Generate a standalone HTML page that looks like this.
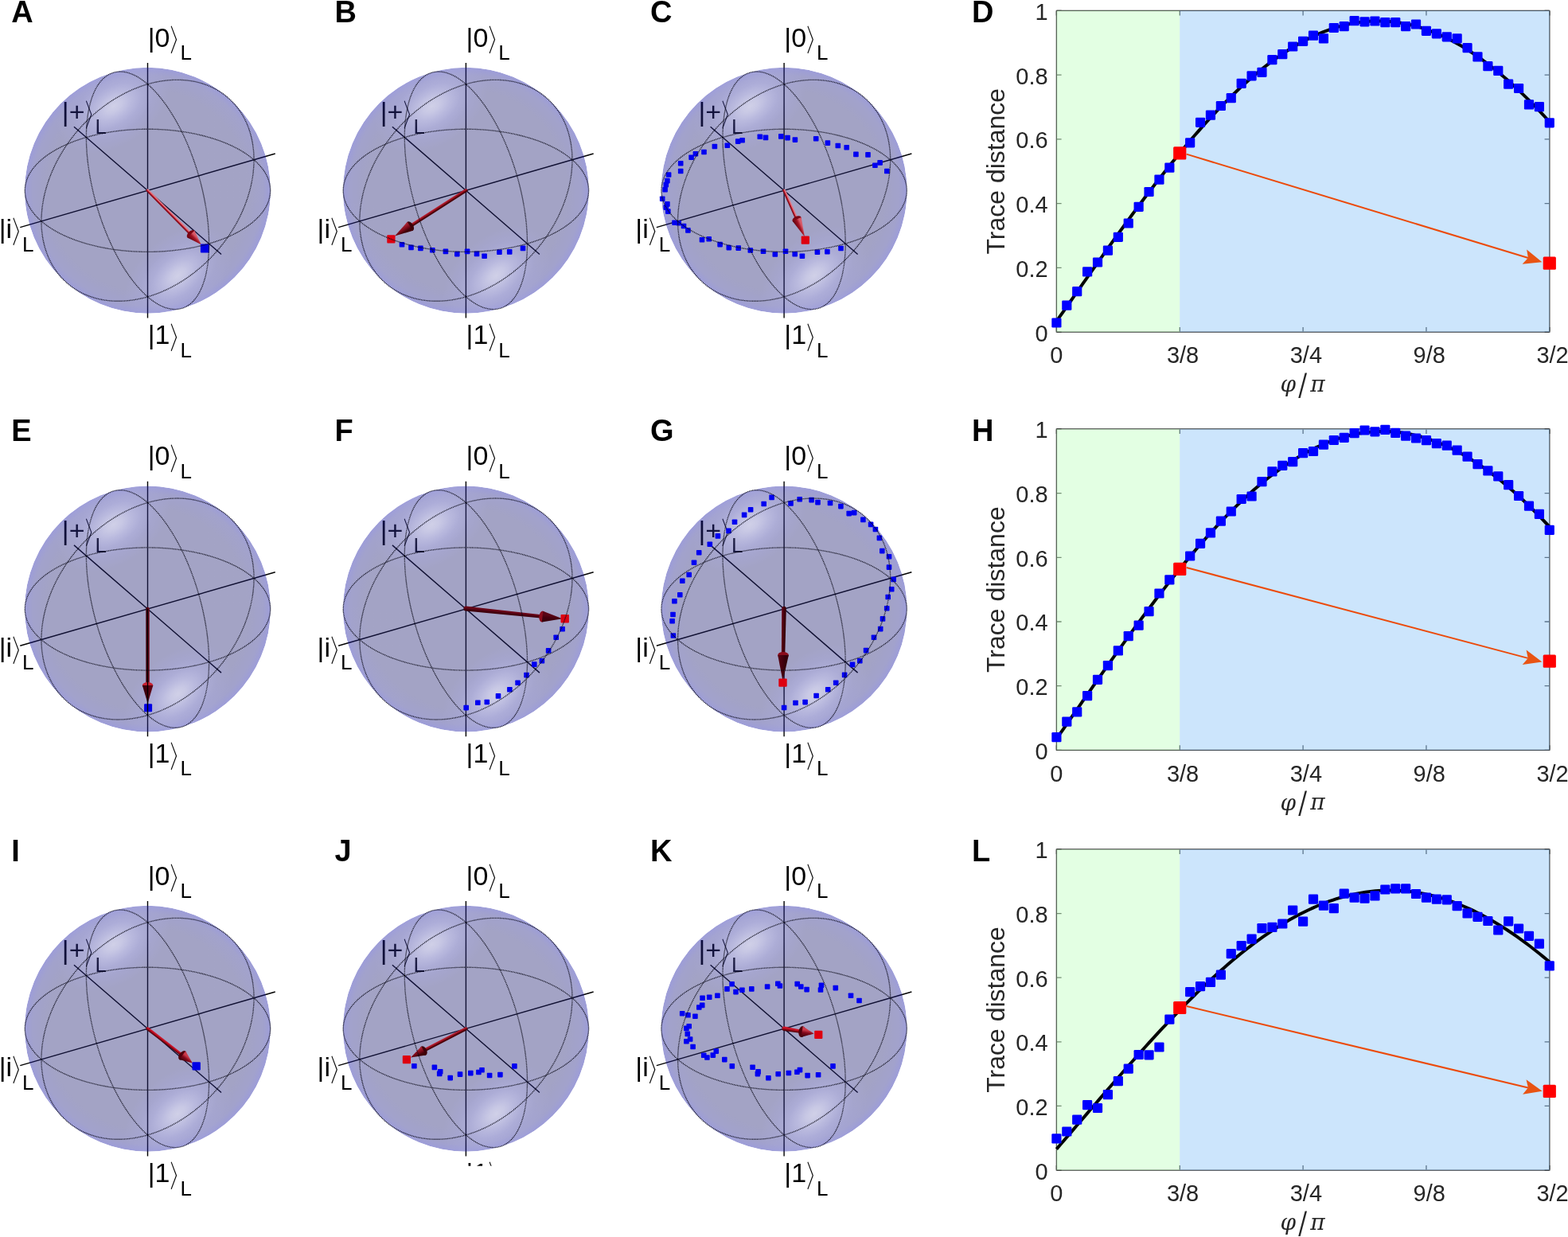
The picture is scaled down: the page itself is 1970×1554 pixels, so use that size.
<!DOCTYPE html>
<html><head><meta charset="utf-8"><title>Bloch sphere figure</title><style>html,body{margin:0;padding:0;background:#fff;}svg{display:block;}</style></head><body>
<svg xmlns="http://www.w3.org/2000/svg" width="1970" height="1554" viewBox="0 0 1970 1554">

<defs>
<radialGradient id="sph" cx="0.5" cy="0.5" r="0.5">
 <stop offset="0" stop-color="#242475"/>
 <stop offset="0.82" stop-color="#242475"/>
 <stop offset="0.94" stop-color="#222286"/>
 <stop offset="1" stop-color="#1616a5"/>
</radialGradient>
<radialGradient id="hl" cx="0.5" cy="0.5" r="0.5">
 <stop offset="0" stop-color="#9999c8" stop-opacity="0.9"/>
 <stop offset="0.2" stop-color="#9999c8" stop-opacity="0.72"/>
 <stop offset="0.45" stop-color="#9999c8" stop-opacity="0.38"/>
 <stop offset="0.7" stop-color="#9999c8" stop-opacity="0.12"/>
 <stop offset="1" stop-color="#9999c8" stop-opacity="0"/>
</radialGradient>
<radialGradient id="halo" cx="0.5" cy="0.5" r="0.5">
 <stop offset="0" stop-color="#3939ba" stop-opacity="0.9"/>
 <stop offset="0.5" stop-color="#3939ba" stop-opacity="0.5"/>
 <stop offset="1" stop-color="#3939ba" stop-opacity="0"/>
</radialGradient>
<linearGradient id="shaftLit" x1="0" y1="0" x2="0" y2="1">
 <stop offset="0" stop-color="#7a0010"/>
 <stop offset="0.35" stop-color="#c8283a"/>
 <stop offset="0.55" stop-color="#b01020"/>
 <stop offset="1" stop-color="#5a0008"/>
</linearGradient>
<linearGradient id="shaftMid" x1="0" y1="0" x2="0" y2="1">
 <stop offset="0" stop-color="#a01020"/>
 <stop offset="0.4" stop-color="#8a0a18"/>
 <stop offset="1" stop-color="#40000a"/>
</linearGradient>
<linearGradient id="shaftDark" x1="0" y1="0" x2="0" y2="1">
 <stop offset="0" stop-color="#5a0012"/>
 <stop offset="0.5" stop-color="#40000c"/>
 <stop offset="1" stop-color="#300008"/>
</linearGradient>
<clipPath id="clipJ"><rect x="440" y="1380" width="300" height="84.7"/></clipPath>
</defs>

<rect width="1970" height="1554" fill="#ffffff"/>
<text x="14.3" y="28.1" font-family="Liberation Sans, sans-serif" font-weight="700" font-size="38">A</text>
<text x="420.6" y="28.1" font-family="Liberation Sans, sans-serif" font-weight="700" font-size="38">B</text>
<text x="817" y="28.1" font-family="Liberation Sans, sans-serif" font-weight="700" font-size="38">C</text>
<text x="1220.9" y="28.1" font-family="Liberation Sans, sans-serif" font-weight="700" font-size="38">D</text>
<text x="14.3" y="553.7" font-family="Liberation Sans, sans-serif" font-weight="700" font-size="38">E</text>
<text x="420.6" y="553.7" font-family="Liberation Sans, sans-serif" font-weight="700" font-size="38">F</text>
<text x="817" y="553.7" font-family="Liberation Sans, sans-serif" font-weight="700" font-size="38">G</text>
<text x="1220.9" y="553.7" font-family="Liberation Sans, sans-serif" font-weight="700" font-size="38">H</text>
<text x="14.3" y="1081.5" font-family="Liberation Sans, sans-serif" font-weight="700" font-size="38">I</text>
<text x="420.6" y="1081.5" font-family="Liberation Sans, sans-serif" font-weight="700" font-size="38">J</text>
<text x="817" y="1081.5" font-family="Liberation Sans, sans-serif" font-weight="700" font-size="38">K</text>
<text x="1220.9" y="1081.5" font-family="Liberation Sans, sans-serif" font-weight="700" font-size="38">L</text>
<text x="185.7" y="58.5" font-family="Liberation Sans, sans-serif" font-size="34">|0</text>
<text transform="translate(215.24 64.3) scale(0.8 1)" x="-5.8" y="0" font-family="Liberation Sans, WenQuanYi Zen Hei, sans-serif" font-size="39.5">〉</text>
<text x="226.44" y="74.9" font-family="Liberation Sans, sans-serif" font-size="26">L</text>
<text x="185.7" y="432.2" font-family="Liberation Sans, sans-serif" font-size="34">|1</text>
<text transform="translate(215.24 438) scale(0.8 1)" x="-5.8" y="0" font-family="Liberation Sans, WenQuanYi Zen Hei, sans-serif" font-size="39.5">〉</text>
<text x="226.44" y="448.6" font-family="Liberation Sans, sans-serif" font-size="26">L</text>
<text x="-1.3" y="299.2" font-family="Liberation Sans, sans-serif" font-size="34">|i</text>
<text transform="translate(16.89 305) scale(0.8 1)" x="-5.8" y="0" font-family="Liberation Sans, WenQuanYi Zen Hei, sans-serif" font-size="39.5">〉</text>
<text x="28.09" y="315.6" font-family="Liberation Sans, sans-serif" font-size="26">L</text>
<text x="77.8" y="151.8" font-family="Liberation Sans, sans-serif" font-size="34">|+</text>
<text transform="translate(108.3 157.6) scale(0.8 1)" x="-5.8" y="0" font-family="Liberation Sans, WenQuanYi Zen Hei, sans-serif" font-size="39.5">〉</text>
<text x="119.5" y="168.2" font-family="Liberation Sans, sans-serif" font-size="26">L</text>
<line x1="92.98" y1="159.18" x2="278.02" y2="319.42" stroke="#000" stroke-width="1.4"/>
<line x1="25.25" y1="285.56" x2="345.75" y2="193.04" stroke="#000" stroke-width="1.4"/>
<line x1="185.5" y1="79.05" x2="185.5" y2="399.55" stroke="#000" stroke-width="1.4"/>
<clipPath id="sc00"><circle cx="185.5" cy="239.3" r="154.5"/></clipPath>
<g opacity="0.42" clip-path="url(#sc00)">
<circle cx="185.5" cy="239.3" r="154.5" fill="url(#sph)"/>
<ellipse cx="142.5" cy="133.3" rx="78" ry="50" transform="rotate(-33 142.5 133.3)" fill="url(#halo)"/>
<ellipse cx="142.5" cy="133.3" rx="56" ry="34" transform="rotate(-33 142.5 133.3)" fill="url(#hl)"/>
<ellipse cx="223.5" cy="346.3" rx="78" ry="50" transform="rotate(-40 223.5 346.3)" fill="url(#halo)"/>
<ellipse cx="223.5" cy="346.3" rx="56" ry="34" transform="rotate(-40 223.5 346.3)" fill="url(#hl)"/>
</g>
<defs><linearGradient id="ash0" x1="0" y1="0" x2="0" y2="1"><stop offset="0" stop-color="#e27884"/><stop offset="0.3" stop-color="#e27884"/><stop offset="0.55" stop-color="#b81a2a"/><stop offset="1" stop-color="#6a0010"/></linearGradient><linearGradient id="ahd0" x1="0" y1="0" x2="0" y2="1"><stop offset="0" stop-color="#d85a68"/><stop offset="0.3" stop-color="#d85a68"/><stop offset="0.55" stop-color="#a01222"/><stop offset="1" stop-color="#5a000c"/></linearGradient></defs>
<g transform="translate(185.5 239.3) rotate(45.25)">
<path d="M0 -1.85 L78.25 -1.85 L78.25 1.85 L0 1.85 A1.85 1.85 0 0 1 0 -1.85 Z" fill="url(#ash0)"/>
<ellipse cx="77.25" cy="0" rx="3.75" ry="6.25" fill="#7a0614"/>
<path d="M77.25 -6.25 L95.6 0 L77.25 6.25 Z" fill="url(#ahd0)"/>
</g>
<rect x="251.9" y="306.6" width="11" height="11" rx="1" fill="#0000e6"/>
<path d="M108.4 172.53 L103.79 173.92 L99.27 175.38 L94.86 176.92 L90.57 178.54 L86.38 180.24 L82.32 182 L78.38 183.84 L74.58 185.74 L70.91 187.71 L67.38 189.74 L63.99 191.83 L60.75 193.98 L57.66 196.19 L54.73 198.44 L51.96 200.75 L49.35 203.1 L46.91 205.5 L44.63 207.94 L42.53 210.42 L40.6 212.93 L38.85 215.47 L37.27 218.05 L35.88 220.65 L34.67 223.27 L33.64 225.91 L32.8 228.57 L32.14 231.24 L31.68 233.92 L31.39 236.61 L31.3 239.3 L31.39 241.99 L31.68 244.68 L32.14 247.36 L32.8 250.03 L33.64 252.69 L34.67 255.33 L35.88 257.95 L37.27 260.55 L38.85 263.13 L40.6 265.67 L42.53 268.18 L44.63 270.66 L46.91 273.1 L49.35 275.5 L51.96 277.85 L54.73 280.16 L57.66 282.41 L60.75 284.62 L63.99 286.77 L67.38 288.86 L70.91 290.89 L74.58 292.86 L78.38 294.76 L82.32 296.6 L86.38 298.36 L90.57 300.06 L94.86 301.68 L99.27 303.22 L103.79 304.68 L108.4 306.07 L113.11 307.38 L117.9 308.6 L122.78 309.73 L127.74 310.79 L132.76 311.75 L137.85 312.63 L143 313.41 L148.2 314.11 L153.44 314.72 L158.72 315.23 L164.04 315.65 L169.38 315.98 L174.74 316.21 L180.12 316.35 L185.5 316.4 L190.88 316.35 L196.26 316.21 L201.62 315.98 L206.96 315.65 L212.28 315.23 L217.56 314.72 L222.8 314.11 L228 313.41 L233.15 312.63 L238.24 311.75 L243.26 310.79 L248.22 309.73 L253.1 308.6 L257.89 307.38 L262.6 306.07 L267.21 304.68 L271.73 303.22 L276.14 301.68 L280.43 300.06 L284.62 298.36 L288.68 296.6 L292.62 294.76 L296.42 292.86 L300.09 290.89 L303.62 288.86 L307.01 286.77 L310.25 284.62 L313.34 282.41 L316.27 280.16 L319.04 277.85 L321.65 275.5 L324.09 273.1 L326.37 270.66 L328.47 268.18 L330.4 265.67 L332.15 263.13 L333.73 260.55 L335.12 257.95 L336.33 255.33 L337.36 252.69 L338.2 250.03 L338.86 247.36 L339.32 244.68 L339.61 241.99 L339.7 239.3 L339.61 236.61 L339.32 233.92 L338.86 231.24 L338.2 228.57 L337.36 225.91 L336.33 223.27 L335.12 220.65 L333.73 218.05 L332.15 215.47 L330.4 212.93 L328.47 210.42 L326.37 207.94 L324.09 205.5 L321.65 203.1 L319.04 200.75 L316.27 198.44 L313.34 196.19 L310.25 193.98 L307.01 191.83 L303.62 189.74 L300.09 187.71 L296.42 185.74 L292.62 183.84 L288.68 182 L284.62 180.24 L280.43 178.54 L276.14 176.92 L271.73 175.38 L267.21 173.92 L262.6 172.53 L257.89 171.22 L253.1 170 L248.22 168.87 L243.26 167.81 L238.24 166.85 L233.15 165.97 L228 165.19 L222.8 164.49 L217.56 163.88 L212.28 163.37 L206.96 162.95 L201.62 162.62 L196.26 162.39 L190.88 162.25 L185.5 162.2 L180.12 162.25 L174.74 162.39 L169.38 162.62 L164.04 162.95 L158.72 163.37 L153.44 163.88 L148.2 164.49 L143 165.19 L137.85 165.97 L132.76 166.85 L127.74 167.81 L122.78 168.87 L117.9 170 L113.11 171.22 L108.4 172.53Z" fill="none" stroke="#0a0a18" stroke-width="1.35" stroke-dasharray="1.2 0.85" opacity="0.88"/>
<path d="M185.5 105.76 L182.81 103.51 L180.12 101.43 L177.44 99.51 L174.77 97.77 L172.11 96.19 L169.47 94.79 L166.85 93.57 L164.25 92.53 L161.67 91.66 L159.13 90.98 L156.62 90.47 L154.14 90.15 L151.7 90 L149.3 90.04 L146.95 90.26 L144.64 90.67 L142.39 91.25 L140.18 92.02 L138.03 92.96 L135.94 94.08 L133.91 95.38 L131.94 96.86 L130.04 98.5 L128.2 100.32 L126.44 102.31 L124.74 104.47 L123.12 106.79 L121.58 109.27 L120.12 111.91 L118.73 114.7 L117.42 117.65 L116.2 120.75 L115.07 123.99 L114.01 127.37 L113.05 130.88 L112.17 134.53 L111.39 138.31 L110.69 142.21 L110.08 146.22 L109.57 150.35 L109.15 154.59 L108.82 158.94 L108.59 163.38 L108.45 167.91 L108.4 172.53 L108.45 177.23 L108.59 182.01 L108.82 186.85 L109.15 191.76 L109.57 196.73 L110.08 201.75 L110.69 206.82 L111.39 211.92 L112.17 217.06 L113.05 222.23 L114.01 227.42 L115.07 232.62 L116.2 237.83 L117.42 243.04 L118.73 248.25 L120.12 253.44 L121.58 258.62 L123.12 263.77 L124.74 268.9 L126.44 273.99 L128.2 279.04 L130.04 284.03 L131.94 288.98 L133.91 293.86 L135.94 298.68 L138.03 303.42 L140.18 308.09 L142.39 312.67 L144.64 317.17 L146.95 321.56 L149.3 325.86 L151.7 330.06 L154.14 334.14 L156.62 338.1 L159.13 341.95 L161.67 345.67 L164.25 349.26 L166.85 352.72 L169.47 356.04 L172.11 359.22 L174.77 362.25 L177.44 365.13 L180.12 367.86 L182.81 370.43 L185.5 372.84 L188.19 375.09 L190.88 377.17 L193.56 379.09 L196.23 380.83 L198.89 382.41 L201.53 383.81 L204.15 385.03 L206.75 386.07 L209.33 386.94 L211.87 387.62 L214.38 388.13 L216.86 388.45 L219.3 388.6 L221.7 388.56 L224.05 388.34 L226.36 387.93 L228.61 387.35 L230.82 386.58 L232.97 385.64 L235.06 384.52 L237.09 383.22 L239.06 381.74 L240.96 380.1 L242.8 378.28 L244.56 376.29 L246.26 374.13 L247.88 371.81 L249.42 369.33 L250.88 366.69 L252.27 363.9 L253.58 360.95 L254.8 357.85 L255.93 354.61 L256.99 351.23 L257.95 347.72 L258.83 344.07 L259.61 340.29 L260.31 336.39 L260.92 332.38 L261.43 328.25 L261.85 324.01 L262.18 319.66 L262.41 315.22 L262.55 310.69 L262.6 306.07 L262.55 301.37 L262.41 296.59 L262.18 291.75 L261.85 286.84 L261.43 281.87 L260.92 276.85 L260.31 271.78 L259.61 266.68 L258.83 261.54 L257.95 256.37 L256.99 251.18 L255.93 245.98 L254.8 240.77 L253.58 235.56 L252.27 230.35 L250.88 225.16 L249.42 219.98 L247.88 214.83 L246.26 209.7 L244.56 204.61 L242.8 199.56 L240.96 194.57 L239.06 189.62 L237.09 184.74 L235.06 179.92 L232.97 175.18 L230.82 170.51 L228.61 165.93 L226.36 161.43 L224.05 157.04 L221.7 152.74 L219.3 148.54 L216.86 144.46 L214.38 140.5 L211.87 136.65 L209.33 132.93 L206.75 129.34 L204.15 125.88 L201.53 122.56 L198.89 119.38 L196.23 116.35 L193.56 113.47 L190.88 110.74 L188.19 108.17 L185.5 105.76Z" fill="none" stroke="#0a0a18" stroke-width="1.35" stroke-dasharray="1.2 0.85" opacity="0.88"/>
<path d="M185.5 105.76 L180.84 107.19 L176.18 108.77 L171.54 110.52 L166.91 112.42 L162.31 114.48 L157.74 116.69 L153.19 119.05 L148.69 121.56 L144.23 124.21 L139.83 127 L135.47 129.92 L131.18 132.98 L126.96 136.17 L122.81 139.49 L118.73 142.93 L114.73 146.48 L110.82 150.15 L107.01 153.92 L103.28 157.8 L99.66 161.78 L96.14 165.85 L92.73 170.02 L89.44 174.27 L86.26 178.59 L83.2 182.99 L80.27 187.46 L77.46 191.99 L74.79 196.58 L72.25 201.23 L69.85 205.91 L67.59 210.64 L65.47 215.41 L63.5 220.2 L61.68 225.02 L60.01 229.85 L58.49 234.7 L57.13 239.55 L55.93 244.4 L54.88 249.24 L53.99 254.08 L53.26 258.89 L52.69 263.68 L52.28 268.44 L52.04 273.17 L51.96 277.85 L52.04 282.49 L52.28 287.07 L52.69 291.6 L53.26 296.06 L53.99 300.45 L54.88 304.77 L55.93 309.01 L57.13 313.17 L58.49 317.23 L60.01 321.2 L61.68 325.07 L63.5 328.83 L65.47 332.49 L67.59 336.03 L69.85 339.46 L72.25 342.76 L74.79 345.93 L77.46 348.98 L80.27 351.89 L83.2 354.67 L86.26 357.3 L89.44 359.8 L92.73 362.14 L96.14 364.34 L99.66 366.38 L103.28 368.27 L107.01 370 L110.82 371.57 L114.73 372.98 L118.73 374.22 L122.81 375.31 L126.96 376.23 L131.18 376.98 L135.47 377.56 L139.83 377.97 L144.23 378.22 L148.69 378.29 L153.19 378.2 L157.74 377.94 L162.31 377.51 L166.91 376.91 L171.54 376.14 L176.18 375.2 L180.84 374.11 L185.5 372.84 L190.16 371.41 L194.82 369.83 L199.46 368.08 L204.09 366.18 L208.69 364.12 L213.26 361.91 L217.81 359.55 L222.31 357.04 L226.77 354.39 L231.17 351.6 L235.53 348.68 L239.82 345.62 L244.04 342.43 L248.19 339.11 L252.27 335.67 L256.27 332.12 L260.18 328.45 L263.99 324.68 L267.72 320.8 L271.34 316.82 L274.86 312.75 L278.27 308.58 L281.56 304.33 L284.74 300.01 L287.8 295.61 L290.73 291.14 L293.54 286.61 L296.21 282.02 L298.75 277.37 L301.15 272.69 L303.41 267.96 L305.53 263.19 L307.5 258.4 L309.32 253.58 L310.99 248.75 L312.51 243.9 L313.87 239.05 L315.07 234.2 L316.12 229.36 L317.01 224.52 L317.74 219.71 L318.31 214.92 L318.72 210.16 L318.96 205.43 L319.04 200.75 L318.96 196.11 L318.72 191.53 L318.31 187 L317.74 182.54 L317.01 178.15 L316.12 173.83 L315.07 169.59 L313.87 165.43 L312.51 161.37 L310.99 157.4 L309.32 153.53 L307.5 149.77 L305.53 146.11 L303.41 142.57 L301.15 139.14 L298.75 135.84 L296.21 132.67 L293.54 129.62 L290.73 126.71 L287.8 123.93 L284.74 121.3 L281.56 118.8 L278.27 116.46 L274.86 114.26 L271.34 112.22 L267.72 110.33 L263.99 108.6 L260.18 107.03 L256.27 105.62 L252.27 104.38 L248.19 103.29 L244.04 102.37 L239.82 101.62 L235.53 101.04 L231.17 100.63 L226.77 100.38 L222.31 100.31 L217.81 100.4 L213.26 100.66 L208.69 101.09 L204.09 101.69 L199.46 102.46 L194.82 103.4 L190.16 104.49 L185.5 105.76Z" fill="none" stroke="#0a0a18" stroke-width="1.35" stroke-dasharray="1.2 0.85" opacity="0.88"/>
<text x="585.6" y="58.5" font-family="Liberation Sans, sans-serif" font-size="34">|0</text>
<text transform="translate(615.14 64.3) scale(0.8 1)" x="-5.8" y="0" font-family="Liberation Sans, WenQuanYi Zen Hei, sans-serif" font-size="39.5">〉</text>
<text x="626.34" y="74.9" font-family="Liberation Sans, sans-serif" font-size="26">L</text>
<text x="585.6" y="432.2" font-family="Liberation Sans, sans-serif" font-size="34">|1</text>
<text transform="translate(615.14 438) scale(0.8 1)" x="-5.8" y="0" font-family="Liberation Sans, WenQuanYi Zen Hei, sans-serif" font-size="39.5">〉</text>
<text x="626.34" y="448.6" font-family="Liberation Sans, sans-serif" font-size="26">L</text>
<text x="398.6" y="299.2" font-family="Liberation Sans, sans-serif" font-size="34">|i</text>
<text transform="translate(416.79 305) scale(0.8 1)" x="-5.8" y="0" font-family="Liberation Sans, WenQuanYi Zen Hei, sans-serif" font-size="39.5">〉</text>
<text x="427.99" y="315.6" font-family="Liberation Sans, sans-serif" font-size="26">L</text>
<text x="477.7" y="151.8" font-family="Liberation Sans, sans-serif" font-size="34">|+</text>
<text transform="translate(508.2 157.6) scale(0.8 1)" x="-5.8" y="0" font-family="Liberation Sans, WenQuanYi Zen Hei, sans-serif" font-size="39.5">〉</text>
<text x="519.4" y="168.2" font-family="Liberation Sans, sans-serif" font-size="26">L</text>
<line x1="492.88" y1="159.18" x2="677.92" y2="319.42" stroke="#000" stroke-width="1.4"/>
<line x1="425.15" y1="285.56" x2="745.65" y2="193.04" stroke="#000" stroke-width="1.4"/>
<line x1="585.4" y1="79.05" x2="585.4" y2="399.55" stroke="#000" stroke-width="1.4"/>
<clipPath id="sc10"><circle cx="585.4" cy="239.3" r="154.5"/></clipPath>
<g opacity="0.42" clip-path="url(#sc10)">
<circle cx="585.4" cy="239.3" r="154.5" fill="url(#sph)"/>
<ellipse cx="542.4" cy="133.3" rx="78" ry="50" transform="rotate(-33 542.4 133.3)" fill="url(#halo)"/>
<ellipse cx="542.4" cy="133.3" rx="56" ry="34" transform="rotate(-33 542.4 133.3)" fill="url(#hl)"/>
<ellipse cx="623.4" cy="346.3" rx="78" ry="50" transform="rotate(-40 623.4 346.3)" fill="url(#halo)"/>
<ellipse cx="623.4" cy="346.3" rx="56" ry="34" transform="rotate(-40 623.4 346.3)" fill="url(#hl)"/>
</g>
<rect x="501.7" y="303.9" width="6.6" height="6.6" rx="0.8" fill="#0000f0"/>
<rect x="513.2" y="307.6" width="6.6" height="6.6" rx="0.8" fill="#0000f0"/>
<rect x="525.1" y="308.6" width="6.6" height="6.6" rx="0.8" fill="#0000f0"/>
<rect x="540" y="310.9" width="6.6" height="6.6" rx="0.8" fill="#0000f0"/>
<rect x="556.6" y="312.6" width="6.6" height="6.6" rx="0.8" fill="#0000f0"/>
<rect x="571" y="315.8" width="6.6" height="6.6" rx="0.8" fill="#0000f0"/>
<rect x="583.8" y="312.6" width="6.6" height="6.6" rx="0.8" fill="#0000f0"/>
<rect x="595.7" y="315.6" width="6.6" height="6.6" rx="0.8" fill="#0000f0"/>
<rect x="605.3" y="318.5" width="6.6" height="6.6" rx="0.8" fill="#0000f0"/>
<rect x="624.1" y="313.5" width="6.6" height="6.6" rx="0.8" fill="#0000f0"/>
<rect x="636.9" y="313.1" width="6.6" height="6.6" rx="0.8" fill="#0000f0"/>
<rect x="653.7" y="308.6" width="6.6" height="6.6" rx="0.8" fill="#0000f0"/>
<defs><linearGradient id="ash1" x1="0" y1="0" x2="0" y2="1"><stop offset="0" stop-color="#4a0008"/><stop offset="0.3" stop-color="#4a0008"/><stop offset="0.55" stop-color="#900c1c"/><stop offset="1" stop-color="#c02434"/></linearGradient><linearGradient id="ahd1" x1="0" y1="0" x2="0" y2="1"><stop offset="0" stop-color="#400008"/><stop offset="0.3" stop-color="#400008"/><stop offset="0.55" stop-color="#7a0818"/><stop offset="1" stop-color="#b82838"/></linearGradient></defs>
<g transform="translate(585.4 239.3) rotate(147.39)">
<path d="M0 -2.1 L84.24 -2.1 L84.24 2.1 L0 2.1 A2.1 2.1 0 0 1 0 -2.1 Z" fill="url(#ash1)"/>
<ellipse cx="83.24" cy="0" rx="3.9" ry="6.5" fill="#3c0008"/>
<path d="M83.24 -6.5 L106.13 0 L83.24 6.5 Z" fill="url(#ahd1)"/>
</g>
<rect x="486.25" y="295.25" width="10.3" height="10.3" rx="1" fill="#dd0010"/>
<path d="M508.3 172.53 L503.69 173.92 L499.17 175.38 L494.76 176.92 L490.47 178.54 L486.28 180.24 L482.22 182 L478.28 183.84 L474.48 185.74 L470.81 187.71 L467.28 189.74 L463.89 191.83 L460.65 193.98 L457.56 196.19 L454.63 198.44 L451.86 200.75 L449.25 203.1 L446.81 205.5 L444.53 207.94 L442.43 210.42 L440.5 212.93 L438.75 215.47 L437.17 218.05 L435.78 220.65 L434.57 223.27 L433.54 225.91 L432.7 228.57 L432.04 231.24 L431.58 233.92 L431.29 236.61 L431.2 239.3 L431.29 241.99 L431.58 244.68 L432.04 247.36 L432.7 250.03 L433.54 252.69 L434.57 255.33 L435.78 257.95 L437.17 260.55 L438.75 263.13 L440.5 265.67 L442.43 268.18 L444.53 270.66 L446.81 273.1 L449.25 275.5 L451.86 277.85 L454.63 280.16 L457.56 282.41 L460.65 284.62 L463.89 286.77 L467.28 288.86 L470.81 290.89 L474.48 292.86 L478.28 294.76 L482.22 296.6 L486.28 298.36 L490.47 300.06 L494.76 301.68 L499.17 303.22 L503.69 304.68 L508.3 306.07 L513.01 307.38 L517.8 308.6 L522.68 309.73 L527.64 310.79 L532.66 311.75 L537.75 312.63 L542.9 313.41 L548.1 314.11 L553.34 314.72 L558.62 315.23 L563.94 315.65 L569.28 315.98 L574.64 316.21 L580.02 316.35 L585.4 316.4 L590.78 316.35 L596.16 316.21 L601.52 315.98 L606.86 315.65 L612.18 315.23 L617.46 314.72 L622.7 314.11 L627.9 313.41 L633.05 312.63 L638.14 311.75 L643.16 310.79 L648.12 309.73 L653 308.6 L657.79 307.38 L662.5 306.07 L667.11 304.68 L671.63 303.22 L676.04 301.68 L680.33 300.06 L684.52 298.36 L688.58 296.6 L692.52 294.76 L696.32 292.86 L699.99 290.89 L703.52 288.86 L706.91 286.77 L710.15 284.62 L713.24 282.41 L716.17 280.16 L718.94 277.85 L721.55 275.5 L723.99 273.1 L726.27 270.66 L728.37 268.18 L730.3 265.67 L732.05 263.13 L733.63 260.55 L735.02 257.95 L736.23 255.33 L737.26 252.69 L738.1 250.03 L738.76 247.36 L739.22 244.68 L739.51 241.99 L739.6 239.3 L739.51 236.61 L739.22 233.92 L738.76 231.24 L738.1 228.57 L737.26 225.91 L736.23 223.27 L735.02 220.65 L733.63 218.05 L732.05 215.47 L730.3 212.93 L728.37 210.42 L726.27 207.94 L723.99 205.5 L721.55 203.1 L718.94 200.75 L716.17 198.44 L713.24 196.19 L710.15 193.98 L706.91 191.83 L703.52 189.74 L699.99 187.71 L696.32 185.74 L692.52 183.84 L688.58 182 L684.52 180.24 L680.33 178.54 L676.04 176.92 L671.63 175.38 L667.11 173.92 L662.5 172.53 L657.79 171.22 L653 170 L648.12 168.87 L643.16 167.81 L638.14 166.85 L633.05 165.97 L627.9 165.19 L622.7 164.49 L617.46 163.88 L612.18 163.37 L606.86 162.95 L601.52 162.62 L596.16 162.39 L590.78 162.25 L585.4 162.2 L580.02 162.25 L574.64 162.39 L569.28 162.62 L563.94 162.95 L558.62 163.37 L553.34 163.88 L548.1 164.49 L542.9 165.19 L537.75 165.97 L532.66 166.85 L527.64 167.81 L522.68 168.87 L517.8 170 L513.01 171.22 L508.3 172.53Z" fill="none" stroke="#0a0a18" stroke-width="1.35" stroke-dasharray="1.2 0.85" opacity="0.88"/>
<path d="M585.4 105.76 L582.71 103.51 L580.02 101.43 L577.34 99.51 L574.67 97.77 L572.01 96.19 L569.37 94.79 L566.75 93.57 L564.15 92.53 L561.57 91.66 L559.03 90.98 L556.52 90.47 L554.04 90.15 L551.6 90 L549.2 90.04 L546.85 90.26 L544.54 90.67 L542.29 91.25 L540.08 92.02 L537.93 92.96 L535.84 94.08 L533.81 95.38 L531.84 96.86 L529.94 98.5 L528.1 100.32 L526.34 102.31 L524.64 104.47 L523.02 106.79 L521.48 109.27 L520.02 111.91 L518.63 114.7 L517.32 117.65 L516.1 120.75 L514.97 123.99 L513.91 127.37 L512.95 130.88 L512.07 134.53 L511.29 138.31 L510.59 142.21 L509.98 146.22 L509.47 150.35 L509.05 154.59 L508.72 158.94 L508.49 163.38 L508.35 167.91 L508.3 172.53 L508.35 177.23 L508.49 182.01 L508.72 186.85 L509.05 191.76 L509.47 196.73 L509.98 201.75 L510.59 206.82 L511.29 211.92 L512.07 217.06 L512.95 222.23 L513.91 227.42 L514.97 232.62 L516.1 237.83 L517.32 243.04 L518.63 248.25 L520.02 253.44 L521.48 258.62 L523.02 263.77 L524.64 268.9 L526.34 273.99 L528.1 279.04 L529.94 284.03 L531.84 288.98 L533.81 293.86 L535.84 298.68 L537.93 303.42 L540.08 308.09 L542.29 312.67 L544.54 317.17 L546.85 321.56 L549.2 325.86 L551.6 330.06 L554.04 334.14 L556.52 338.1 L559.03 341.95 L561.57 345.67 L564.15 349.26 L566.75 352.72 L569.37 356.04 L572.01 359.22 L574.67 362.25 L577.34 365.13 L580.02 367.86 L582.71 370.43 L585.4 372.84 L588.09 375.09 L590.78 377.17 L593.46 379.09 L596.13 380.83 L598.79 382.41 L601.43 383.81 L604.05 385.03 L606.65 386.07 L609.23 386.94 L611.77 387.62 L614.28 388.13 L616.76 388.45 L619.2 388.6 L621.6 388.56 L623.95 388.34 L626.26 387.93 L628.51 387.35 L630.72 386.58 L632.87 385.64 L634.96 384.52 L636.99 383.22 L638.96 381.74 L640.86 380.1 L642.7 378.28 L644.46 376.29 L646.16 374.13 L647.78 371.81 L649.32 369.33 L650.78 366.69 L652.17 363.9 L653.48 360.95 L654.7 357.85 L655.83 354.61 L656.89 351.23 L657.85 347.72 L658.73 344.07 L659.51 340.29 L660.21 336.39 L660.82 332.38 L661.33 328.25 L661.75 324.01 L662.08 319.66 L662.31 315.22 L662.45 310.69 L662.5 306.07 L662.45 301.37 L662.31 296.59 L662.08 291.75 L661.75 286.84 L661.33 281.87 L660.82 276.85 L660.21 271.78 L659.51 266.68 L658.73 261.54 L657.85 256.37 L656.89 251.18 L655.83 245.98 L654.7 240.77 L653.48 235.56 L652.17 230.35 L650.78 225.16 L649.32 219.98 L647.78 214.83 L646.16 209.7 L644.46 204.61 L642.7 199.56 L640.86 194.57 L638.96 189.62 L636.99 184.74 L634.96 179.92 L632.87 175.18 L630.72 170.51 L628.51 165.93 L626.26 161.43 L623.95 157.04 L621.6 152.74 L619.2 148.54 L616.76 144.46 L614.28 140.5 L611.77 136.65 L609.23 132.93 L606.65 129.34 L604.05 125.88 L601.43 122.56 L598.79 119.38 L596.13 116.35 L593.46 113.47 L590.78 110.74 L588.09 108.17 L585.4 105.76Z" fill="none" stroke="#0a0a18" stroke-width="1.35" stroke-dasharray="1.2 0.85" opacity="0.88"/>
<path d="M585.4 105.76 L580.74 107.19 L576.08 108.77 L571.44 110.52 L566.81 112.42 L562.21 114.48 L557.64 116.69 L553.09 119.05 L548.59 121.56 L544.13 124.21 L539.73 127 L535.37 129.92 L531.08 132.98 L526.86 136.17 L522.71 139.49 L518.63 142.93 L514.63 146.48 L510.72 150.15 L506.91 153.92 L503.18 157.8 L499.56 161.78 L496.04 165.85 L492.63 170.02 L489.34 174.27 L486.16 178.59 L483.1 182.99 L480.17 187.46 L477.36 191.99 L474.69 196.58 L472.15 201.23 L469.75 205.91 L467.49 210.64 L465.37 215.41 L463.4 220.2 L461.58 225.02 L459.91 229.85 L458.39 234.7 L457.03 239.55 L455.83 244.4 L454.78 249.24 L453.89 254.08 L453.16 258.89 L452.59 263.68 L452.18 268.44 L451.94 273.17 L451.86 277.85 L451.94 282.49 L452.18 287.07 L452.59 291.6 L453.16 296.06 L453.89 300.45 L454.78 304.77 L455.83 309.01 L457.03 313.17 L458.39 317.23 L459.91 321.2 L461.58 325.07 L463.4 328.83 L465.37 332.49 L467.49 336.03 L469.75 339.46 L472.15 342.76 L474.69 345.93 L477.36 348.98 L480.17 351.89 L483.1 354.67 L486.16 357.3 L489.34 359.8 L492.63 362.14 L496.04 364.34 L499.56 366.38 L503.18 368.27 L506.91 370 L510.72 371.57 L514.63 372.98 L518.63 374.22 L522.71 375.31 L526.86 376.23 L531.08 376.98 L535.37 377.56 L539.73 377.97 L544.13 378.22 L548.59 378.29 L553.09 378.2 L557.64 377.94 L562.21 377.51 L566.81 376.91 L571.44 376.14 L576.08 375.2 L580.74 374.11 L585.4 372.84 L590.06 371.41 L594.72 369.83 L599.36 368.08 L603.99 366.18 L608.59 364.12 L613.16 361.91 L617.71 359.55 L622.21 357.04 L626.67 354.39 L631.07 351.6 L635.43 348.68 L639.72 345.62 L643.94 342.43 L648.09 339.11 L652.17 335.67 L656.17 332.12 L660.08 328.45 L663.89 324.68 L667.62 320.8 L671.24 316.82 L674.76 312.75 L678.17 308.58 L681.46 304.33 L684.64 300.01 L687.7 295.61 L690.63 291.14 L693.44 286.61 L696.11 282.02 L698.65 277.37 L701.05 272.69 L703.31 267.96 L705.43 263.19 L707.4 258.4 L709.22 253.58 L710.89 248.75 L712.41 243.9 L713.77 239.05 L714.97 234.2 L716.02 229.36 L716.91 224.52 L717.64 219.71 L718.21 214.92 L718.62 210.16 L718.86 205.43 L718.94 200.75 L718.86 196.11 L718.62 191.53 L718.21 187 L717.64 182.54 L716.91 178.15 L716.02 173.83 L714.97 169.59 L713.77 165.43 L712.41 161.37 L710.89 157.4 L709.22 153.53 L707.4 149.77 L705.43 146.11 L703.31 142.57 L701.05 139.14 L698.65 135.84 L696.11 132.67 L693.44 129.62 L690.63 126.71 L687.7 123.93 L684.64 121.3 L681.46 118.8 L678.17 116.46 L674.76 114.26 L671.24 112.22 L667.62 110.33 L663.89 108.6 L660.08 107.03 L656.17 105.62 L652.17 104.38 L648.09 103.29 L643.94 102.37 L639.72 101.62 L635.43 101.04 L631.07 100.63 L626.67 100.38 L622.21 100.31 L617.71 100.4 L613.16 100.66 L608.59 101.09 L603.99 101.69 L599.36 102.46 L594.72 103.4 L590.06 104.49 L585.4 105.76Z" fill="none" stroke="#0a0a18" stroke-width="1.35" stroke-dasharray="1.2 0.85" opacity="0.88"/>
<text x="985.3" y="58.5" font-family="Liberation Sans, sans-serif" font-size="34">|0</text>
<text transform="translate(1014.84 64.3) scale(0.8 1)" x="-5.8" y="0" font-family="Liberation Sans, WenQuanYi Zen Hei, sans-serif" font-size="39.5">〉</text>
<text x="1026.04" y="74.9" font-family="Liberation Sans, sans-serif" font-size="26">L</text>
<text x="985.3" y="432.2" font-family="Liberation Sans, sans-serif" font-size="34">|1</text>
<text transform="translate(1014.84 438) scale(0.8 1)" x="-5.8" y="0" font-family="Liberation Sans, WenQuanYi Zen Hei, sans-serif" font-size="39.5">〉</text>
<text x="1026.04" y="448.6" font-family="Liberation Sans, sans-serif" font-size="26">L</text>
<text x="798.3" y="299.2" font-family="Liberation Sans, sans-serif" font-size="34">|i</text>
<text transform="translate(816.49 305) scale(0.8 1)" x="-5.8" y="0" font-family="Liberation Sans, WenQuanYi Zen Hei, sans-serif" font-size="39.5">〉</text>
<text x="827.69" y="315.6" font-family="Liberation Sans, sans-serif" font-size="26">L</text>
<text x="877.4" y="151.8" font-family="Liberation Sans, sans-serif" font-size="34">|+</text>
<text transform="translate(907.9 157.6) scale(0.8 1)" x="-5.8" y="0" font-family="Liberation Sans, WenQuanYi Zen Hei, sans-serif" font-size="39.5">〉</text>
<text x="919.1" y="168.2" font-family="Liberation Sans, sans-serif" font-size="26">L</text>
<line x1="892.58" y1="159.18" x2="1077.62" y2="319.42" stroke="#000" stroke-width="1.4"/>
<line x1="824.85" y1="285.56" x2="1145.35" y2="193.04" stroke="#000" stroke-width="1.4"/>
<line x1="985.1" y1="79.05" x2="985.1" y2="399.55" stroke="#000" stroke-width="1.4"/>
<clipPath id="sc20"><circle cx="985.1" cy="239.3" r="154.5"/></clipPath>
<g opacity="0.42" clip-path="url(#sc20)">
<circle cx="985.1" cy="239.3" r="154.5" fill="url(#sph)"/>
<ellipse cx="942.1" cy="133.3" rx="78" ry="50" transform="rotate(-33 942.1 133.3)" fill="url(#halo)"/>
<ellipse cx="942.1" cy="133.3" rx="56" ry="34" transform="rotate(-33 942.1 133.3)" fill="url(#hl)"/>
<ellipse cx="1023.1" cy="346.3" rx="78" ry="50" transform="rotate(-40 1023.1 346.3)" fill="url(#halo)"/>
<ellipse cx="1023.1" cy="346.3" rx="56" ry="34" transform="rotate(-40 1023.1 346.3)" fill="url(#hl)"/>
</g>
<rect x="851.9" y="202" width="6.6" height="6.6" rx="0.8" fill="#0000f0"/>
<rect x="851.9" y="211.7" width="6.6" height="6.6" rx="0.8" fill="#0000f0"/>
<rect x="865.3" y="194.4" width="6.6" height="6.6" rx="0.8" fill="#0000f0"/>
<rect x="870.6" y="189.9" width="6.6" height="6.6" rx="0.8" fill="#0000f0"/>
<rect x="881.2" y="187.7" width="6.6" height="6.6" rx="0.8" fill="#0000f0"/>
<rect x="894.6" y="180.7" width="6.6" height="6.6" rx="0.8" fill="#0000f0"/>
<rect x="910.5" y="179.4" width="6.6" height="6.6" rx="0.8" fill="#0000f0"/>
<rect x="923.9" y="174.3" width="6.6" height="6.6" rx="0.8" fill="#0000f0"/>
<rect x="929.3" y="173" width="6.6" height="6.6" rx="0.8" fill="#0000f0"/>
<rect x="951.5" y="168.5" width="6.6" height="6.6" rx="0.8" fill="#0000f0"/>
<rect x="958.7" y="169.6" width="6.6" height="6.6" rx="0.8" fill="#0000f0"/>
<rect x="978" y="168.1" width="6.6" height="6.6" rx="0.8" fill="#0000f0"/>
<rect x="986.2" y="169.8" width="6.6" height="6.6" rx="0.8" fill="#0000f0"/>
<rect x="995.6" y="172.3" width="6.6" height="6.6" rx="0.8" fill="#0000f0"/>
<rect x="1021.9" y="171" width="6.6" height="6.6" rx="0.8" fill="#0000f0"/>
<rect x="1036.6" y="176.3" width="6.6" height="6.6" rx="0.8" fill="#0000f0"/>
<rect x="1049.5" y="179.7" width="6.6" height="6.6" rx="0.8" fill="#0000f0"/>
<rect x="1060.4" y="181.9" width="6.6" height="6.6" rx="0.8" fill="#0000f0"/>
<rect x="1072.1" y="190.6" width="6.6" height="6.6" rx="0.8" fill="#0000f0"/>
<rect x="1087.2" y="191.1" width="6.6" height="6.6" rx="0.8" fill="#0000f0"/>
<rect x="1096.1" y="204.5" width="6.6" height="6.6" rx="0.8" fill="#0000f0"/>
<rect x="1102.3" y="201.1" width="6.6" height="6.6" rx="0.8" fill="#0000f0"/>
<rect x="1111" y="211.7" width="6.6" height="6.6" rx="0.8" fill="#0000f0"/>
<rect x="836.8" y="216.2" width="6.6" height="6.6" rx="0.8" fill="#0000f0"/>
<rect x="835.1" y="223.8" width="6.6" height="6.6" rx="0.8" fill="#0000f0"/>
<rect x="833.5" y="228.8" width="6.6" height="6.6" rx="0.8" fill="#0000f0"/>
<rect x="832.3" y="235" width="6.6" height="6.6" rx="0.8" fill="#0000f0"/>
<rect x="828.9" y="246.4" width="6.6" height="6.6" rx="0.8" fill="#0000f0"/>
<rect x="835.1" y="253.1" width="6.6" height="6.6" rx="0.8" fill="#0000f0"/>
<rect x="833.5" y="257.3" width="6.6" height="6.6" rx="0.8" fill="#0000f0"/>
<rect x="836" y="262.3" width="6.6" height="6.6" rx="0.8" fill="#0000f0"/>
<rect x="844.3" y="276.5" width="6.6" height="6.6" rx="0.8" fill="#0000f0"/>
<rect x="849.4" y="277" width="6.6" height="6.6" rx="0.8" fill="#0000f0"/>
<rect x="855.7" y="280.7" width="6.6" height="6.6" rx="0.8" fill="#0000f0"/>
<rect x="861.1" y="286.1" width="6.6" height="6.6" rx="0.8" fill="#0000f0"/>
<rect x="878.7" y="298" width="6.6" height="6.6" rx="0.8" fill="#0000f0"/>
<rect x="887.4" y="297" width="6.6" height="6.6" rx="0.8" fill="#0000f0"/>
<rect x="901.3" y="303.8" width="6.6" height="6.6" rx="0.8" fill="#0000f0"/>
<rect x="912.5" y="307.8" width="6.6" height="6.6" rx="0.8" fill="#0000f0"/>
<rect x="924.4" y="308.3" width="6.6" height="6.6" rx="0.8" fill="#0000f0"/>
<rect x="939.5" y="311.2" width="6.6" height="6.6" rx="0.8" fill="#0000f0"/>
<rect x="955.7" y="312.5" width="6.6" height="6.6" rx="0.8" fill="#0000f0"/>
<rect x="970.5" y="316.2" width="6.6" height="6.6" rx="0.8" fill="#0000f0"/>
<rect x="983.7" y="312.5" width="6.6" height="6.6" rx="0.8" fill="#0000f0"/>
<rect x="995.4" y="315.9" width="6.6" height="6.6" rx="0.8" fill="#0000f0"/>
<rect x="1004.6" y="318.4" width="6.6" height="6.6" rx="0.8" fill="#0000f0"/>
<rect x="1023.6" y="313.4" width="6.6" height="6.6" rx="0.8" fill="#0000f0"/>
<rect x="1036.1" y="313" width="6.6" height="6.6" rx="0.8" fill="#0000f0"/>
<rect x="1053.2" y="308.7" width="6.6" height="6.6" rx="0.8" fill="#0000f0"/>
<defs><linearGradient id="ash2" x1="0" y1="0" x2="0" y2="1"><stop offset="0" stop-color="#e27884"/><stop offset="0.3" stop-color="#e27884"/><stop offset="0.55" stop-color="#b81a2a"/><stop offset="1" stop-color="#6a0010"/></linearGradient><linearGradient id="ahd2" x1="0" y1="0" x2="0" y2="1"><stop offset="0" stop-color="#d85a68"/><stop offset="0.3" stop-color="#d85a68"/><stop offset="0.55" stop-color="#a01222"/><stop offset="1" stop-color="#5a000c"/></linearGradient></defs>
<g transform="translate(985.1 239.3) rotate(66.01)">
<path d="M0 -1.8 L40.46 -1.8 L40.46 1.8 L0 1.8 A1.8 1.8 0 0 1 0 -1.8 Z" fill="url(#ash2)"/>
<ellipse cx="39.46" cy="0" rx="3.6" ry="6" fill="#7a0614"/>
<path d="M39.46 -6 L63.7 0 L39.46 6 Z" fill="url(#ahd2)"/>
</g>
<rect x="1006.65" y="296.45" width="10.3" height="10.3" rx="1" fill="#dd0010"/>
<path d="M908 172.53 L903.39 173.92 L898.87 175.38 L894.46 176.92 L890.17 178.54 L885.98 180.24 L881.92 182 L877.98 183.84 L874.18 185.74 L870.51 187.71 L866.98 189.74 L863.59 191.83 L860.35 193.98 L857.26 196.19 L854.33 198.44 L851.56 200.75 L848.95 203.1 L846.51 205.5 L844.23 207.94 L842.13 210.42 L840.2 212.93 L838.45 215.47 L836.87 218.05 L835.48 220.65 L834.27 223.27 L833.24 225.91 L832.4 228.57 L831.74 231.24 L831.28 233.92 L830.99 236.61 L830.9 239.3 L830.99 241.99 L831.28 244.68 L831.74 247.36 L832.4 250.03 L833.24 252.69 L834.27 255.33 L835.48 257.95 L836.87 260.55 L838.45 263.13 L840.2 265.67 L842.13 268.18 L844.23 270.66 L846.51 273.1 L848.95 275.5 L851.56 277.85 L854.33 280.16 L857.26 282.41 L860.35 284.62 L863.59 286.77 L866.98 288.86 L870.51 290.89 L874.18 292.86 L877.98 294.76 L881.92 296.6 L885.98 298.36 L890.17 300.06 L894.46 301.68 L898.87 303.22 L903.39 304.68 L908 306.07 L912.71 307.38 L917.5 308.6 L922.38 309.73 L927.34 310.79 L932.36 311.75 L937.45 312.63 L942.6 313.41 L947.8 314.11 L953.04 314.72 L958.32 315.23 L963.64 315.65 L968.98 315.98 L974.34 316.21 L979.72 316.35 L985.1 316.4 L990.48 316.35 L995.86 316.21 L1001.22 315.98 L1006.56 315.65 L1011.88 315.23 L1017.16 314.72 L1022.4 314.11 L1027.6 313.41 L1032.75 312.63 L1037.84 311.75 L1042.86 310.79 L1047.82 309.73 L1052.7 308.6 L1057.49 307.38 L1062.2 306.07 L1066.81 304.68 L1071.33 303.22 L1075.74 301.68 L1080.03 300.06 L1084.22 298.36 L1088.28 296.6 L1092.22 294.76 L1096.02 292.86 L1099.69 290.89 L1103.22 288.86 L1106.61 286.77 L1109.85 284.62 L1112.94 282.41 L1115.87 280.16 L1118.64 277.85 L1121.25 275.5 L1123.69 273.1 L1125.97 270.66 L1128.07 268.18 L1130 265.67 L1131.75 263.13 L1133.33 260.55 L1134.72 257.95 L1135.93 255.33 L1136.96 252.69 L1137.8 250.03 L1138.46 247.36 L1138.92 244.68 L1139.21 241.99 L1139.3 239.3 L1139.21 236.61 L1138.92 233.92 L1138.46 231.24 L1137.8 228.57 L1136.96 225.91 L1135.93 223.27 L1134.72 220.65 L1133.33 218.05 L1131.75 215.47 L1130 212.93 L1128.07 210.42 L1125.97 207.94 L1123.69 205.5 L1121.25 203.1 L1118.64 200.75 L1115.87 198.44 L1112.94 196.19 L1109.85 193.98 L1106.61 191.83 L1103.22 189.74 L1099.69 187.71 L1096.02 185.74 L1092.22 183.84 L1088.28 182 L1084.22 180.24 L1080.03 178.54 L1075.74 176.92 L1071.33 175.38 L1066.81 173.92 L1062.2 172.53 L1057.49 171.22 L1052.7 170 L1047.82 168.87 L1042.86 167.81 L1037.84 166.85 L1032.75 165.97 L1027.6 165.19 L1022.4 164.49 L1017.16 163.88 L1011.88 163.37 L1006.56 162.95 L1001.22 162.62 L995.86 162.39 L990.48 162.25 L985.1 162.2 L979.72 162.25 L974.34 162.39 L968.98 162.62 L963.64 162.95 L958.32 163.37 L953.04 163.88 L947.8 164.49 L942.6 165.19 L937.45 165.97 L932.36 166.85 L927.34 167.81 L922.38 168.87 L917.5 170 L912.71 171.22 L908 172.53Z" fill="none" stroke="#0a0a18" stroke-width="1.35" stroke-dasharray="1.2 0.85" opacity="0.88"/>
<path d="M985.1 105.76 L982.41 103.51 L979.72 101.43 L977.04 99.51 L974.37 97.77 L971.71 96.19 L969.07 94.79 L966.45 93.57 L963.85 92.53 L961.27 91.66 L958.73 90.98 L956.22 90.47 L953.74 90.15 L951.3 90 L948.9 90.04 L946.55 90.26 L944.24 90.67 L941.99 91.25 L939.78 92.02 L937.63 92.96 L935.54 94.08 L933.51 95.38 L931.54 96.86 L929.64 98.5 L927.8 100.32 L926.04 102.31 L924.34 104.47 L922.72 106.79 L921.18 109.27 L919.72 111.91 L918.33 114.7 L917.02 117.65 L915.8 120.75 L914.67 123.99 L913.61 127.37 L912.65 130.88 L911.77 134.53 L910.99 138.31 L910.29 142.21 L909.68 146.22 L909.17 150.35 L908.75 154.59 L908.42 158.94 L908.19 163.38 L908.05 167.91 L908 172.53 L908.05 177.23 L908.19 182.01 L908.42 186.85 L908.75 191.76 L909.17 196.73 L909.68 201.75 L910.29 206.82 L910.99 211.92 L911.77 217.06 L912.65 222.23 L913.61 227.42 L914.67 232.62 L915.8 237.83 L917.02 243.04 L918.33 248.25 L919.72 253.44 L921.18 258.62 L922.72 263.77 L924.34 268.9 L926.04 273.99 L927.8 279.04 L929.64 284.03 L931.54 288.98 L933.51 293.86 L935.54 298.68 L937.63 303.42 L939.78 308.09 L941.99 312.67 L944.24 317.17 L946.55 321.56 L948.9 325.86 L951.3 330.06 L953.74 334.14 L956.22 338.1 L958.73 341.95 L961.27 345.67 L963.85 349.26 L966.45 352.72 L969.07 356.04 L971.71 359.22 L974.37 362.25 L977.04 365.13 L979.72 367.86 L982.41 370.43 L985.1 372.84 L987.79 375.09 L990.48 377.17 L993.16 379.09 L995.83 380.83 L998.49 382.41 L1001.13 383.81 L1003.75 385.03 L1006.35 386.07 L1008.93 386.94 L1011.47 387.62 L1013.98 388.13 L1016.46 388.45 L1018.9 388.6 L1021.3 388.56 L1023.65 388.34 L1025.96 387.93 L1028.21 387.35 L1030.42 386.58 L1032.57 385.64 L1034.66 384.52 L1036.69 383.22 L1038.66 381.74 L1040.56 380.1 L1042.4 378.28 L1044.16 376.29 L1045.86 374.13 L1047.48 371.81 L1049.02 369.33 L1050.48 366.69 L1051.87 363.9 L1053.18 360.95 L1054.4 357.85 L1055.53 354.61 L1056.59 351.23 L1057.55 347.72 L1058.43 344.07 L1059.21 340.29 L1059.91 336.39 L1060.52 332.38 L1061.03 328.25 L1061.45 324.01 L1061.78 319.66 L1062.01 315.22 L1062.15 310.69 L1062.2 306.07 L1062.15 301.37 L1062.01 296.59 L1061.78 291.75 L1061.45 286.84 L1061.03 281.87 L1060.52 276.85 L1059.91 271.78 L1059.21 266.68 L1058.43 261.54 L1057.55 256.37 L1056.59 251.18 L1055.53 245.98 L1054.4 240.77 L1053.18 235.56 L1051.87 230.35 L1050.48 225.16 L1049.02 219.98 L1047.48 214.83 L1045.86 209.7 L1044.16 204.61 L1042.4 199.56 L1040.56 194.57 L1038.66 189.62 L1036.69 184.74 L1034.66 179.92 L1032.57 175.18 L1030.42 170.51 L1028.21 165.93 L1025.96 161.43 L1023.65 157.04 L1021.3 152.74 L1018.9 148.54 L1016.46 144.46 L1013.98 140.5 L1011.47 136.65 L1008.93 132.93 L1006.35 129.34 L1003.75 125.88 L1001.13 122.56 L998.49 119.38 L995.83 116.35 L993.16 113.47 L990.48 110.74 L987.79 108.17 L985.1 105.76Z" fill="none" stroke="#0a0a18" stroke-width="1.35" stroke-dasharray="1.2 0.85" opacity="0.88"/>
<path d="M985.1 105.76 L980.44 107.19 L975.78 108.77 L971.14 110.52 L966.51 112.42 L961.91 114.48 L957.34 116.69 L952.79 119.05 L948.29 121.56 L943.83 124.21 L939.43 127 L935.07 129.92 L930.78 132.98 L926.56 136.17 L922.41 139.49 L918.33 142.93 L914.33 146.48 L910.42 150.15 L906.61 153.92 L902.88 157.8 L899.26 161.78 L895.74 165.85 L892.33 170.02 L889.04 174.27 L885.86 178.59 L882.8 182.99 L879.87 187.46 L877.06 191.99 L874.39 196.58 L871.85 201.23 L869.45 205.91 L867.19 210.64 L865.07 215.41 L863.1 220.2 L861.28 225.02 L859.61 229.85 L858.09 234.7 L856.73 239.55 L855.53 244.4 L854.48 249.24 L853.59 254.08 L852.86 258.89 L852.29 263.68 L851.88 268.44 L851.64 273.17 L851.56 277.85 L851.64 282.49 L851.88 287.07 L852.29 291.6 L852.86 296.06 L853.59 300.45 L854.48 304.77 L855.53 309.01 L856.73 313.17 L858.09 317.23 L859.61 321.2 L861.28 325.07 L863.1 328.83 L865.07 332.49 L867.19 336.03 L869.45 339.46 L871.85 342.76 L874.39 345.93 L877.06 348.98 L879.87 351.89 L882.8 354.67 L885.86 357.3 L889.04 359.8 L892.33 362.14 L895.74 364.34 L899.26 366.38 L902.88 368.27 L906.61 370 L910.42 371.57 L914.33 372.98 L918.33 374.22 L922.41 375.31 L926.56 376.23 L930.78 376.98 L935.07 377.56 L939.43 377.97 L943.83 378.22 L948.29 378.29 L952.79 378.2 L957.34 377.94 L961.91 377.51 L966.51 376.91 L971.14 376.14 L975.78 375.2 L980.44 374.11 L985.1 372.84 L989.76 371.41 L994.42 369.83 L999.06 368.08 L1003.69 366.18 L1008.29 364.12 L1012.86 361.91 L1017.41 359.55 L1021.91 357.04 L1026.37 354.39 L1030.77 351.6 L1035.13 348.68 L1039.42 345.62 L1043.64 342.43 L1047.79 339.11 L1051.87 335.67 L1055.87 332.12 L1059.78 328.45 L1063.59 324.68 L1067.32 320.8 L1070.94 316.82 L1074.46 312.75 L1077.87 308.58 L1081.16 304.33 L1084.34 300.01 L1087.4 295.61 L1090.33 291.14 L1093.14 286.61 L1095.81 282.02 L1098.35 277.37 L1100.75 272.69 L1103.01 267.96 L1105.13 263.19 L1107.1 258.4 L1108.92 253.58 L1110.59 248.75 L1112.11 243.9 L1113.47 239.05 L1114.67 234.2 L1115.72 229.36 L1116.61 224.52 L1117.34 219.71 L1117.91 214.92 L1118.32 210.16 L1118.56 205.43 L1118.64 200.75 L1118.56 196.11 L1118.32 191.53 L1117.91 187 L1117.34 182.54 L1116.61 178.15 L1115.72 173.83 L1114.67 169.59 L1113.47 165.43 L1112.11 161.37 L1110.59 157.4 L1108.92 153.53 L1107.1 149.77 L1105.13 146.11 L1103.01 142.57 L1100.75 139.14 L1098.35 135.84 L1095.81 132.67 L1093.14 129.62 L1090.33 126.71 L1087.4 123.93 L1084.34 121.3 L1081.16 118.8 L1077.87 116.46 L1074.46 114.26 L1070.94 112.22 L1067.32 110.33 L1063.59 108.6 L1059.78 107.03 L1055.87 105.62 L1051.87 104.38 L1047.79 103.29 L1043.64 102.37 L1039.42 101.62 L1035.13 101.04 L1030.77 100.63 L1026.37 100.38 L1021.91 100.31 L1017.41 100.4 L1012.86 100.66 L1008.29 101.09 L1003.69 101.69 L999.06 102.46 L994.42 103.4 L989.76 104.49 L985.1 105.76Z" fill="none" stroke="#0a0a18" stroke-width="1.35" stroke-dasharray="1.2 0.85" opacity="0.88"/>
<text x="185.7" y="584.2" font-family="Liberation Sans, sans-serif" font-size="34">|0</text>
<text transform="translate(215.24 590) scale(0.8 1)" x="-5.8" y="0" font-family="Liberation Sans, WenQuanYi Zen Hei, sans-serif" font-size="39.5">〉</text>
<text x="226.44" y="600.6" font-family="Liberation Sans, sans-serif" font-size="26">L</text>
<text x="185.7" y="957.9" font-family="Liberation Sans, sans-serif" font-size="34">|1</text>
<text transform="translate(215.24 963.7) scale(0.8 1)" x="-5.8" y="0" font-family="Liberation Sans, WenQuanYi Zen Hei, sans-serif" font-size="39.5">〉</text>
<text x="226.44" y="974.3" font-family="Liberation Sans, sans-serif" font-size="26">L</text>
<text x="-1.3" y="824.9" font-family="Liberation Sans, sans-serif" font-size="34">|i</text>
<text transform="translate(16.89 830.7) scale(0.8 1)" x="-5.8" y="0" font-family="Liberation Sans, WenQuanYi Zen Hei, sans-serif" font-size="39.5">〉</text>
<text x="28.09" y="841.3" font-family="Liberation Sans, sans-serif" font-size="26">L</text>
<text x="77.8" y="677.5" font-family="Liberation Sans, sans-serif" font-size="34">|+</text>
<text transform="translate(108.3 683.3) scale(0.8 1)" x="-5.8" y="0" font-family="Liberation Sans, WenQuanYi Zen Hei, sans-serif" font-size="39.5">〉</text>
<text x="119.5" y="693.9" font-family="Liberation Sans, sans-serif" font-size="26">L</text>
<line x1="92.98" y1="684.88" x2="278.02" y2="845.12" stroke="#000" stroke-width="1.4"/>
<line x1="25.25" y1="811.26" x2="345.75" y2="718.74" stroke="#000" stroke-width="1.4"/>
<line x1="185.5" y1="604.75" x2="185.5" y2="925.25" stroke="#000" stroke-width="1.4"/>
<clipPath id="sc01"><circle cx="185.5" cy="765" r="154.5"/></clipPath>
<g opacity="0.42" clip-path="url(#sc01)">
<circle cx="185.5" cy="765" r="154.5" fill="url(#sph)"/>
<ellipse cx="142.5" cy="659" rx="78" ry="50" transform="rotate(-33 142.5 659)" fill="url(#halo)"/>
<ellipse cx="142.5" cy="659" rx="56" ry="34" transform="rotate(-33 142.5 659)" fill="url(#hl)"/>
<ellipse cx="223.5" cy="872" rx="78" ry="50" transform="rotate(-40 223.5 872)" fill="url(#halo)"/>
<ellipse cx="223.5" cy="872" rx="56" ry="34" transform="rotate(-40 223.5 872)" fill="url(#hl)"/>
</g>
<defs><linearGradient id="ash3" x1="0" y1="0" x2="0" y2="1"><stop offset="0" stop-color="#6a0618"/><stop offset="0.3" stop-color="#6a0618"/><stop offset="0.55" stop-color="#4a0010"/><stop offset="1" stop-color="#38000a"/></linearGradient><linearGradient id="ahd3" x1="0" y1="0" x2="0" y2="1"><stop offset="0" stop-color="#5a0414"/><stop offset="0.3" stop-color="#5a0414"/><stop offset="0.55" stop-color="#44000e"/><stop offset="1" stop-color="#34000a"/></linearGradient></defs>
<g transform="translate(185.5 765) rotate(89.95)">
<path d="M0 -2.2 L97 -2.2 L97 2.2 L0 2.2 A2.2 2.2 0 0 1 0 -2.2 Z" fill="url(#ash3)"/>
<ellipse cx="96" cy="0" rx="4.05" ry="6.75" fill="#c82232"/>
<path d="M96 -6.75 L118.5 0 L96 6.75 Z" fill="url(#ahd3)"/>
</g>
<rect x="181.1" y="884.2" width="10" height="10" rx="1" fill="#0000e6"/>
<path d="M108.4 698.23 L103.79 699.62 L99.27 701.08 L94.86 702.62 L90.57 704.24 L86.38 705.94 L82.32 707.7 L78.38 709.54 L74.58 711.44 L70.91 713.41 L67.38 715.44 L63.99 717.53 L60.75 719.68 L57.66 721.89 L54.73 724.14 L51.96 726.45 L49.35 728.8 L46.91 731.2 L44.63 733.64 L42.53 736.12 L40.6 738.63 L38.85 741.17 L37.27 743.75 L35.88 746.35 L34.67 748.97 L33.64 751.61 L32.8 754.27 L32.14 756.94 L31.68 759.62 L31.39 762.31 L31.3 765 L31.39 767.69 L31.68 770.38 L32.14 773.06 L32.8 775.73 L33.64 778.39 L34.67 781.03 L35.88 783.65 L37.27 786.25 L38.85 788.83 L40.6 791.37 L42.53 793.88 L44.63 796.36 L46.91 798.8 L49.35 801.2 L51.96 803.55 L54.73 805.86 L57.66 808.11 L60.75 810.32 L63.99 812.47 L67.38 814.56 L70.91 816.59 L74.58 818.56 L78.38 820.46 L82.32 822.3 L86.38 824.06 L90.57 825.76 L94.86 827.38 L99.27 828.92 L103.79 830.38 L108.4 831.77 L113.11 833.08 L117.9 834.3 L122.78 835.43 L127.74 836.49 L132.76 837.45 L137.85 838.33 L143 839.11 L148.2 839.81 L153.44 840.42 L158.72 840.93 L164.04 841.35 L169.38 841.68 L174.74 841.91 L180.12 842.05 L185.5 842.1 L190.88 842.05 L196.26 841.91 L201.62 841.68 L206.96 841.35 L212.28 840.93 L217.56 840.42 L222.8 839.81 L228 839.11 L233.15 838.33 L238.24 837.45 L243.26 836.49 L248.22 835.43 L253.1 834.3 L257.89 833.08 L262.6 831.77 L267.21 830.38 L271.73 828.92 L276.14 827.38 L280.43 825.76 L284.62 824.06 L288.68 822.3 L292.62 820.46 L296.42 818.56 L300.09 816.59 L303.62 814.56 L307.01 812.47 L310.25 810.32 L313.34 808.11 L316.27 805.86 L319.04 803.55 L321.65 801.2 L324.09 798.8 L326.37 796.36 L328.47 793.88 L330.4 791.37 L332.15 788.83 L333.73 786.25 L335.12 783.65 L336.33 781.03 L337.36 778.39 L338.2 775.73 L338.86 773.06 L339.32 770.38 L339.61 767.69 L339.7 765 L339.61 762.31 L339.32 759.62 L338.86 756.94 L338.2 754.27 L337.36 751.61 L336.33 748.97 L335.12 746.35 L333.73 743.75 L332.15 741.17 L330.4 738.63 L328.47 736.12 L326.37 733.64 L324.09 731.2 L321.65 728.8 L319.04 726.45 L316.27 724.14 L313.34 721.89 L310.25 719.68 L307.01 717.53 L303.62 715.44 L300.09 713.41 L296.42 711.44 L292.62 709.54 L288.68 707.7 L284.62 705.94 L280.43 704.24 L276.14 702.62 L271.73 701.08 L267.21 699.62 L262.6 698.23 L257.89 696.92 L253.1 695.7 L248.22 694.57 L243.26 693.51 L238.24 692.55 L233.15 691.67 L228 690.89 L222.8 690.19 L217.56 689.58 L212.28 689.07 L206.96 688.65 L201.62 688.32 L196.26 688.09 L190.88 687.95 L185.5 687.9 L180.12 687.95 L174.74 688.09 L169.38 688.32 L164.04 688.65 L158.72 689.07 L153.44 689.58 L148.2 690.19 L143 690.89 L137.85 691.67 L132.76 692.55 L127.74 693.51 L122.78 694.57 L117.9 695.7 L113.11 696.92 L108.4 698.23Z" fill="none" stroke="#0a0a18" stroke-width="1.35" stroke-dasharray="1.2 0.85" opacity="0.88"/>
<path d="M185.5 631.46 L182.81 629.21 L180.12 627.13 L177.44 625.21 L174.77 623.47 L172.11 621.89 L169.47 620.49 L166.85 619.27 L164.25 618.23 L161.67 617.36 L159.13 616.68 L156.62 616.17 L154.14 615.85 L151.7 615.7 L149.3 615.74 L146.95 615.96 L144.64 616.37 L142.39 616.95 L140.18 617.72 L138.03 618.66 L135.94 619.78 L133.91 621.08 L131.94 622.56 L130.04 624.2 L128.2 626.02 L126.44 628.01 L124.74 630.17 L123.12 632.49 L121.58 634.97 L120.12 637.61 L118.73 640.4 L117.42 643.35 L116.2 646.45 L115.07 649.69 L114.01 653.07 L113.05 656.58 L112.17 660.23 L111.39 664.01 L110.69 667.91 L110.08 671.92 L109.57 676.05 L109.15 680.29 L108.82 684.64 L108.59 689.08 L108.45 693.61 L108.4 698.23 L108.45 702.93 L108.59 707.71 L108.82 712.55 L109.15 717.46 L109.57 722.43 L110.08 727.45 L110.69 732.52 L111.39 737.62 L112.17 742.76 L113.05 747.93 L114.01 753.12 L115.07 758.32 L116.2 763.53 L117.42 768.74 L118.73 773.95 L120.12 779.14 L121.58 784.32 L123.12 789.47 L124.74 794.6 L126.44 799.69 L128.2 804.74 L130.04 809.73 L131.94 814.68 L133.91 819.56 L135.94 824.38 L138.03 829.12 L140.18 833.79 L142.39 838.37 L144.64 842.87 L146.95 847.26 L149.3 851.56 L151.7 855.76 L154.14 859.84 L156.62 863.8 L159.13 867.65 L161.67 871.37 L164.25 874.96 L166.85 878.42 L169.47 881.74 L172.11 884.92 L174.77 887.95 L177.44 890.83 L180.12 893.56 L182.81 896.13 L185.5 898.54 L188.19 900.79 L190.88 902.87 L193.56 904.79 L196.23 906.53 L198.89 908.11 L201.53 909.51 L204.15 910.73 L206.75 911.77 L209.33 912.64 L211.87 913.32 L214.38 913.83 L216.86 914.15 L219.3 914.3 L221.7 914.26 L224.05 914.04 L226.36 913.63 L228.61 913.05 L230.82 912.28 L232.97 911.34 L235.06 910.22 L237.09 908.92 L239.06 907.44 L240.96 905.8 L242.8 903.98 L244.56 901.99 L246.26 899.83 L247.88 897.51 L249.42 895.03 L250.88 892.39 L252.27 889.6 L253.58 886.65 L254.8 883.55 L255.93 880.31 L256.99 876.93 L257.95 873.42 L258.83 869.77 L259.61 865.99 L260.31 862.09 L260.92 858.08 L261.43 853.95 L261.85 849.71 L262.18 845.36 L262.41 840.92 L262.55 836.39 L262.6 831.77 L262.55 827.07 L262.41 822.29 L262.18 817.45 L261.85 812.54 L261.43 807.57 L260.92 802.55 L260.31 797.48 L259.61 792.38 L258.83 787.24 L257.95 782.07 L256.99 776.88 L255.93 771.68 L254.8 766.47 L253.58 761.26 L252.27 756.05 L250.88 750.86 L249.42 745.68 L247.88 740.53 L246.26 735.4 L244.56 730.31 L242.8 725.26 L240.96 720.27 L239.06 715.32 L237.09 710.44 L235.06 705.62 L232.97 700.88 L230.82 696.21 L228.61 691.63 L226.36 687.13 L224.05 682.74 L221.7 678.44 L219.3 674.24 L216.86 670.16 L214.38 666.2 L211.87 662.35 L209.33 658.63 L206.75 655.04 L204.15 651.58 L201.53 648.26 L198.89 645.08 L196.23 642.05 L193.56 639.17 L190.88 636.44 L188.19 633.87 L185.5 631.46Z" fill="none" stroke="#0a0a18" stroke-width="1.35" stroke-dasharray="1.2 0.85" opacity="0.88"/>
<path d="M185.5 631.46 L180.84 632.89 L176.18 634.47 L171.54 636.22 L166.91 638.12 L162.31 640.18 L157.74 642.39 L153.19 644.75 L148.69 647.26 L144.23 649.91 L139.83 652.7 L135.47 655.62 L131.18 658.68 L126.96 661.87 L122.81 665.19 L118.73 668.63 L114.73 672.18 L110.82 675.85 L107.01 679.62 L103.28 683.5 L99.66 687.48 L96.14 691.55 L92.73 695.72 L89.44 699.97 L86.26 704.29 L83.2 708.69 L80.27 713.16 L77.46 717.69 L74.79 722.28 L72.25 726.93 L69.85 731.61 L67.59 736.34 L65.47 741.11 L63.5 745.9 L61.68 750.72 L60.01 755.55 L58.49 760.4 L57.13 765.25 L55.93 770.1 L54.88 774.94 L53.99 779.78 L53.26 784.59 L52.69 789.38 L52.28 794.14 L52.04 798.87 L51.96 803.55 L52.04 808.19 L52.28 812.77 L52.69 817.3 L53.26 821.76 L53.99 826.15 L54.88 830.47 L55.93 834.71 L57.13 838.87 L58.49 842.93 L60.01 846.9 L61.68 850.77 L63.5 854.53 L65.47 858.19 L67.59 861.73 L69.85 865.16 L72.25 868.46 L74.79 871.63 L77.46 874.68 L80.27 877.59 L83.2 880.37 L86.26 883 L89.44 885.5 L92.73 887.84 L96.14 890.04 L99.66 892.08 L103.28 893.97 L107.01 895.7 L110.82 897.27 L114.73 898.68 L118.73 899.92 L122.81 901.01 L126.96 901.93 L131.18 902.68 L135.47 903.26 L139.83 903.67 L144.23 903.92 L148.69 903.99 L153.19 903.9 L157.74 903.64 L162.31 903.21 L166.91 902.61 L171.54 901.84 L176.18 900.9 L180.84 899.81 L185.5 898.54 L190.16 897.11 L194.82 895.53 L199.46 893.78 L204.09 891.88 L208.69 889.82 L213.26 887.61 L217.81 885.25 L222.31 882.74 L226.77 880.09 L231.17 877.3 L235.53 874.38 L239.82 871.32 L244.04 868.13 L248.19 864.81 L252.27 861.37 L256.27 857.82 L260.18 854.15 L263.99 850.38 L267.72 846.5 L271.34 842.52 L274.86 838.45 L278.27 834.28 L281.56 830.03 L284.74 825.71 L287.8 821.31 L290.73 816.84 L293.54 812.31 L296.21 807.72 L298.75 803.07 L301.15 798.39 L303.41 793.66 L305.53 788.89 L307.5 784.1 L309.32 779.28 L310.99 774.45 L312.51 769.6 L313.87 764.75 L315.07 759.9 L316.12 755.06 L317.01 750.22 L317.74 745.41 L318.31 740.62 L318.72 735.86 L318.96 731.13 L319.04 726.45 L318.96 721.81 L318.72 717.23 L318.31 712.7 L317.74 708.24 L317.01 703.85 L316.12 699.53 L315.07 695.29 L313.87 691.13 L312.51 687.07 L310.99 683.1 L309.32 679.23 L307.5 675.47 L305.53 671.81 L303.41 668.27 L301.15 664.84 L298.75 661.54 L296.21 658.37 L293.54 655.32 L290.73 652.41 L287.8 649.63 L284.74 647 L281.56 644.5 L278.27 642.16 L274.86 639.96 L271.34 637.92 L267.72 636.03 L263.99 634.3 L260.18 632.73 L256.27 631.32 L252.27 630.08 L248.19 628.99 L244.04 628.07 L239.82 627.32 L235.53 626.74 L231.17 626.33 L226.77 626.08 L222.31 626.01 L217.81 626.1 L213.26 626.36 L208.69 626.79 L204.09 627.39 L199.46 628.16 L194.82 629.1 L190.16 630.19 L185.5 631.46Z" fill="none" stroke="#0a0a18" stroke-width="1.35" stroke-dasharray="1.2 0.85" opacity="0.88"/>
<line x1="185.5" y1="765" x2="185.5" y2="898" stroke="#000" stroke-width="1.3"/>
<text x="585.6" y="584.2" font-family="Liberation Sans, sans-serif" font-size="34">|0</text>
<text transform="translate(615.14 590) scale(0.8 1)" x="-5.8" y="0" font-family="Liberation Sans, WenQuanYi Zen Hei, sans-serif" font-size="39.5">〉</text>
<text x="626.34" y="600.6" font-family="Liberation Sans, sans-serif" font-size="26">L</text>
<text x="585.6" y="957.9" font-family="Liberation Sans, sans-serif" font-size="34">|1</text>
<text transform="translate(615.14 963.7) scale(0.8 1)" x="-5.8" y="0" font-family="Liberation Sans, WenQuanYi Zen Hei, sans-serif" font-size="39.5">〉</text>
<text x="626.34" y="974.3" font-family="Liberation Sans, sans-serif" font-size="26">L</text>
<text x="398.6" y="824.9" font-family="Liberation Sans, sans-serif" font-size="34">|i</text>
<text transform="translate(416.79 830.7) scale(0.8 1)" x="-5.8" y="0" font-family="Liberation Sans, WenQuanYi Zen Hei, sans-serif" font-size="39.5">〉</text>
<text x="427.99" y="841.3" font-family="Liberation Sans, sans-serif" font-size="26">L</text>
<text x="477.7" y="677.5" font-family="Liberation Sans, sans-serif" font-size="34">|+</text>
<text transform="translate(508.2 683.3) scale(0.8 1)" x="-5.8" y="0" font-family="Liberation Sans, WenQuanYi Zen Hei, sans-serif" font-size="39.5">〉</text>
<text x="519.4" y="693.9" font-family="Liberation Sans, sans-serif" font-size="26">L</text>
<line x1="492.88" y1="684.88" x2="677.92" y2="845.12" stroke="#000" stroke-width="1.4"/>
<line x1="425.15" y1="811.26" x2="745.65" y2="718.74" stroke="#000" stroke-width="1.4"/>
<line x1="585.4" y1="604.75" x2="585.4" y2="925.25" stroke="#000" stroke-width="1.4"/>
<clipPath id="sc11"><circle cx="585.4" cy="765" r="154.5"/></clipPath>
<g opacity="0.42" clip-path="url(#sc11)">
<circle cx="585.4" cy="765" r="154.5" fill="url(#sph)"/>
<ellipse cx="542.4" cy="659" rx="78" ry="50" transform="rotate(-33 542.4 659)" fill="url(#halo)"/>
<ellipse cx="542.4" cy="659" rx="56" ry="34" transform="rotate(-33 542.4 659)" fill="url(#hl)"/>
<ellipse cx="623.4" cy="872" rx="78" ry="50" transform="rotate(-40 623.4 872)" fill="url(#halo)"/>
<ellipse cx="623.4" cy="872" rx="56" ry="34" transform="rotate(-40 623.4 872)" fill="url(#hl)"/>
</g>
<rect x="703.3" y="787" width="6.6" height="6.6" rx="0.8" fill="#0000f0"/>
<rect x="695.4" y="797.4" width="6.6" height="6.6" rx="0.8" fill="#0000f0"/>
<rect x="685.8" y="814.1" width="6.6" height="6.6" rx="0.8" fill="#0000f0"/>
<rect x="677.6" y="827" width="6.6" height="6.6" rx="0.8" fill="#0000f0"/>
<rect x="668" y="831.3" width="6.6" height="6.6" rx="0.8" fill="#0000f0"/>
<rect x="658.2" y="844.8" width="6.6" height="6.6" rx="0.8" fill="#0000f0"/>
<rect x="647.3" y="854.5" width="6.6" height="6.6" rx="0.8" fill="#0000f0"/>
<rect x="637.1" y="862.9" width="6.6" height="6.6" rx="0.8" fill="#0000f0"/>
<rect x="622.7" y="871.1" width="6.6" height="6.6" rx="0.8" fill="#0000f0"/>
<rect x="608.5" y="878.7" width="6.6" height="6.6" rx="0.8" fill="#0000f0"/>
<rect x="597" y="879.5" width="6.6" height="6.6" rx="0.8" fill="#0000f0"/>
<rect x="582.4" y="885.8" width="6.6" height="6.6" rx="0.8" fill="#0000f0"/>
<defs><linearGradient id="ash4" x1="0" y1="0" x2="0" y2="1"><stop offset="0" stop-color="#6a0618"/><stop offset="0.3" stop-color="#6a0618"/><stop offset="0.55" stop-color="#4a0010"/><stop offset="1" stop-color="#38000a"/></linearGradient><linearGradient id="ahd4" x1="0" y1="0" x2="0" y2="1"><stop offset="0" stop-color="#5a0414"/><stop offset="0.3" stop-color="#5a0414"/><stop offset="0.55" stop-color="#44000e"/><stop offset="1" stop-color="#34000a"/></linearGradient></defs>
<g transform="translate(585.4 764.6) rotate(5.94)">
<path d="M0 -3 L97.64 -2.1 L97.64 2.1 L0 3 A3 3 0 0 1 0 -3 Z" fill="url(#ash4)"/>
<ellipse cx="96.64" cy="0" rx="4.2" ry="7" fill="#8a0c1c"/>
<path d="M96.64 -7 L121.85 0 L96.64 7 Z" fill="url(#ahd4)"/>
</g>
<rect x="704.5" y="772" width="10.4" height="10.4" rx="1" fill="#dd0010"/>
<path d="M508.3 698.23 L503.69 699.62 L499.17 701.08 L494.76 702.62 L490.47 704.24 L486.28 705.94 L482.22 707.7 L478.28 709.54 L474.48 711.44 L470.81 713.41 L467.28 715.44 L463.89 717.53 L460.65 719.68 L457.56 721.89 L454.63 724.14 L451.86 726.45 L449.25 728.8 L446.81 731.2 L444.53 733.64 L442.43 736.12 L440.5 738.63 L438.75 741.17 L437.17 743.75 L435.78 746.35 L434.57 748.97 L433.54 751.61 L432.7 754.27 L432.04 756.94 L431.58 759.62 L431.29 762.31 L431.2 765 L431.29 767.69 L431.58 770.38 L432.04 773.06 L432.7 775.73 L433.54 778.39 L434.57 781.03 L435.78 783.65 L437.17 786.25 L438.75 788.83 L440.5 791.37 L442.43 793.88 L444.53 796.36 L446.81 798.8 L449.25 801.2 L451.86 803.55 L454.63 805.86 L457.56 808.11 L460.65 810.32 L463.89 812.47 L467.28 814.56 L470.81 816.59 L474.48 818.56 L478.28 820.46 L482.22 822.3 L486.28 824.06 L490.47 825.76 L494.76 827.38 L499.17 828.92 L503.69 830.38 L508.3 831.77 L513.01 833.08 L517.8 834.3 L522.68 835.43 L527.64 836.49 L532.66 837.45 L537.75 838.33 L542.9 839.11 L548.1 839.81 L553.34 840.42 L558.62 840.93 L563.94 841.35 L569.28 841.68 L574.64 841.91 L580.02 842.05 L585.4 842.1 L590.78 842.05 L596.16 841.91 L601.52 841.68 L606.86 841.35 L612.18 840.93 L617.46 840.42 L622.7 839.81 L627.9 839.11 L633.05 838.33 L638.14 837.45 L643.16 836.49 L648.12 835.43 L653 834.3 L657.79 833.08 L662.5 831.77 L667.11 830.38 L671.63 828.92 L676.04 827.38 L680.33 825.76 L684.52 824.06 L688.58 822.3 L692.52 820.46 L696.32 818.56 L699.99 816.59 L703.52 814.56 L706.91 812.47 L710.15 810.32 L713.24 808.11 L716.17 805.86 L718.94 803.55 L721.55 801.2 L723.99 798.8 L726.27 796.36 L728.37 793.88 L730.3 791.37 L732.05 788.83 L733.63 786.25 L735.02 783.65 L736.23 781.03 L737.26 778.39 L738.1 775.73 L738.76 773.06 L739.22 770.38 L739.51 767.69 L739.6 765 L739.51 762.31 L739.22 759.62 L738.76 756.94 L738.1 754.27 L737.26 751.61 L736.23 748.97 L735.02 746.35 L733.63 743.75 L732.05 741.17 L730.3 738.63 L728.37 736.12 L726.27 733.64 L723.99 731.2 L721.55 728.8 L718.94 726.45 L716.17 724.14 L713.24 721.89 L710.15 719.68 L706.91 717.53 L703.52 715.44 L699.99 713.41 L696.32 711.44 L692.52 709.54 L688.58 707.7 L684.52 705.94 L680.33 704.24 L676.04 702.62 L671.63 701.08 L667.11 699.62 L662.5 698.23 L657.79 696.92 L653 695.7 L648.12 694.57 L643.16 693.51 L638.14 692.55 L633.05 691.67 L627.9 690.89 L622.7 690.19 L617.46 689.58 L612.18 689.07 L606.86 688.65 L601.52 688.32 L596.16 688.09 L590.78 687.95 L585.4 687.9 L580.02 687.95 L574.64 688.09 L569.28 688.32 L563.94 688.65 L558.62 689.07 L553.34 689.58 L548.1 690.19 L542.9 690.89 L537.75 691.67 L532.66 692.55 L527.64 693.51 L522.68 694.57 L517.8 695.7 L513.01 696.92 L508.3 698.23Z" fill="none" stroke="#0a0a18" stroke-width="1.35" stroke-dasharray="1.2 0.85" opacity="0.88"/>
<path d="M585.4 631.46 L582.71 629.21 L580.02 627.13 L577.34 625.21 L574.67 623.47 L572.01 621.89 L569.37 620.49 L566.75 619.27 L564.15 618.23 L561.57 617.36 L559.03 616.68 L556.52 616.17 L554.04 615.85 L551.6 615.7 L549.2 615.74 L546.85 615.96 L544.54 616.37 L542.29 616.95 L540.08 617.72 L537.93 618.66 L535.84 619.78 L533.81 621.08 L531.84 622.56 L529.94 624.2 L528.1 626.02 L526.34 628.01 L524.64 630.17 L523.02 632.49 L521.48 634.97 L520.02 637.61 L518.63 640.4 L517.32 643.35 L516.1 646.45 L514.97 649.69 L513.91 653.07 L512.95 656.58 L512.07 660.23 L511.29 664.01 L510.59 667.91 L509.98 671.92 L509.47 676.05 L509.05 680.29 L508.72 684.64 L508.49 689.08 L508.35 693.61 L508.3 698.23 L508.35 702.93 L508.49 707.71 L508.72 712.55 L509.05 717.46 L509.47 722.43 L509.98 727.45 L510.59 732.52 L511.29 737.62 L512.07 742.76 L512.95 747.93 L513.91 753.12 L514.97 758.32 L516.1 763.53 L517.32 768.74 L518.63 773.95 L520.02 779.14 L521.48 784.32 L523.02 789.47 L524.64 794.6 L526.34 799.69 L528.1 804.74 L529.94 809.73 L531.84 814.68 L533.81 819.56 L535.84 824.38 L537.93 829.12 L540.08 833.79 L542.29 838.37 L544.54 842.87 L546.85 847.26 L549.2 851.56 L551.6 855.76 L554.04 859.84 L556.52 863.8 L559.03 867.65 L561.57 871.37 L564.15 874.96 L566.75 878.42 L569.37 881.74 L572.01 884.92 L574.67 887.95 L577.34 890.83 L580.02 893.56 L582.71 896.13 L585.4 898.54 L588.09 900.79 L590.78 902.87 L593.46 904.79 L596.13 906.53 L598.79 908.11 L601.43 909.51 L604.05 910.73 L606.65 911.77 L609.23 912.64 L611.77 913.32 L614.28 913.83 L616.76 914.15 L619.2 914.3 L621.6 914.26 L623.95 914.04 L626.26 913.63 L628.51 913.05 L630.72 912.28 L632.87 911.34 L634.96 910.22 L636.99 908.92 L638.96 907.44 L640.86 905.8 L642.7 903.98 L644.46 901.99 L646.16 899.83 L647.78 897.51 L649.32 895.03 L650.78 892.39 L652.17 889.6 L653.48 886.65 L654.7 883.55 L655.83 880.31 L656.89 876.93 L657.85 873.42 L658.73 869.77 L659.51 865.99 L660.21 862.09 L660.82 858.08 L661.33 853.95 L661.75 849.71 L662.08 845.36 L662.31 840.92 L662.45 836.39 L662.5 831.77 L662.45 827.07 L662.31 822.29 L662.08 817.45 L661.75 812.54 L661.33 807.57 L660.82 802.55 L660.21 797.48 L659.51 792.38 L658.73 787.24 L657.85 782.07 L656.89 776.88 L655.83 771.68 L654.7 766.47 L653.48 761.26 L652.17 756.05 L650.78 750.86 L649.32 745.68 L647.78 740.53 L646.16 735.4 L644.46 730.31 L642.7 725.26 L640.86 720.27 L638.96 715.32 L636.99 710.44 L634.96 705.62 L632.87 700.88 L630.72 696.21 L628.51 691.63 L626.26 687.13 L623.95 682.74 L621.6 678.44 L619.2 674.24 L616.76 670.16 L614.28 666.2 L611.77 662.35 L609.23 658.63 L606.65 655.04 L604.05 651.58 L601.43 648.26 L598.79 645.08 L596.13 642.05 L593.46 639.17 L590.78 636.44 L588.09 633.87 L585.4 631.46Z" fill="none" stroke="#0a0a18" stroke-width="1.35" stroke-dasharray="1.2 0.85" opacity="0.88"/>
<path d="M585.4 631.46 L580.74 632.89 L576.08 634.47 L571.44 636.22 L566.81 638.12 L562.21 640.18 L557.64 642.39 L553.09 644.75 L548.59 647.26 L544.13 649.91 L539.73 652.7 L535.37 655.62 L531.08 658.68 L526.86 661.87 L522.71 665.19 L518.63 668.63 L514.63 672.18 L510.72 675.85 L506.91 679.62 L503.18 683.5 L499.56 687.48 L496.04 691.55 L492.63 695.72 L489.34 699.97 L486.16 704.29 L483.1 708.69 L480.17 713.16 L477.36 717.69 L474.69 722.28 L472.15 726.93 L469.75 731.61 L467.49 736.34 L465.37 741.11 L463.4 745.9 L461.58 750.72 L459.91 755.55 L458.39 760.4 L457.03 765.25 L455.83 770.1 L454.78 774.94 L453.89 779.78 L453.16 784.59 L452.59 789.38 L452.18 794.14 L451.94 798.87 L451.86 803.55 L451.94 808.19 L452.18 812.77 L452.59 817.3 L453.16 821.76 L453.89 826.15 L454.78 830.47 L455.83 834.71 L457.03 838.87 L458.39 842.93 L459.91 846.9 L461.58 850.77 L463.4 854.53 L465.37 858.19 L467.49 861.73 L469.75 865.16 L472.15 868.46 L474.69 871.63 L477.36 874.68 L480.17 877.59 L483.1 880.37 L486.16 883 L489.34 885.5 L492.63 887.84 L496.04 890.04 L499.56 892.08 L503.18 893.97 L506.91 895.7 L510.72 897.27 L514.63 898.68 L518.63 899.92 L522.71 901.01 L526.86 901.93 L531.08 902.68 L535.37 903.26 L539.73 903.67 L544.13 903.92 L548.59 903.99 L553.09 903.9 L557.64 903.64 L562.21 903.21 L566.81 902.61 L571.44 901.84 L576.08 900.9 L580.74 899.81 L585.4 898.54 L590.06 897.11 L594.72 895.53 L599.36 893.78 L603.99 891.88 L608.59 889.82 L613.16 887.61 L617.71 885.25 L622.21 882.74 L626.67 880.09 L631.07 877.3 L635.43 874.38 L639.72 871.32 L643.94 868.13 L648.09 864.81 L652.17 861.37 L656.17 857.82 L660.08 854.15 L663.89 850.38 L667.62 846.5 L671.24 842.52 L674.76 838.45 L678.17 834.28 L681.46 830.03 L684.64 825.71 L687.7 821.31 L690.63 816.84 L693.44 812.31 L696.11 807.72 L698.65 803.07 L701.05 798.39 L703.31 793.66 L705.43 788.89 L707.4 784.1 L709.22 779.28 L710.89 774.45 L712.41 769.6 L713.77 764.75 L714.97 759.9 L716.02 755.06 L716.91 750.22 L717.64 745.41 L718.21 740.62 L718.62 735.86 L718.86 731.13 L718.94 726.45 L718.86 721.81 L718.62 717.23 L718.21 712.7 L717.64 708.24 L716.91 703.85 L716.02 699.53 L714.97 695.29 L713.77 691.13 L712.41 687.07 L710.89 683.1 L709.22 679.23 L707.4 675.47 L705.43 671.81 L703.31 668.27 L701.05 664.84 L698.65 661.54 L696.11 658.37 L693.44 655.32 L690.63 652.41 L687.7 649.63 L684.64 647 L681.46 644.5 L678.17 642.16 L674.76 639.96 L671.24 637.92 L667.62 636.03 L663.89 634.3 L660.08 632.73 L656.17 631.32 L652.17 630.08 L648.09 628.99 L643.94 628.07 L639.72 627.32 L635.43 626.74 L631.07 626.33 L626.67 626.08 L622.21 626.01 L617.71 626.1 L613.16 626.36 L608.59 626.79 L603.99 627.39 L599.36 628.16 L594.72 629.1 L590.06 630.19 L585.4 631.46Z" fill="none" stroke="#0a0a18" stroke-width="1.35" stroke-dasharray="1.2 0.85" opacity="0.88"/>
<text x="985.3" y="584.2" font-family="Liberation Sans, sans-serif" font-size="34">|0</text>
<text transform="translate(1014.84 590) scale(0.8 1)" x="-5.8" y="0" font-family="Liberation Sans, WenQuanYi Zen Hei, sans-serif" font-size="39.5">〉</text>
<text x="1026.04" y="600.6" font-family="Liberation Sans, sans-serif" font-size="26">L</text>
<text x="985.3" y="957.9" font-family="Liberation Sans, sans-serif" font-size="34">|1</text>
<text transform="translate(1014.84 963.7) scale(0.8 1)" x="-5.8" y="0" font-family="Liberation Sans, WenQuanYi Zen Hei, sans-serif" font-size="39.5">〉</text>
<text x="1026.04" y="974.3" font-family="Liberation Sans, sans-serif" font-size="26">L</text>
<text x="798.3" y="824.9" font-family="Liberation Sans, sans-serif" font-size="34">|i</text>
<text transform="translate(816.49 830.7) scale(0.8 1)" x="-5.8" y="0" font-family="Liberation Sans, WenQuanYi Zen Hei, sans-serif" font-size="39.5">〉</text>
<text x="827.69" y="841.3" font-family="Liberation Sans, sans-serif" font-size="26">L</text>
<text x="877.4" y="677.5" font-family="Liberation Sans, sans-serif" font-size="34">|+</text>
<text transform="translate(907.9 683.3) scale(0.8 1)" x="-5.8" y="0" font-family="Liberation Sans, WenQuanYi Zen Hei, sans-serif" font-size="39.5">〉</text>
<text x="919.1" y="693.9" font-family="Liberation Sans, sans-serif" font-size="26">L</text>
<line x1="892.58" y1="684.88" x2="1077.62" y2="845.12" stroke="#000" stroke-width="1.4"/>
<line x1="824.85" y1="811.26" x2="1145.35" y2="718.74" stroke="#000" stroke-width="1.4"/>
<line x1="985.1" y1="604.75" x2="985.1" y2="925.25" stroke="#000" stroke-width="1.4"/>
<clipPath id="sc21"><circle cx="985.1" cy="765" r="154.5"/></clipPath>
<g opacity="0.42" clip-path="url(#sc21)">
<circle cx="985.1" cy="765" r="154.5" fill="url(#sph)"/>
<ellipse cx="942.1" cy="659" rx="78" ry="50" transform="rotate(-33 942.1 659)" fill="url(#halo)"/>
<ellipse cx="942.1" cy="659" rx="56" ry="34" transform="rotate(-33 942.1 659)" fill="url(#hl)"/>
<ellipse cx="1023.1" cy="872" rx="78" ry="50" transform="rotate(-40 1023.1 872)" fill="url(#halo)"/>
<ellipse cx="1023.1" cy="872" rx="56" ry="34" transform="rotate(-40 1023.1 872)" fill="url(#hl)"/>
</g>
<rect x="981.8" y="885.7" width="6.6" height="6.6" rx="0.8" fill="#0000f0"/>
<rect x="996.2" y="879.7" width="6.6" height="6.6" rx="0.8" fill="#0000f0"/>
<rect x="1008.3" y="878.8" width="6.6" height="6.6" rx="0.8" fill="#0000f0"/>
<rect x="1022.3" y="870.7" width="6.6" height="6.6" rx="0.8" fill="#0000f0"/>
<rect x="1036.9" y="862.9" width="6.6" height="6.6" rx="0.8" fill="#0000f0"/>
<rect x="1046.9" y="854.5" width="6.6" height="6.6" rx="0.8" fill="#0000f0"/>
<rect x="1057.8" y="844.6" width="6.6" height="6.6" rx="0.8" fill="#0000f0"/>
<rect x="1067.7" y="831.6" width="6.6" height="6.6" rx="0.8" fill="#0000f0"/>
<rect x="1077" y="826.9" width="6.6" height="6.6" rx="0.8" fill="#0000f0"/>
<rect x="1084.8" y="813.8" width="6.6" height="6.6" rx="0.8" fill="#0000f0"/>
<rect x="1094.7" y="797.4" width="6.6" height="6.6" rx="0.8" fill="#0000f0"/>
<rect x="1102.9" y="786.8" width="6.6" height="6.6" rx="0.8" fill="#0000f0"/>
<rect x="1105.7" y="774.1" width="6.6" height="6.6" rx="0.8" fill="#0000f0"/>
<rect x="1110.9" y="761" width="6.6" height="6.6" rx="0.8" fill="#0000f0"/>
<rect x="1112.4" y="746.7" width="6.6" height="6.6" rx="0.8" fill="#0000f0"/>
<rect x="1116.9" y="736.9" width="6.6" height="6.6" rx="0.8" fill="#0000f0"/>
<rect x="1119.3" y="724.6" width="6.6" height="6.6" rx="0.8" fill="#0000f0"/>
<rect x="1113.7" y="709.3" width="6.6" height="6.6" rx="0.8" fill="#0000f0"/>
<rect x="1113.7" y="695.9" width="6.6" height="6.6" rx="0.8" fill="#0000f0"/>
<rect x="1105" y="688.8" width="6.6" height="6.6" rx="0.8" fill="#0000f0"/>
<rect x="1101.6" y="672.6" width="6.6" height="6.6" rx="0.8" fill="#0000f0"/>
<rect x="1096.6" y="661.7" width="6.6" height="6.6" rx="0.8" fill="#0000f0"/>
<rect x="1090.8" y="655.6" width="6.6" height="6.6" rx="0.8" fill="#0000f0"/>
<rect x="1081.1" y="649.6" width="6.6" height="6.6" rx="0.8" fill="#0000f0"/>
<rect x="1069.9" y="640.8" width="6.6" height="6.6" rx="0.8" fill="#0000f0"/>
<rect x="1063.4" y="641.8" width="6.6" height="6.6" rx="0.8" fill="#0000f0"/>
<rect x="1053.1" y="632.8" width="6.6" height="6.6" rx="0.8" fill="#0000f0"/>
<rect x="1039.7" y="628.7" width="6.6" height="6.6" rx="0.8" fill="#0000f0"/>
<rect x="1024.2" y="627.8" width="6.6" height="6.6" rx="0.8" fill="#0000f0"/>
<rect x="1016.3" y="624.8" width="6.6" height="6.6" rx="0.8" fill="#0000f0"/>
<rect x="1001.4" y="623.9" width="6.6" height="6.6" rx="0.8" fill="#0000f0"/>
<rect x="990.2" y="629.1" width="6.6" height="6.6" rx="0.8" fill="#0000f0"/>
<rect x="966.3" y="621.6" width="6.6" height="6.6" rx="0.8" fill="#0000f0"/>
<rect x="956.4" y="629.7" width="6.6" height="6.6" rx="0.8" fill="#0000f0"/>
<rect x="939.8" y="636.9" width="6.6" height="6.6" rx="0.8" fill="#0000f0"/>
<rect x="931.8" y="643.6" width="6.6" height="6.6" rx="0.8" fill="#0000f0"/>
<rect x="919.7" y="652.4" width="6.6" height="6.6" rx="0.8" fill="#0000f0"/>
<rect x="912.2" y="663.6" width="6.6" height="6.6" rx="0.8" fill="#0000f0"/>
<rect x="898.6" y="670.1" width="6.6" height="6.6" rx="0.8" fill="#0000f0"/>
<rect x="888.5" y="680.4" width="6.6" height="6.6" rx="0.8" fill="#0000f0"/>
<rect x="874.9" y="691" width="6.6" height="6.6" rx="0.8" fill="#0000f0"/>
<rect x="868.7" y="703.4" width="6.6" height="6.6" rx="0.8" fill="#0000f0"/>
<rect x="862.4" y="718.7" width="6.6" height="6.6" rx="0.8" fill="#0000f0"/>
<rect x="854" y="726.5" width="6.6" height="6.6" rx="0.8" fill="#0000f0"/>
<rect x="851" y="743.9" width="6.6" height="6.6" rx="0.8" fill="#0000f0"/>
<rect x="844.1" y="751.9" width="6.6" height="6.6" rx="0.8" fill="#0000f0"/>
<rect x="842.2" y="768.7" width="6.6" height="6.6" rx="0.8" fill="#0000f0"/>
<rect x="841.3" y="776.9" width="6.6" height="6.6" rx="0.8" fill="#0000f0"/>
<rect x="842.6" y="795.2" width="6.6" height="6.6" rx="0.8" fill="#0000f0"/>
<defs><linearGradient id="ash5" x1="0" y1="0" x2="0" y2="1"><stop offset="0" stop-color="#38000a"/><stop offset="0.3" stop-color="#38000a"/><stop offset="0.55" stop-color="#4a0010"/><stop offset="1" stop-color="#6a0618"/></linearGradient><linearGradient id="ahd5" x1="0" y1="0" x2="0" y2="1"><stop offset="0" stop-color="#34000a"/><stop offset="0.3" stop-color="#34000a"/><stop offset="0.55" stop-color="#44000e"/><stop offset="1" stop-color="#5a0414"/></linearGradient></defs>
<g transform="translate(985 764.6) rotate(90.94)">
<path d="M0 -2.8 L59.41 -2.2 L59.41 2.2 L0 2.8 A2.8 2.8 0 0 1 0 -2.8 Z" fill="url(#ash5)"/>
<ellipse cx="58.41" cy="0" rx="4.11" ry="6.85" fill="#8a0c1c"/>
<path d="M58.41 -6.85 L91.01 0 L58.41 6.85 Z" fill="url(#ahd5)"/>
</g>
<rect x="978.3" y="852.4" width="10.4" height="10.4" rx="1" fill="#dd0010"/>
<path d="M908 698.23 L903.39 699.62 L898.87 701.08 L894.46 702.62 L890.17 704.24 L885.98 705.94 L881.92 707.7 L877.98 709.54 L874.18 711.44 L870.51 713.41 L866.98 715.44 L863.59 717.53 L860.35 719.68 L857.26 721.89 L854.33 724.14 L851.56 726.45 L848.95 728.8 L846.51 731.2 L844.23 733.64 L842.13 736.12 L840.2 738.63 L838.45 741.17 L836.87 743.75 L835.48 746.35 L834.27 748.97 L833.24 751.61 L832.4 754.27 L831.74 756.94 L831.28 759.62 L830.99 762.31 L830.9 765 L830.99 767.69 L831.28 770.38 L831.74 773.06 L832.4 775.73 L833.24 778.39 L834.27 781.03 L835.48 783.65 L836.87 786.25 L838.45 788.83 L840.2 791.37 L842.13 793.88 L844.23 796.36 L846.51 798.8 L848.95 801.2 L851.56 803.55 L854.33 805.86 L857.26 808.11 L860.35 810.32 L863.59 812.47 L866.98 814.56 L870.51 816.59 L874.18 818.56 L877.98 820.46 L881.92 822.3 L885.98 824.06 L890.17 825.76 L894.46 827.38 L898.87 828.92 L903.39 830.38 L908 831.77 L912.71 833.08 L917.5 834.3 L922.38 835.43 L927.34 836.49 L932.36 837.45 L937.45 838.33 L942.6 839.11 L947.8 839.81 L953.04 840.42 L958.32 840.93 L963.64 841.35 L968.98 841.68 L974.34 841.91 L979.72 842.05 L985.1 842.1 L990.48 842.05 L995.86 841.91 L1001.22 841.68 L1006.56 841.35 L1011.88 840.93 L1017.16 840.42 L1022.4 839.81 L1027.6 839.11 L1032.75 838.33 L1037.84 837.45 L1042.86 836.49 L1047.82 835.43 L1052.7 834.3 L1057.49 833.08 L1062.2 831.77 L1066.81 830.38 L1071.33 828.92 L1075.74 827.38 L1080.03 825.76 L1084.22 824.06 L1088.28 822.3 L1092.22 820.46 L1096.02 818.56 L1099.69 816.59 L1103.22 814.56 L1106.61 812.47 L1109.85 810.32 L1112.94 808.11 L1115.87 805.86 L1118.64 803.55 L1121.25 801.2 L1123.69 798.8 L1125.97 796.36 L1128.07 793.88 L1130 791.37 L1131.75 788.83 L1133.33 786.25 L1134.72 783.65 L1135.93 781.03 L1136.96 778.39 L1137.8 775.73 L1138.46 773.06 L1138.92 770.38 L1139.21 767.69 L1139.3 765 L1139.21 762.31 L1138.92 759.62 L1138.46 756.94 L1137.8 754.27 L1136.96 751.61 L1135.93 748.97 L1134.72 746.35 L1133.33 743.75 L1131.75 741.17 L1130 738.63 L1128.07 736.12 L1125.97 733.64 L1123.69 731.2 L1121.25 728.8 L1118.64 726.45 L1115.87 724.14 L1112.94 721.89 L1109.85 719.68 L1106.61 717.53 L1103.22 715.44 L1099.69 713.41 L1096.02 711.44 L1092.22 709.54 L1088.28 707.7 L1084.22 705.94 L1080.03 704.24 L1075.74 702.62 L1071.33 701.08 L1066.81 699.62 L1062.2 698.23 L1057.49 696.92 L1052.7 695.7 L1047.82 694.57 L1042.86 693.51 L1037.84 692.55 L1032.75 691.67 L1027.6 690.89 L1022.4 690.19 L1017.16 689.58 L1011.88 689.07 L1006.56 688.65 L1001.22 688.32 L995.86 688.09 L990.48 687.95 L985.1 687.9 L979.72 687.95 L974.34 688.09 L968.98 688.32 L963.64 688.65 L958.32 689.07 L953.04 689.58 L947.8 690.19 L942.6 690.89 L937.45 691.67 L932.36 692.55 L927.34 693.51 L922.38 694.57 L917.5 695.7 L912.71 696.92 L908 698.23Z" fill="none" stroke="#0a0a18" stroke-width="1.35" stroke-dasharray="1.2 0.85" opacity="0.88"/>
<path d="M985.1 631.46 L982.41 629.21 L979.72 627.13 L977.04 625.21 L974.37 623.47 L971.71 621.89 L969.07 620.49 L966.45 619.27 L963.85 618.23 L961.27 617.36 L958.73 616.68 L956.22 616.17 L953.74 615.85 L951.3 615.7 L948.9 615.74 L946.55 615.96 L944.24 616.37 L941.99 616.95 L939.78 617.72 L937.63 618.66 L935.54 619.78 L933.51 621.08 L931.54 622.56 L929.64 624.2 L927.8 626.02 L926.04 628.01 L924.34 630.17 L922.72 632.49 L921.18 634.97 L919.72 637.61 L918.33 640.4 L917.02 643.35 L915.8 646.45 L914.67 649.69 L913.61 653.07 L912.65 656.58 L911.77 660.23 L910.99 664.01 L910.29 667.91 L909.68 671.92 L909.17 676.05 L908.75 680.29 L908.42 684.64 L908.19 689.08 L908.05 693.61 L908 698.23 L908.05 702.93 L908.19 707.71 L908.42 712.55 L908.75 717.46 L909.17 722.43 L909.68 727.45 L910.29 732.52 L910.99 737.62 L911.77 742.76 L912.65 747.93 L913.61 753.12 L914.67 758.32 L915.8 763.53 L917.02 768.74 L918.33 773.95 L919.72 779.14 L921.18 784.32 L922.72 789.47 L924.34 794.6 L926.04 799.69 L927.8 804.74 L929.64 809.73 L931.54 814.68 L933.51 819.56 L935.54 824.38 L937.63 829.12 L939.78 833.79 L941.99 838.37 L944.24 842.87 L946.55 847.26 L948.9 851.56 L951.3 855.76 L953.74 859.84 L956.22 863.8 L958.73 867.65 L961.27 871.37 L963.85 874.96 L966.45 878.42 L969.07 881.74 L971.71 884.92 L974.37 887.95 L977.04 890.83 L979.72 893.56 L982.41 896.13 L985.1 898.54 L987.79 900.79 L990.48 902.87 L993.16 904.79 L995.83 906.53 L998.49 908.11 L1001.13 909.51 L1003.75 910.73 L1006.35 911.77 L1008.93 912.64 L1011.47 913.32 L1013.98 913.83 L1016.46 914.15 L1018.9 914.3 L1021.3 914.26 L1023.65 914.04 L1025.96 913.63 L1028.21 913.05 L1030.42 912.28 L1032.57 911.34 L1034.66 910.22 L1036.69 908.92 L1038.66 907.44 L1040.56 905.8 L1042.4 903.98 L1044.16 901.99 L1045.86 899.83 L1047.48 897.51 L1049.02 895.03 L1050.48 892.39 L1051.87 889.6 L1053.18 886.65 L1054.4 883.55 L1055.53 880.31 L1056.59 876.93 L1057.55 873.42 L1058.43 869.77 L1059.21 865.99 L1059.91 862.09 L1060.52 858.08 L1061.03 853.95 L1061.45 849.71 L1061.78 845.36 L1062.01 840.92 L1062.15 836.39 L1062.2 831.77 L1062.15 827.07 L1062.01 822.29 L1061.78 817.45 L1061.45 812.54 L1061.03 807.57 L1060.52 802.55 L1059.91 797.48 L1059.21 792.38 L1058.43 787.24 L1057.55 782.07 L1056.59 776.88 L1055.53 771.68 L1054.4 766.47 L1053.18 761.26 L1051.87 756.05 L1050.48 750.86 L1049.02 745.68 L1047.48 740.53 L1045.86 735.4 L1044.16 730.31 L1042.4 725.26 L1040.56 720.27 L1038.66 715.32 L1036.69 710.44 L1034.66 705.62 L1032.57 700.88 L1030.42 696.21 L1028.21 691.63 L1025.96 687.13 L1023.65 682.74 L1021.3 678.44 L1018.9 674.24 L1016.46 670.16 L1013.98 666.2 L1011.47 662.35 L1008.93 658.63 L1006.35 655.04 L1003.75 651.58 L1001.13 648.26 L998.49 645.08 L995.83 642.05 L993.16 639.17 L990.48 636.44 L987.79 633.87 L985.1 631.46Z" fill="none" stroke="#0a0a18" stroke-width="1.35" stroke-dasharray="1.2 0.85" opacity="0.88"/>
<path d="M985.1 631.46 L980.44 632.89 L975.78 634.47 L971.14 636.22 L966.51 638.12 L961.91 640.18 L957.34 642.39 L952.79 644.75 L948.29 647.26 L943.83 649.91 L939.43 652.7 L935.07 655.62 L930.78 658.68 L926.56 661.87 L922.41 665.19 L918.33 668.63 L914.33 672.18 L910.42 675.85 L906.61 679.62 L902.88 683.5 L899.26 687.48 L895.74 691.55 L892.33 695.72 L889.04 699.97 L885.86 704.29 L882.8 708.69 L879.87 713.16 L877.06 717.69 L874.39 722.28 L871.85 726.93 L869.45 731.61 L867.19 736.34 L865.07 741.11 L863.1 745.9 L861.28 750.72 L859.61 755.55 L858.09 760.4 L856.73 765.25 L855.53 770.1 L854.48 774.94 L853.59 779.78 L852.86 784.59 L852.29 789.38 L851.88 794.14 L851.64 798.87 L851.56 803.55 L851.64 808.19 L851.88 812.77 L852.29 817.3 L852.86 821.76 L853.59 826.15 L854.48 830.47 L855.53 834.71 L856.73 838.87 L858.09 842.93 L859.61 846.9 L861.28 850.77 L863.1 854.53 L865.07 858.19 L867.19 861.73 L869.45 865.16 L871.85 868.46 L874.39 871.63 L877.06 874.68 L879.87 877.59 L882.8 880.37 L885.86 883 L889.04 885.5 L892.33 887.84 L895.74 890.04 L899.26 892.08 L902.88 893.97 L906.61 895.7 L910.42 897.27 L914.33 898.68 L918.33 899.92 L922.41 901.01 L926.56 901.93 L930.78 902.68 L935.07 903.26 L939.43 903.67 L943.83 903.92 L948.29 903.99 L952.79 903.9 L957.34 903.64 L961.91 903.21 L966.51 902.61 L971.14 901.84 L975.78 900.9 L980.44 899.81 L985.1 898.54 L989.76 897.11 L994.42 895.53 L999.06 893.78 L1003.69 891.88 L1008.29 889.82 L1012.86 887.61 L1017.41 885.25 L1021.91 882.74 L1026.37 880.09 L1030.77 877.3 L1035.13 874.38 L1039.42 871.32 L1043.64 868.13 L1047.79 864.81 L1051.87 861.37 L1055.87 857.82 L1059.78 854.15 L1063.59 850.38 L1067.32 846.5 L1070.94 842.52 L1074.46 838.45 L1077.87 834.28 L1081.16 830.03 L1084.34 825.71 L1087.4 821.31 L1090.33 816.84 L1093.14 812.31 L1095.81 807.72 L1098.35 803.07 L1100.75 798.39 L1103.01 793.66 L1105.13 788.89 L1107.1 784.1 L1108.92 779.28 L1110.59 774.45 L1112.11 769.6 L1113.47 764.75 L1114.67 759.9 L1115.72 755.06 L1116.61 750.22 L1117.34 745.41 L1117.91 740.62 L1118.32 735.86 L1118.56 731.13 L1118.64 726.45 L1118.56 721.81 L1118.32 717.23 L1117.91 712.7 L1117.34 708.24 L1116.61 703.85 L1115.72 699.53 L1114.67 695.29 L1113.47 691.13 L1112.11 687.07 L1110.59 683.1 L1108.92 679.23 L1107.1 675.47 L1105.13 671.81 L1103.01 668.27 L1100.75 664.84 L1098.35 661.54 L1095.81 658.37 L1093.14 655.32 L1090.33 652.41 L1087.4 649.63 L1084.34 647 L1081.16 644.5 L1077.87 642.16 L1074.46 639.96 L1070.94 637.92 L1067.32 636.03 L1063.59 634.3 L1059.78 632.73 L1055.87 631.32 L1051.87 630.08 L1047.79 628.99 L1043.64 628.07 L1039.42 627.32 L1035.13 626.74 L1030.77 626.33 L1026.37 626.08 L1021.91 626.01 L1017.41 626.1 L1012.86 626.36 L1008.29 626.79 L1003.69 627.39 L999.06 628.16 L994.42 629.1 L989.76 630.19 L985.1 631.46Z" fill="none" stroke="#0a0a18" stroke-width="1.35" stroke-dasharray="1.2 0.85" opacity="0.88"/>
<text x="185.7" y="1111.5" font-family="Liberation Sans, sans-serif" font-size="34">|0</text>
<text transform="translate(215.24 1117.3) scale(0.8 1)" x="-5.8" y="0" font-family="Liberation Sans, WenQuanYi Zen Hei, sans-serif" font-size="39.5">〉</text>
<text x="226.44" y="1127.9" font-family="Liberation Sans, sans-serif" font-size="26">L</text>
<text x="185.7" y="1485.2" font-family="Liberation Sans, sans-serif" font-size="34">|1</text>
<text transform="translate(215.24 1491) scale(0.8 1)" x="-5.8" y="0" font-family="Liberation Sans, WenQuanYi Zen Hei, sans-serif" font-size="39.5">〉</text>
<text x="226.44" y="1501.6" font-family="Liberation Sans, sans-serif" font-size="26">L</text>
<text x="-1.3" y="1352.2" font-family="Liberation Sans, sans-serif" font-size="34">|i</text>
<text transform="translate(16.89 1358) scale(0.8 1)" x="-5.8" y="0" font-family="Liberation Sans, WenQuanYi Zen Hei, sans-serif" font-size="39.5">〉</text>
<text x="28.09" y="1368.6" font-family="Liberation Sans, sans-serif" font-size="26">L</text>
<text x="77.8" y="1204.8" font-family="Liberation Sans, sans-serif" font-size="34">|+</text>
<text transform="translate(108.3 1210.6) scale(0.8 1)" x="-5.8" y="0" font-family="Liberation Sans, WenQuanYi Zen Hei, sans-serif" font-size="39.5">〉</text>
<text x="119.5" y="1221.2" font-family="Liberation Sans, sans-serif" font-size="26">L</text>
<line x1="92.98" y1="1212.18" x2="278.02" y2="1372.42" stroke="#000" stroke-width="1.4"/>
<line x1="25.25" y1="1338.56" x2="345.75" y2="1246.04" stroke="#000" stroke-width="1.4"/>
<line x1="185.5" y1="1132.05" x2="185.5" y2="1452.55" stroke="#000" stroke-width="1.4"/>
<clipPath id="sc02"><circle cx="185.5" cy="1292.3" r="154.5"/></clipPath>
<g opacity="0.42" clip-path="url(#sc02)">
<circle cx="185.5" cy="1292.3" r="154.5" fill="url(#sph)"/>
<ellipse cx="142.5" cy="1186.3" rx="78" ry="50" transform="rotate(-33 142.5 1186.3)" fill="url(#halo)"/>
<ellipse cx="142.5" cy="1186.3" rx="56" ry="34" transform="rotate(-33 142.5 1186.3)" fill="url(#hl)"/>
<ellipse cx="223.5" cy="1399.3" rx="78" ry="50" transform="rotate(-40 223.5 1399.3)" fill="url(#halo)"/>
<ellipse cx="223.5" cy="1399.3" rx="56" ry="34" transform="rotate(-40 223.5 1399.3)" fill="url(#hl)"/>
</g>
<defs><linearGradient id="ash6" x1="0" y1="0" x2="0" y2="1"><stop offset="0" stop-color="#cc1428"/><stop offset="0.3" stop-color="#cc1428"/><stop offset="0.55" stop-color="#960616"/><stop offset="1" stop-color="#3a0008"/></linearGradient><linearGradient id="ahd6" x1="0" y1="0" x2="0" y2="1"><stop offset="0" stop-color="#cc3a4a"/><stop offset="0.3" stop-color="#cc3a4a"/><stop offset="0.55" stop-color="#82081a"/><stop offset="1" stop-color="#30000a"/></linearGradient></defs>
<g transform="translate(185.5 1292.4) rotate(37.39)">
<path d="M0 -2.1 L55.94 -1.8 L55.94 1.8 L0 2.1 A2.1 2.1 0 0 1 0 -2.1 Z" fill="url(#ash6)"/>
<ellipse cx="54.94" cy="0" rx="3.9" ry="6.5" fill="#50000c"/>
<path d="M54.94 -6.5 L70.98 0 L54.94 6.5 Z" fill="url(#ahd6)"/>
</g>
<rect x="241.5" y="1334.2" width="10.4" height="10.4" rx="1" fill="#0000e6"/>
<path d="M108.4 1225.53 L103.79 1226.92 L99.27 1228.38 L94.86 1229.92 L90.57 1231.54 L86.38 1233.24 L82.32 1235 L78.38 1236.84 L74.58 1238.74 L70.91 1240.71 L67.38 1242.74 L63.99 1244.83 L60.75 1246.98 L57.66 1249.19 L54.73 1251.44 L51.96 1253.75 L49.35 1256.1 L46.91 1258.5 L44.63 1260.94 L42.53 1263.42 L40.6 1265.93 L38.85 1268.47 L37.27 1271.05 L35.88 1273.65 L34.67 1276.27 L33.64 1278.91 L32.8 1281.57 L32.14 1284.24 L31.68 1286.92 L31.39 1289.61 L31.3 1292.3 L31.39 1294.99 L31.68 1297.68 L32.14 1300.36 L32.8 1303.03 L33.64 1305.69 L34.67 1308.33 L35.88 1310.95 L37.27 1313.55 L38.85 1316.13 L40.6 1318.67 L42.53 1321.18 L44.63 1323.66 L46.91 1326.1 L49.35 1328.5 L51.96 1330.85 L54.73 1333.16 L57.66 1335.41 L60.75 1337.62 L63.99 1339.77 L67.38 1341.86 L70.91 1343.89 L74.58 1345.86 L78.38 1347.76 L82.32 1349.6 L86.38 1351.36 L90.57 1353.06 L94.86 1354.68 L99.27 1356.22 L103.79 1357.68 L108.4 1359.07 L113.11 1360.38 L117.9 1361.6 L122.78 1362.73 L127.74 1363.79 L132.76 1364.75 L137.85 1365.63 L143 1366.41 L148.2 1367.11 L153.44 1367.72 L158.72 1368.23 L164.04 1368.65 L169.38 1368.98 L174.74 1369.21 L180.12 1369.35 L185.5 1369.4 L190.88 1369.35 L196.26 1369.21 L201.62 1368.98 L206.96 1368.65 L212.28 1368.23 L217.56 1367.72 L222.8 1367.11 L228 1366.41 L233.15 1365.63 L238.24 1364.75 L243.26 1363.79 L248.22 1362.73 L253.1 1361.6 L257.89 1360.38 L262.6 1359.07 L267.21 1357.68 L271.73 1356.22 L276.14 1354.68 L280.43 1353.06 L284.62 1351.36 L288.68 1349.6 L292.62 1347.76 L296.42 1345.86 L300.09 1343.89 L303.62 1341.86 L307.01 1339.77 L310.25 1337.62 L313.34 1335.41 L316.27 1333.16 L319.04 1330.85 L321.65 1328.5 L324.09 1326.1 L326.37 1323.66 L328.47 1321.18 L330.4 1318.67 L332.15 1316.13 L333.73 1313.55 L335.12 1310.95 L336.33 1308.33 L337.36 1305.69 L338.2 1303.03 L338.86 1300.36 L339.32 1297.68 L339.61 1294.99 L339.7 1292.3 L339.61 1289.61 L339.32 1286.92 L338.86 1284.24 L338.2 1281.57 L337.36 1278.91 L336.33 1276.27 L335.12 1273.65 L333.73 1271.05 L332.15 1268.47 L330.4 1265.93 L328.47 1263.42 L326.37 1260.94 L324.09 1258.5 L321.65 1256.1 L319.04 1253.75 L316.27 1251.44 L313.34 1249.19 L310.25 1246.98 L307.01 1244.83 L303.62 1242.74 L300.09 1240.71 L296.42 1238.74 L292.62 1236.84 L288.68 1235 L284.62 1233.24 L280.43 1231.54 L276.14 1229.92 L271.73 1228.38 L267.21 1226.92 L262.6 1225.53 L257.89 1224.22 L253.1 1223 L248.22 1221.87 L243.26 1220.81 L238.24 1219.85 L233.15 1218.97 L228 1218.19 L222.8 1217.49 L217.56 1216.88 L212.28 1216.37 L206.96 1215.95 L201.62 1215.62 L196.26 1215.39 L190.88 1215.25 L185.5 1215.2 L180.12 1215.25 L174.74 1215.39 L169.38 1215.62 L164.04 1215.95 L158.72 1216.37 L153.44 1216.88 L148.2 1217.49 L143 1218.19 L137.85 1218.97 L132.76 1219.85 L127.74 1220.81 L122.78 1221.87 L117.9 1223 L113.11 1224.22 L108.4 1225.53Z" fill="none" stroke="#0a0a18" stroke-width="1.35" stroke-dasharray="1.2 0.85" opacity="0.88"/>
<path d="M185.5 1158.76 L182.81 1156.51 L180.12 1154.43 L177.44 1152.51 L174.77 1150.77 L172.11 1149.19 L169.47 1147.79 L166.85 1146.57 L164.25 1145.53 L161.67 1144.66 L159.13 1143.98 L156.62 1143.47 L154.14 1143.15 L151.7 1143 L149.3 1143.04 L146.95 1143.26 L144.64 1143.67 L142.39 1144.25 L140.18 1145.02 L138.03 1145.96 L135.94 1147.08 L133.91 1148.38 L131.94 1149.86 L130.04 1151.5 L128.2 1153.32 L126.44 1155.31 L124.74 1157.47 L123.12 1159.79 L121.58 1162.27 L120.12 1164.91 L118.73 1167.7 L117.42 1170.65 L116.2 1173.75 L115.07 1176.99 L114.01 1180.37 L113.05 1183.88 L112.17 1187.53 L111.39 1191.31 L110.69 1195.21 L110.08 1199.22 L109.57 1203.35 L109.15 1207.59 L108.82 1211.94 L108.59 1216.38 L108.45 1220.91 L108.4 1225.53 L108.45 1230.23 L108.59 1235.01 L108.82 1239.85 L109.15 1244.76 L109.57 1249.73 L110.08 1254.75 L110.69 1259.82 L111.39 1264.92 L112.17 1270.06 L113.05 1275.23 L114.01 1280.42 L115.07 1285.62 L116.2 1290.83 L117.42 1296.04 L118.73 1301.25 L120.12 1306.44 L121.58 1311.62 L123.12 1316.77 L124.74 1321.9 L126.44 1326.99 L128.2 1332.04 L130.04 1337.03 L131.94 1341.98 L133.91 1346.86 L135.94 1351.68 L138.03 1356.42 L140.18 1361.09 L142.39 1365.67 L144.64 1370.17 L146.95 1374.56 L149.3 1378.86 L151.7 1383.06 L154.14 1387.14 L156.62 1391.1 L159.13 1394.95 L161.67 1398.67 L164.25 1402.26 L166.85 1405.72 L169.47 1409.04 L172.11 1412.22 L174.77 1415.25 L177.44 1418.13 L180.12 1420.86 L182.81 1423.43 L185.5 1425.84 L188.19 1428.09 L190.88 1430.17 L193.56 1432.09 L196.23 1433.83 L198.89 1435.41 L201.53 1436.81 L204.15 1438.03 L206.75 1439.07 L209.33 1439.94 L211.87 1440.62 L214.38 1441.13 L216.86 1441.45 L219.3 1441.6 L221.7 1441.56 L224.05 1441.34 L226.36 1440.93 L228.61 1440.35 L230.82 1439.58 L232.97 1438.64 L235.06 1437.52 L237.09 1436.22 L239.06 1434.74 L240.96 1433.1 L242.8 1431.28 L244.56 1429.29 L246.26 1427.13 L247.88 1424.81 L249.42 1422.33 L250.88 1419.69 L252.27 1416.9 L253.58 1413.95 L254.8 1410.85 L255.93 1407.61 L256.99 1404.23 L257.95 1400.72 L258.83 1397.07 L259.61 1393.29 L260.31 1389.39 L260.92 1385.38 L261.43 1381.25 L261.85 1377.01 L262.18 1372.66 L262.41 1368.22 L262.55 1363.69 L262.6 1359.07 L262.55 1354.37 L262.41 1349.59 L262.18 1344.75 L261.85 1339.84 L261.43 1334.87 L260.92 1329.85 L260.31 1324.78 L259.61 1319.68 L258.83 1314.54 L257.95 1309.37 L256.99 1304.18 L255.93 1298.98 L254.8 1293.77 L253.58 1288.56 L252.27 1283.35 L250.88 1278.16 L249.42 1272.98 L247.88 1267.83 L246.26 1262.7 L244.56 1257.61 L242.8 1252.56 L240.96 1247.57 L239.06 1242.62 L237.09 1237.74 L235.06 1232.92 L232.97 1228.18 L230.82 1223.51 L228.61 1218.93 L226.36 1214.43 L224.05 1210.04 L221.7 1205.74 L219.3 1201.54 L216.86 1197.46 L214.38 1193.5 L211.87 1189.65 L209.33 1185.93 L206.75 1182.34 L204.15 1178.88 L201.53 1175.56 L198.89 1172.38 L196.23 1169.35 L193.56 1166.47 L190.88 1163.74 L188.19 1161.17 L185.5 1158.76Z" fill="none" stroke="#0a0a18" stroke-width="1.35" stroke-dasharray="1.2 0.85" opacity="0.88"/>
<path d="M185.5 1158.76 L180.84 1160.19 L176.18 1161.77 L171.54 1163.52 L166.91 1165.42 L162.31 1167.48 L157.74 1169.69 L153.19 1172.05 L148.69 1174.56 L144.23 1177.21 L139.83 1180 L135.47 1182.92 L131.18 1185.98 L126.96 1189.17 L122.81 1192.49 L118.73 1195.93 L114.73 1199.48 L110.82 1203.15 L107.01 1206.92 L103.28 1210.8 L99.66 1214.78 L96.14 1218.85 L92.73 1223.02 L89.44 1227.27 L86.26 1231.59 L83.2 1235.99 L80.27 1240.46 L77.46 1244.99 L74.79 1249.58 L72.25 1254.23 L69.85 1258.91 L67.59 1263.64 L65.47 1268.41 L63.5 1273.2 L61.68 1278.02 L60.01 1282.85 L58.49 1287.7 L57.13 1292.55 L55.93 1297.4 L54.88 1302.24 L53.99 1307.08 L53.26 1311.89 L52.69 1316.68 L52.28 1321.44 L52.04 1326.17 L51.96 1330.85 L52.04 1335.49 L52.28 1340.07 L52.69 1344.6 L53.26 1349.06 L53.99 1353.45 L54.88 1357.77 L55.93 1362.01 L57.13 1366.17 L58.49 1370.23 L60.01 1374.2 L61.68 1378.07 L63.5 1381.83 L65.47 1385.49 L67.59 1389.03 L69.85 1392.46 L72.25 1395.76 L74.79 1398.93 L77.46 1401.98 L80.27 1404.89 L83.2 1407.67 L86.26 1410.3 L89.44 1412.8 L92.73 1415.14 L96.14 1417.34 L99.66 1419.38 L103.28 1421.27 L107.01 1423 L110.82 1424.57 L114.73 1425.98 L118.73 1427.22 L122.81 1428.31 L126.96 1429.23 L131.18 1429.98 L135.47 1430.56 L139.83 1430.97 L144.23 1431.22 L148.69 1431.29 L153.19 1431.2 L157.74 1430.94 L162.31 1430.51 L166.91 1429.91 L171.54 1429.14 L176.18 1428.2 L180.84 1427.11 L185.5 1425.84 L190.16 1424.41 L194.82 1422.83 L199.46 1421.08 L204.09 1419.18 L208.69 1417.12 L213.26 1414.91 L217.81 1412.55 L222.31 1410.04 L226.77 1407.39 L231.17 1404.6 L235.53 1401.68 L239.82 1398.62 L244.04 1395.43 L248.19 1392.11 L252.27 1388.67 L256.27 1385.12 L260.18 1381.45 L263.99 1377.68 L267.72 1373.8 L271.34 1369.82 L274.86 1365.75 L278.27 1361.58 L281.56 1357.33 L284.74 1353.01 L287.8 1348.61 L290.73 1344.14 L293.54 1339.61 L296.21 1335.02 L298.75 1330.37 L301.15 1325.69 L303.41 1320.96 L305.53 1316.19 L307.5 1311.4 L309.32 1306.58 L310.99 1301.75 L312.51 1296.9 L313.87 1292.05 L315.07 1287.2 L316.12 1282.36 L317.01 1277.52 L317.74 1272.71 L318.31 1267.92 L318.72 1263.16 L318.96 1258.43 L319.04 1253.75 L318.96 1249.11 L318.72 1244.53 L318.31 1240 L317.74 1235.54 L317.01 1231.15 L316.12 1226.83 L315.07 1222.59 L313.87 1218.43 L312.51 1214.37 L310.99 1210.4 L309.32 1206.53 L307.5 1202.77 L305.53 1199.11 L303.41 1195.57 L301.15 1192.14 L298.75 1188.84 L296.21 1185.67 L293.54 1182.62 L290.73 1179.71 L287.8 1176.93 L284.74 1174.3 L281.56 1171.8 L278.27 1169.46 L274.86 1167.26 L271.34 1165.22 L267.72 1163.33 L263.99 1161.6 L260.18 1160.03 L256.27 1158.62 L252.27 1157.38 L248.19 1156.29 L244.04 1155.37 L239.82 1154.62 L235.53 1154.04 L231.17 1153.63 L226.77 1153.38 L222.31 1153.31 L217.81 1153.4 L213.26 1153.66 L208.69 1154.09 L204.09 1154.69 L199.46 1155.46 L194.82 1156.4 L190.16 1157.49 L185.5 1158.76Z" fill="none" stroke="#0a0a18" stroke-width="1.35" stroke-dasharray="1.2 0.85" opacity="0.88"/>
<text x="585.6" y="1111.5" font-family="Liberation Sans, sans-serif" font-size="34">|0</text>
<text transform="translate(615.14 1117.3) scale(0.8 1)" x="-5.8" y="0" font-family="Liberation Sans, WenQuanYi Zen Hei, sans-serif" font-size="39.5">〉</text>
<text x="626.34" y="1127.9" font-family="Liberation Sans, sans-serif" font-size="26">L</text>
<g clip-path="url(#clipJ)"><text x="585.6" y="1485.2" font-family="Liberation Sans, sans-serif" font-size="34">|1</text>
<text transform="translate(615.14 1491) scale(0.8 1)" x="-5.8" y="0" font-family="Liberation Sans, WenQuanYi Zen Hei, sans-serif" font-size="39.5">〉</text>
<text x="626.34" y="1501.6" font-family="Liberation Sans, sans-serif" font-size="26">L</text></g>
<text x="398.6" y="1352.2" font-family="Liberation Sans, sans-serif" font-size="34">|i</text>
<text transform="translate(416.79 1358) scale(0.8 1)" x="-5.8" y="0" font-family="Liberation Sans, WenQuanYi Zen Hei, sans-serif" font-size="39.5">〉</text>
<text x="427.99" y="1368.6" font-family="Liberation Sans, sans-serif" font-size="26">L</text>
<text x="477.7" y="1204.8" font-family="Liberation Sans, sans-serif" font-size="34">|+</text>
<text transform="translate(508.2 1210.6) scale(0.8 1)" x="-5.8" y="0" font-family="Liberation Sans, WenQuanYi Zen Hei, sans-serif" font-size="39.5">〉</text>
<text x="519.4" y="1221.2" font-family="Liberation Sans, sans-serif" font-size="26">L</text>
<line x1="492.88" y1="1212.18" x2="677.92" y2="1372.42" stroke="#000" stroke-width="1.4"/>
<line x1="425.15" y1="1338.56" x2="745.65" y2="1246.04" stroke="#000" stroke-width="1.4"/>
<line x1="585.4" y1="1132.05" x2="585.4" y2="1452.55" stroke="#000" stroke-width="1.4"/>
<clipPath id="sc12"><circle cx="585.4" cy="1292.3" r="154.5"/></clipPath>
<g opacity="0.42" clip-path="url(#sc12)">
<circle cx="585.4" cy="1292.3" r="154.5" fill="url(#sph)"/>
<ellipse cx="542.4" cy="1186.3" rx="78" ry="50" transform="rotate(-33 542.4 1186.3)" fill="url(#halo)"/>
<ellipse cx="542.4" cy="1186.3" rx="56" ry="34" transform="rotate(-33 542.4 1186.3)" fill="url(#hl)"/>
<ellipse cx="623.4" cy="1399.3" rx="78" ry="50" transform="rotate(-40 623.4 1399.3)" fill="url(#halo)"/>
<ellipse cx="623.4" cy="1399.3" rx="56" ry="34" transform="rotate(-40 623.4 1399.3)" fill="url(#hl)"/>
</g>
<rect x="517.1" y="1336" width="6.6" height="6.6" rx="0.8" fill="#0000f0"/>
<rect x="542.6" y="1337.6" width="6.6" height="6.6" rx="0.8" fill="#0000f0"/>
<rect x="549.9" y="1342.9" width="6.6" height="6.6" rx="0.8" fill="#0000f0"/>
<rect x="548.9" y="1345.6" width="6.6" height="6.6" rx="0.8" fill="#0000f0"/>
<rect x="562.4" y="1350.8" width="6.6" height="6.6" rx="0.8" fill="#0000f0"/>
<rect x="574.7" y="1346.3" width="6.6" height="6.6" rx="0.8" fill="#0000f0"/>
<rect x="588" y="1344.8" width="6.6" height="6.6" rx="0.8" fill="#0000f0"/>
<rect x="598.1" y="1343.7" width="6.6" height="6.6" rx="0.8" fill="#0000f0"/>
<rect x="602.2" y="1341" width="6.6" height="6.6" rx="0.8" fill="#0000f0"/>
<rect x="611.8" y="1347.7" width="6.6" height="6.6" rx="0.8" fill="#0000f0"/>
<rect x="625.1" y="1346.8" width="6.6" height="6.6" rx="0.8" fill="#0000f0"/>
<rect x="643.1" y="1336.1" width="6.6" height="6.6" rx="0.8" fill="#0000f0"/>
<defs><linearGradient id="ash7" x1="0" y1="0" x2="0" y2="1"><stop offset="0" stop-color="#4a0008"/><stop offset="0.3" stop-color="#4a0008"/><stop offset="0.55" stop-color="#900c1c"/><stop offset="1" stop-color="#c02434"/></linearGradient><linearGradient id="ahd7" x1="0" y1="0" x2="0" y2="1"><stop offset="0" stop-color="#400008"/><stop offset="0.3" stop-color="#400008"/><stop offset="0.55" stop-color="#7a0818"/><stop offset="1" stop-color="#b82838"/></linearGradient></defs>
<g transform="translate(585.5 1292.4) rotate(152.62)">
<path d="M0 -2.1 L60.94 -2.1 L60.94 2.1 L0 2.1 A2.1 2.1 0 0 1 0 -2.1 Z" fill="url(#ash7)"/>
<ellipse cx="59.94" cy="0" rx="3.75" ry="6.25" fill="#3c0008"/>
<path d="M59.94 -6.25 L78.27 0 L59.94 6.25 Z" fill="url(#ahd7)"/>
</g>
<rect x="505.8" y="1326.1" width="10.2" height="10.2" rx="1" fill="#dd0010"/>
<path d="M508.3 1225.53 L503.69 1226.92 L499.17 1228.38 L494.76 1229.92 L490.47 1231.54 L486.28 1233.24 L482.22 1235 L478.28 1236.84 L474.48 1238.74 L470.81 1240.71 L467.28 1242.74 L463.89 1244.83 L460.65 1246.98 L457.56 1249.19 L454.63 1251.44 L451.86 1253.75 L449.25 1256.1 L446.81 1258.5 L444.53 1260.94 L442.43 1263.42 L440.5 1265.93 L438.75 1268.47 L437.17 1271.05 L435.78 1273.65 L434.57 1276.27 L433.54 1278.91 L432.7 1281.57 L432.04 1284.24 L431.58 1286.92 L431.29 1289.61 L431.2 1292.3 L431.29 1294.99 L431.58 1297.68 L432.04 1300.36 L432.7 1303.03 L433.54 1305.69 L434.57 1308.33 L435.78 1310.95 L437.17 1313.55 L438.75 1316.13 L440.5 1318.67 L442.43 1321.18 L444.53 1323.66 L446.81 1326.1 L449.25 1328.5 L451.86 1330.85 L454.63 1333.16 L457.56 1335.41 L460.65 1337.62 L463.89 1339.77 L467.28 1341.86 L470.81 1343.89 L474.48 1345.86 L478.28 1347.76 L482.22 1349.6 L486.28 1351.36 L490.47 1353.06 L494.76 1354.68 L499.17 1356.22 L503.69 1357.68 L508.3 1359.07 L513.01 1360.38 L517.8 1361.6 L522.68 1362.73 L527.64 1363.79 L532.66 1364.75 L537.75 1365.63 L542.9 1366.41 L548.1 1367.11 L553.34 1367.72 L558.62 1368.23 L563.94 1368.65 L569.28 1368.98 L574.64 1369.21 L580.02 1369.35 L585.4 1369.4 L590.78 1369.35 L596.16 1369.21 L601.52 1368.98 L606.86 1368.65 L612.18 1368.23 L617.46 1367.72 L622.7 1367.11 L627.9 1366.41 L633.05 1365.63 L638.14 1364.75 L643.16 1363.79 L648.12 1362.73 L653 1361.6 L657.79 1360.38 L662.5 1359.07 L667.11 1357.68 L671.63 1356.22 L676.04 1354.68 L680.33 1353.06 L684.52 1351.36 L688.58 1349.6 L692.52 1347.76 L696.32 1345.86 L699.99 1343.89 L703.52 1341.86 L706.91 1339.77 L710.15 1337.62 L713.24 1335.41 L716.17 1333.16 L718.94 1330.85 L721.55 1328.5 L723.99 1326.1 L726.27 1323.66 L728.37 1321.18 L730.3 1318.67 L732.05 1316.13 L733.63 1313.55 L735.02 1310.95 L736.23 1308.33 L737.26 1305.69 L738.1 1303.03 L738.76 1300.36 L739.22 1297.68 L739.51 1294.99 L739.6 1292.3 L739.51 1289.61 L739.22 1286.92 L738.76 1284.24 L738.1 1281.57 L737.26 1278.91 L736.23 1276.27 L735.02 1273.65 L733.63 1271.05 L732.05 1268.47 L730.3 1265.93 L728.37 1263.42 L726.27 1260.94 L723.99 1258.5 L721.55 1256.1 L718.94 1253.75 L716.17 1251.44 L713.24 1249.19 L710.15 1246.98 L706.91 1244.83 L703.52 1242.74 L699.99 1240.71 L696.32 1238.74 L692.52 1236.84 L688.58 1235 L684.52 1233.24 L680.33 1231.54 L676.04 1229.92 L671.63 1228.38 L667.11 1226.92 L662.5 1225.53 L657.79 1224.22 L653 1223 L648.12 1221.87 L643.16 1220.81 L638.14 1219.85 L633.05 1218.97 L627.9 1218.19 L622.7 1217.49 L617.46 1216.88 L612.18 1216.37 L606.86 1215.95 L601.52 1215.62 L596.16 1215.39 L590.78 1215.25 L585.4 1215.2 L580.02 1215.25 L574.64 1215.39 L569.28 1215.62 L563.94 1215.95 L558.62 1216.37 L553.34 1216.88 L548.1 1217.49 L542.9 1218.19 L537.75 1218.97 L532.66 1219.85 L527.64 1220.81 L522.68 1221.87 L517.8 1223 L513.01 1224.22 L508.3 1225.53Z" fill="none" stroke="#0a0a18" stroke-width="1.35" stroke-dasharray="1.2 0.85" opacity="0.88"/>
<path d="M585.4 1158.76 L582.71 1156.51 L580.02 1154.43 L577.34 1152.51 L574.67 1150.77 L572.01 1149.19 L569.37 1147.79 L566.75 1146.57 L564.15 1145.53 L561.57 1144.66 L559.03 1143.98 L556.52 1143.47 L554.04 1143.15 L551.6 1143 L549.2 1143.04 L546.85 1143.26 L544.54 1143.67 L542.29 1144.25 L540.08 1145.02 L537.93 1145.96 L535.84 1147.08 L533.81 1148.38 L531.84 1149.86 L529.94 1151.5 L528.1 1153.32 L526.34 1155.31 L524.64 1157.47 L523.02 1159.79 L521.48 1162.27 L520.02 1164.91 L518.63 1167.7 L517.32 1170.65 L516.1 1173.75 L514.97 1176.99 L513.91 1180.37 L512.95 1183.88 L512.07 1187.53 L511.29 1191.31 L510.59 1195.21 L509.98 1199.22 L509.47 1203.35 L509.05 1207.59 L508.72 1211.94 L508.49 1216.38 L508.35 1220.91 L508.3 1225.53 L508.35 1230.23 L508.49 1235.01 L508.72 1239.85 L509.05 1244.76 L509.47 1249.73 L509.98 1254.75 L510.59 1259.82 L511.29 1264.92 L512.07 1270.06 L512.95 1275.23 L513.91 1280.42 L514.97 1285.62 L516.1 1290.83 L517.32 1296.04 L518.63 1301.25 L520.02 1306.44 L521.48 1311.62 L523.02 1316.77 L524.64 1321.9 L526.34 1326.99 L528.1 1332.04 L529.94 1337.03 L531.84 1341.98 L533.81 1346.86 L535.84 1351.68 L537.93 1356.42 L540.08 1361.09 L542.29 1365.67 L544.54 1370.17 L546.85 1374.56 L549.2 1378.86 L551.6 1383.06 L554.04 1387.14 L556.52 1391.1 L559.03 1394.95 L561.57 1398.67 L564.15 1402.26 L566.75 1405.72 L569.37 1409.04 L572.01 1412.22 L574.67 1415.25 L577.34 1418.13 L580.02 1420.86 L582.71 1423.43 L585.4 1425.84 L588.09 1428.09 L590.78 1430.17 L593.46 1432.09 L596.13 1433.83 L598.79 1435.41 L601.43 1436.81 L604.05 1438.03 L606.65 1439.07 L609.23 1439.94 L611.77 1440.62 L614.28 1441.13 L616.76 1441.45 L619.2 1441.6 L621.6 1441.56 L623.95 1441.34 L626.26 1440.93 L628.51 1440.35 L630.72 1439.58 L632.87 1438.64 L634.96 1437.52 L636.99 1436.22 L638.96 1434.74 L640.86 1433.1 L642.7 1431.28 L644.46 1429.29 L646.16 1427.13 L647.78 1424.81 L649.32 1422.33 L650.78 1419.69 L652.17 1416.9 L653.48 1413.95 L654.7 1410.85 L655.83 1407.61 L656.89 1404.23 L657.85 1400.72 L658.73 1397.07 L659.51 1393.29 L660.21 1389.39 L660.82 1385.38 L661.33 1381.25 L661.75 1377.01 L662.08 1372.66 L662.31 1368.22 L662.45 1363.69 L662.5 1359.07 L662.45 1354.37 L662.31 1349.59 L662.08 1344.75 L661.75 1339.84 L661.33 1334.87 L660.82 1329.85 L660.21 1324.78 L659.51 1319.68 L658.73 1314.54 L657.85 1309.37 L656.89 1304.18 L655.83 1298.98 L654.7 1293.77 L653.48 1288.56 L652.17 1283.35 L650.78 1278.16 L649.32 1272.98 L647.78 1267.83 L646.16 1262.7 L644.46 1257.61 L642.7 1252.56 L640.86 1247.57 L638.96 1242.62 L636.99 1237.74 L634.96 1232.92 L632.87 1228.18 L630.72 1223.51 L628.51 1218.93 L626.26 1214.43 L623.95 1210.04 L621.6 1205.74 L619.2 1201.54 L616.76 1197.46 L614.28 1193.5 L611.77 1189.65 L609.23 1185.93 L606.65 1182.34 L604.05 1178.88 L601.43 1175.56 L598.79 1172.38 L596.13 1169.35 L593.46 1166.47 L590.78 1163.74 L588.09 1161.17 L585.4 1158.76Z" fill="none" stroke="#0a0a18" stroke-width="1.35" stroke-dasharray="1.2 0.85" opacity="0.88"/>
<path d="M585.4 1158.76 L580.74 1160.19 L576.08 1161.77 L571.44 1163.52 L566.81 1165.42 L562.21 1167.48 L557.64 1169.69 L553.09 1172.05 L548.59 1174.56 L544.13 1177.21 L539.73 1180 L535.37 1182.92 L531.08 1185.98 L526.86 1189.17 L522.71 1192.49 L518.63 1195.93 L514.63 1199.48 L510.72 1203.15 L506.91 1206.92 L503.18 1210.8 L499.56 1214.78 L496.04 1218.85 L492.63 1223.02 L489.34 1227.27 L486.16 1231.59 L483.1 1235.99 L480.17 1240.46 L477.36 1244.99 L474.69 1249.58 L472.15 1254.23 L469.75 1258.91 L467.49 1263.64 L465.37 1268.41 L463.4 1273.2 L461.58 1278.02 L459.91 1282.85 L458.39 1287.7 L457.03 1292.55 L455.83 1297.4 L454.78 1302.24 L453.89 1307.08 L453.16 1311.89 L452.59 1316.68 L452.18 1321.44 L451.94 1326.17 L451.86 1330.85 L451.94 1335.49 L452.18 1340.07 L452.59 1344.6 L453.16 1349.06 L453.89 1353.45 L454.78 1357.77 L455.83 1362.01 L457.03 1366.17 L458.39 1370.23 L459.91 1374.2 L461.58 1378.07 L463.4 1381.83 L465.37 1385.49 L467.49 1389.03 L469.75 1392.46 L472.15 1395.76 L474.69 1398.93 L477.36 1401.98 L480.17 1404.89 L483.1 1407.67 L486.16 1410.3 L489.34 1412.8 L492.63 1415.14 L496.04 1417.34 L499.56 1419.38 L503.18 1421.27 L506.91 1423 L510.72 1424.57 L514.63 1425.98 L518.63 1427.22 L522.71 1428.31 L526.86 1429.23 L531.08 1429.98 L535.37 1430.56 L539.73 1430.97 L544.13 1431.22 L548.59 1431.29 L553.09 1431.2 L557.64 1430.94 L562.21 1430.51 L566.81 1429.91 L571.44 1429.14 L576.08 1428.2 L580.74 1427.11 L585.4 1425.84 L590.06 1424.41 L594.72 1422.83 L599.36 1421.08 L603.99 1419.18 L608.59 1417.12 L613.16 1414.91 L617.71 1412.55 L622.21 1410.04 L626.67 1407.39 L631.07 1404.6 L635.43 1401.68 L639.72 1398.62 L643.94 1395.43 L648.09 1392.11 L652.17 1388.67 L656.17 1385.12 L660.08 1381.45 L663.89 1377.68 L667.62 1373.8 L671.24 1369.82 L674.76 1365.75 L678.17 1361.58 L681.46 1357.33 L684.64 1353.01 L687.7 1348.61 L690.63 1344.14 L693.44 1339.61 L696.11 1335.02 L698.65 1330.37 L701.05 1325.69 L703.31 1320.96 L705.43 1316.19 L707.4 1311.4 L709.22 1306.58 L710.89 1301.75 L712.41 1296.9 L713.77 1292.05 L714.97 1287.2 L716.02 1282.36 L716.91 1277.52 L717.64 1272.71 L718.21 1267.92 L718.62 1263.16 L718.86 1258.43 L718.94 1253.75 L718.86 1249.11 L718.62 1244.53 L718.21 1240 L717.64 1235.54 L716.91 1231.15 L716.02 1226.83 L714.97 1222.59 L713.77 1218.43 L712.41 1214.37 L710.89 1210.4 L709.22 1206.53 L707.4 1202.77 L705.43 1199.11 L703.31 1195.57 L701.05 1192.14 L698.65 1188.84 L696.11 1185.67 L693.44 1182.62 L690.63 1179.71 L687.7 1176.93 L684.64 1174.3 L681.46 1171.8 L678.17 1169.46 L674.76 1167.26 L671.24 1165.22 L667.62 1163.33 L663.89 1161.6 L660.08 1160.03 L656.17 1158.62 L652.17 1157.38 L648.09 1156.29 L643.94 1155.37 L639.72 1154.62 L635.43 1154.04 L631.07 1153.63 L626.67 1153.38 L622.21 1153.31 L617.71 1153.4 L613.16 1153.66 L608.59 1154.09 L603.99 1154.69 L599.36 1155.46 L594.72 1156.4 L590.06 1157.49 L585.4 1158.76Z" fill="none" stroke="#0a0a18" stroke-width="1.35" stroke-dasharray="1.2 0.85" opacity="0.88"/>
<text x="985.3" y="1111.5" font-family="Liberation Sans, sans-serif" font-size="34">|0</text>
<text transform="translate(1014.84 1117.3) scale(0.8 1)" x="-5.8" y="0" font-family="Liberation Sans, WenQuanYi Zen Hei, sans-serif" font-size="39.5">〉</text>
<text x="1026.04" y="1127.9" font-family="Liberation Sans, sans-serif" font-size="26">L</text>
<text x="985.3" y="1485.2" font-family="Liberation Sans, sans-serif" font-size="34">|1</text>
<text transform="translate(1014.84 1491) scale(0.8 1)" x="-5.8" y="0" font-family="Liberation Sans, WenQuanYi Zen Hei, sans-serif" font-size="39.5">〉</text>
<text x="1026.04" y="1501.6" font-family="Liberation Sans, sans-serif" font-size="26">L</text>
<text x="798.3" y="1352.2" font-family="Liberation Sans, sans-serif" font-size="34">|i</text>
<text transform="translate(816.49 1358) scale(0.8 1)" x="-5.8" y="0" font-family="Liberation Sans, WenQuanYi Zen Hei, sans-serif" font-size="39.5">〉</text>
<text x="827.69" y="1368.6" font-family="Liberation Sans, sans-serif" font-size="26">L</text>
<text x="877.4" y="1204.8" font-family="Liberation Sans, sans-serif" font-size="34">|+</text>
<text transform="translate(907.9 1210.6) scale(0.8 1)" x="-5.8" y="0" font-family="Liberation Sans, WenQuanYi Zen Hei, sans-serif" font-size="39.5">〉</text>
<text x="919.1" y="1221.2" font-family="Liberation Sans, sans-serif" font-size="26">L</text>
<line x1="892.58" y1="1212.18" x2="1077.62" y2="1372.42" stroke="#000" stroke-width="1.4"/>
<line x1="824.85" y1="1338.56" x2="1145.35" y2="1246.04" stroke="#000" stroke-width="1.4"/>
<line x1="985.1" y1="1132.05" x2="985.1" y2="1452.55" stroke="#000" stroke-width="1.4"/>
<clipPath id="sc22"><circle cx="985.1" cy="1292.3" r="154.5"/></clipPath>
<g opacity="0.42" clip-path="url(#sc22)">
<circle cx="985.1" cy="1292.3" r="154.5" fill="url(#sph)"/>
<ellipse cx="942.1" cy="1186.3" rx="78" ry="50" transform="rotate(-33 942.1 1186.3)" fill="url(#halo)"/>
<ellipse cx="942.1" cy="1186.3" rx="56" ry="34" transform="rotate(-33 942.1 1186.3)" fill="url(#hl)"/>
<ellipse cx="1023.1" cy="1399.3" rx="78" ry="50" transform="rotate(-40 1023.1 1399.3)" fill="url(#halo)"/>
<ellipse cx="1023.1" cy="1399.3" rx="56" ry="34" transform="rotate(-40 1023.1 1399.3)" fill="url(#hl)"/>
</g>
<rect x="916.3" y="1232.9" width="6.6" height="6.6" rx="0.8" fill="#0000f0"/>
<rect x="910.2" y="1239.1" width="6.6" height="6.6" rx="0.8" fill="#0000f0"/>
<rect x="921.2" y="1242.8" width="6.6" height="6.6" rx="0.8" fill="#0000f0"/>
<rect x="929.1" y="1240.5" width="6.6" height="6.6" rx="0.8" fill="#0000f0"/>
<rect x="941" y="1239.1" width="6.6" height="6.6" rx="0.8" fill="#0000f0"/>
<rect x="960.8" y="1236.2" width="6.6" height="6.6" rx="0.8" fill="#0000f0"/>
<rect x="974" y="1232.5" width="6.6" height="6.6" rx="0.8" fill="#0000f0"/>
<rect x="976.6" y="1235.2" width="6.6" height="6.6" rx="0.8" fill="#0000f0"/>
<rect x="998.4" y="1232.8" width="6.6" height="6.6" rx="0.8" fill="#0000f0"/>
<rect x="1003" y="1236.2" width="6.6" height="6.6" rx="0.8" fill="#0000f0"/>
<rect x="1010.3" y="1239.8" width="6.6" height="6.6" rx="0.8" fill="#0000f0"/>
<rect x="1028.7" y="1234.5" width="6.6" height="6.6" rx="0.8" fill="#0000f0"/>
<rect x="1027.7" y="1240.2" width="6.6" height="6.6" rx="0.8" fill="#0000f0"/>
<rect x="1046.5" y="1237.8" width="6.6" height="6.6" rx="0.8" fill="#0000f0"/>
<rect x="1065.7" y="1247.5" width="6.6" height="6.6" rx="0.8" fill="#0000f0"/>
<rect x="1076.2" y="1253.7" width="6.6" height="6.6" rx="0.8" fill="#0000f0"/>
<rect x="898.1" y="1247.5" width="6.6" height="6.6" rx="0.8" fill="#0000f0"/>
<rect x="887.9" y="1249.4" width="6.6" height="6.6" rx="0.8" fill="#0000f0"/>
<rect x="879.3" y="1250.4" width="6.6" height="6.6" rx="0.8" fill="#0000f0"/>
<rect x="878.9" y="1259.6" width="6.6" height="6.6" rx="0.8" fill="#0000f0"/>
<rect x="875" y="1262.2" width="6.6" height="6.6" rx="0.8" fill="#0000f0"/>
<rect x="853.9" y="1269.9" width="6.6" height="6.6" rx="0.8" fill="#0000f0"/>
<rect x="861.1" y="1271.9" width="6.6" height="6.6" rx="0.8" fill="#0000f0"/>
<rect x="870.1" y="1273.5" width="6.6" height="6.6" rx="0.8" fill="#0000f0"/>
<rect x="862.4" y="1286" width="6.6" height="6.6" rx="0.8" fill="#0000f0"/>
<rect x="859.1" y="1288.6" width="6.6" height="6.6" rx="0.8" fill="#0000f0"/>
<rect x="860.5" y="1295.6" width="6.6" height="6.6" rx="0.8" fill="#0000f0"/>
<rect x="863.8" y="1302.2" width="6.6" height="6.6" rx="0.8" fill="#0000f0"/>
<rect x="859.1" y="1304.9" width="6.6" height="6.6" rx="0.8" fill="#0000f0"/>
<rect x="867.3" y="1311.7" width="6.6" height="6.6" rx="0.8" fill="#0000f0"/>
<rect x="896.5" y="1317.3" width="6.6" height="6.6" rx="0.8" fill="#0000f0"/>
<rect x="880.9" y="1322.5" width="6.6" height="6.6" rx="0.8" fill="#0000f0"/>
<rect x="885.1" y="1325.2" width="6.6" height="6.6" rx="0.8" fill="#0000f0"/>
<rect x="892.5" y="1322.3" width="6.6" height="6.6" rx="0.8" fill="#0000f0"/>
<rect x="907" y="1327.8" width="6.6" height="6.6" rx="0.8" fill="#0000f0"/>
<rect x="916.5" y="1336.1" width="6.6" height="6.6" rx="0.8" fill="#0000f0"/>
<rect x="942.3" y="1337.5" width="6.6" height="6.6" rx="0.8" fill="#0000f0"/>
<rect x="949.3" y="1343.1" width="6.6" height="6.6" rx="0.8" fill="#0000f0"/>
<rect x="948.6" y="1345.8" width="6.6" height="6.6" rx="0.8" fill="#0000f0"/>
<rect x="962.1" y="1350.9" width="6.6" height="6.6" rx="0.8" fill="#0000f0"/>
<rect x="974.4" y="1346" width="6.6" height="6.6" rx="0.8" fill="#0000f0"/>
<rect x="987.6" y="1344.7" width="6.6" height="6.6" rx="0.8" fill="#0000f0"/>
<rect x="998.1" y="1343.4" width="6.6" height="6.6" rx="0.8" fill="#0000f0"/>
<rect x="1001.7" y="1340.8" width="6.6" height="6.6" rx="0.8" fill="#0000f0"/>
<rect x="1011.3" y="1347.8" width="6.6" height="6.6" rx="0.8" fill="#0000f0"/>
<rect x="1024.8" y="1347" width="6.6" height="6.6" rx="0.8" fill="#0000f0"/>
<rect x="1043.2" y="1336.1" width="6.6" height="6.6" rx="0.8" fill="#0000f0"/>
<defs><linearGradient id="ash8" x1="0" y1="0" x2="0" y2="1"><stop offset="0" stop-color="#cc1428"/><stop offset="0.3" stop-color="#cc1428"/><stop offset="0.55" stop-color="#960616"/><stop offset="1" stop-color="#3a0008"/></linearGradient><linearGradient id="ahd8" x1="0" y1="0" x2="0" y2="1"><stop offset="0" stop-color="#cc3a4a"/><stop offset="0.3" stop-color="#cc3a4a"/><stop offset="0.55" stop-color="#82081a"/><stop offset="1" stop-color="#30000a"/></linearGradient></defs>
<g transform="translate(985.2 1292.3) rotate(9.54)">
<path d="M0 -2.75 L23.69 -2 L23.69 2 L0 2.75 A2.75 2.75 0 0 1 0 -2.75 Z" fill="url(#ash8)"/>
<ellipse cx="22.69" cy="0" rx="4.2" ry="7" fill="#50000c"/>
<path d="M22.69 -7 L38.03 0 L22.69 7 Z" fill="url(#ahd8)"/>
</g>
<rect x="1023.2" y="1294.7" width="10.2" height="10.2" rx="1" fill="#dd0010"/>
<path d="M908 1225.53 L903.39 1226.92 L898.87 1228.38 L894.46 1229.92 L890.17 1231.54 L885.98 1233.24 L881.92 1235 L877.98 1236.84 L874.18 1238.74 L870.51 1240.71 L866.98 1242.74 L863.59 1244.83 L860.35 1246.98 L857.26 1249.19 L854.33 1251.44 L851.56 1253.75 L848.95 1256.1 L846.51 1258.5 L844.23 1260.94 L842.13 1263.42 L840.2 1265.93 L838.45 1268.47 L836.87 1271.05 L835.48 1273.65 L834.27 1276.27 L833.24 1278.91 L832.4 1281.57 L831.74 1284.24 L831.28 1286.92 L830.99 1289.61 L830.9 1292.3 L830.99 1294.99 L831.28 1297.68 L831.74 1300.36 L832.4 1303.03 L833.24 1305.69 L834.27 1308.33 L835.48 1310.95 L836.87 1313.55 L838.45 1316.13 L840.2 1318.67 L842.13 1321.18 L844.23 1323.66 L846.51 1326.1 L848.95 1328.5 L851.56 1330.85 L854.33 1333.16 L857.26 1335.41 L860.35 1337.62 L863.59 1339.77 L866.98 1341.86 L870.51 1343.89 L874.18 1345.86 L877.98 1347.76 L881.92 1349.6 L885.98 1351.36 L890.17 1353.06 L894.46 1354.68 L898.87 1356.22 L903.39 1357.68 L908 1359.07 L912.71 1360.38 L917.5 1361.6 L922.38 1362.73 L927.34 1363.79 L932.36 1364.75 L937.45 1365.63 L942.6 1366.41 L947.8 1367.11 L953.04 1367.72 L958.32 1368.23 L963.64 1368.65 L968.98 1368.98 L974.34 1369.21 L979.72 1369.35 L985.1 1369.4 L990.48 1369.35 L995.86 1369.21 L1001.22 1368.98 L1006.56 1368.65 L1011.88 1368.23 L1017.16 1367.72 L1022.4 1367.11 L1027.6 1366.41 L1032.75 1365.63 L1037.84 1364.75 L1042.86 1363.79 L1047.82 1362.73 L1052.7 1361.6 L1057.49 1360.38 L1062.2 1359.07 L1066.81 1357.68 L1071.33 1356.22 L1075.74 1354.68 L1080.03 1353.06 L1084.22 1351.36 L1088.28 1349.6 L1092.22 1347.76 L1096.02 1345.86 L1099.69 1343.89 L1103.22 1341.86 L1106.61 1339.77 L1109.85 1337.62 L1112.94 1335.41 L1115.87 1333.16 L1118.64 1330.85 L1121.25 1328.5 L1123.69 1326.1 L1125.97 1323.66 L1128.07 1321.18 L1130 1318.67 L1131.75 1316.13 L1133.33 1313.55 L1134.72 1310.95 L1135.93 1308.33 L1136.96 1305.69 L1137.8 1303.03 L1138.46 1300.36 L1138.92 1297.68 L1139.21 1294.99 L1139.3 1292.3 L1139.21 1289.61 L1138.92 1286.92 L1138.46 1284.24 L1137.8 1281.57 L1136.96 1278.91 L1135.93 1276.27 L1134.72 1273.65 L1133.33 1271.05 L1131.75 1268.47 L1130 1265.93 L1128.07 1263.42 L1125.97 1260.94 L1123.69 1258.5 L1121.25 1256.1 L1118.64 1253.75 L1115.87 1251.44 L1112.94 1249.19 L1109.85 1246.98 L1106.61 1244.83 L1103.22 1242.74 L1099.69 1240.71 L1096.02 1238.74 L1092.22 1236.84 L1088.28 1235 L1084.22 1233.24 L1080.03 1231.54 L1075.74 1229.92 L1071.33 1228.38 L1066.81 1226.92 L1062.2 1225.53 L1057.49 1224.22 L1052.7 1223 L1047.82 1221.87 L1042.86 1220.81 L1037.84 1219.85 L1032.75 1218.97 L1027.6 1218.19 L1022.4 1217.49 L1017.16 1216.88 L1011.88 1216.37 L1006.56 1215.95 L1001.22 1215.62 L995.86 1215.39 L990.48 1215.25 L985.1 1215.2 L979.72 1215.25 L974.34 1215.39 L968.98 1215.62 L963.64 1215.95 L958.32 1216.37 L953.04 1216.88 L947.8 1217.49 L942.6 1218.19 L937.45 1218.97 L932.36 1219.85 L927.34 1220.81 L922.38 1221.87 L917.5 1223 L912.71 1224.22 L908 1225.53Z" fill="none" stroke="#0a0a18" stroke-width="1.35" stroke-dasharray="1.2 0.85" opacity="0.88"/>
<path d="M985.1 1158.76 L982.41 1156.51 L979.72 1154.43 L977.04 1152.51 L974.37 1150.77 L971.71 1149.19 L969.07 1147.79 L966.45 1146.57 L963.85 1145.53 L961.27 1144.66 L958.73 1143.98 L956.22 1143.47 L953.74 1143.15 L951.3 1143 L948.9 1143.04 L946.55 1143.26 L944.24 1143.67 L941.99 1144.25 L939.78 1145.02 L937.63 1145.96 L935.54 1147.08 L933.51 1148.38 L931.54 1149.86 L929.64 1151.5 L927.8 1153.32 L926.04 1155.31 L924.34 1157.47 L922.72 1159.79 L921.18 1162.27 L919.72 1164.91 L918.33 1167.7 L917.02 1170.65 L915.8 1173.75 L914.67 1176.99 L913.61 1180.37 L912.65 1183.88 L911.77 1187.53 L910.99 1191.31 L910.29 1195.21 L909.68 1199.22 L909.17 1203.35 L908.75 1207.59 L908.42 1211.94 L908.19 1216.38 L908.05 1220.91 L908 1225.53 L908.05 1230.23 L908.19 1235.01 L908.42 1239.85 L908.75 1244.76 L909.17 1249.73 L909.68 1254.75 L910.29 1259.82 L910.99 1264.92 L911.77 1270.06 L912.65 1275.23 L913.61 1280.42 L914.67 1285.62 L915.8 1290.83 L917.02 1296.04 L918.33 1301.25 L919.72 1306.44 L921.18 1311.62 L922.72 1316.77 L924.34 1321.9 L926.04 1326.99 L927.8 1332.04 L929.64 1337.03 L931.54 1341.98 L933.51 1346.86 L935.54 1351.68 L937.63 1356.42 L939.78 1361.09 L941.99 1365.67 L944.24 1370.17 L946.55 1374.56 L948.9 1378.86 L951.3 1383.06 L953.74 1387.14 L956.22 1391.1 L958.73 1394.95 L961.27 1398.67 L963.85 1402.26 L966.45 1405.72 L969.07 1409.04 L971.71 1412.22 L974.37 1415.25 L977.04 1418.13 L979.72 1420.86 L982.41 1423.43 L985.1 1425.84 L987.79 1428.09 L990.48 1430.17 L993.16 1432.09 L995.83 1433.83 L998.49 1435.41 L1001.13 1436.81 L1003.75 1438.03 L1006.35 1439.07 L1008.93 1439.94 L1011.47 1440.62 L1013.98 1441.13 L1016.46 1441.45 L1018.9 1441.6 L1021.3 1441.56 L1023.65 1441.34 L1025.96 1440.93 L1028.21 1440.35 L1030.42 1439.58 L1032.57 1438.64 L1034.66 1437.52 L1036.69 1436.22 L1038.66 1434.74 L1040.56 1433.1 L1042.4 1431.28 L1044.16 1429.29 L1045.86 1427.13 L1047.48 1424.81 L1049.02 1422.33 L1050.48 1419.69 L1051.87 1416.9 L1053.18 1413.95 L1054.4 1410.85 L1055.53 1407.61 L1056.59 1404.23 L1057.55 1400.72 L1058.43 1397.07 L1059.21 1393.29 L1059.91 1389.39 L1060.52 1385.38 L1061.03 1381.25 L1061.45 1377.01 L1061.78 1372.66 L1062.01 1368.22 L1062.15 1363.69 L1062.2 1359.07 L1062.15 1354.37 L1062.01 1349.59 L1061.78 1344.75 L1061.45 1339.84 L1061.03 1334.87 L1060.52 1329.85 L1059.91 1324.78 L1059.21 1319.68 L1058.43 1314.54 L1057.55 1309.37 L1056.59 1304.18 L1055.53 1298.98 L1054.4 1293.77 L1053.18 1288.56 L1051.87 1283.35 L1050.48 1278.16 L1049.02 1272.98 L1047.48 1267.83 L1045.86 1262.7 L1044.16 1257.61 L1042.4 1252.56 L1040.56 1247.57 L1038.66 1242.62 L1036.69 1237.74 L1034.66 1232.92 L1032.57 1228.18 L1030.42 1223.51 L1028.21 1218.93 L1025.96 1214.43 L1023.65 1210.04 L1021.3 1205.74 L1018.9 1201.54 L1016.46 1197.46 L1013.98 1193.5 L1011.47 1189.65 L1008.93 1185.93 L1006.35 1182.34 L1003.75 1178.88 L1001.13 1175.56 L998.49 1172.38 L995.83 1169.35 L993.16 1166.47 L990.48 1163.74 L987.79 1161.17 L985.1 1158.76Z" fill="none" stroke="#0a0a18" stroke-width="1.35" stroke-dasharray="1.2 0.85" opacity="0.88"/>
<path d="M985.1 1158.76 L980.44 1160.19 L975.78 1161.77 L971.14 1163.52 L966.51 1165.42 L961.91 1167.48 L957.34 1169.69 L952.79 1172.05 L948.29 1174.56 L943.83 1177.21 L939.43 1180 L935.07 1182.92 L930.78 1185.98 L926.56 1189.17 L922.41 1192.49 L918.33 1195.93 L914.33 1199.48 L910.42 1203.15 L906.61 1206.92 L902.88 1210.8 L899.26 1214.78 L895.74 1218.85 L892.33 1223.02 L889.04 1227.27 L885.86 1231.59 L882.8 1235.99 L879.87 1240.46 L877.06 1244.99 L874.39 1249.58 L871.85 1254.23 L869.45 1258.91 L867.19 1263.64 L865.07 1268.41 L863.1 1273.2 L861.28 1278.02 L859.61 1282.85 L858.09 1287.7 L856.73 1292.55 L855.53 1297.4 L854.48 1302.24 L853.59 1307.08 L852.86 1311.89 L852.29 1316.68 L851.88 1321.44 L851.64 1326.17 L851.56 1330.85 L851.64 1335.49 L851.88 1340.07 L852.29 1344.6 L852.86 1349.06 L853.59 1353.45 L854.48 1357.77 L855.53 1362.01 L856.73 1366.17 L858.09 1370.23 L859.61 1374.2 L861.28 1378.07 L863.1 1381.83 L865.07 1385.49 L867.19 1389.03 L869.45 1392.46 L871.85 1395.76 L874.39 1398.93 L877.06 1401.98 L879.87 1404.89 L882.8 1407.67 L885.86 1410.3 L889.04 1412.8 L892.33 1415.14 L895.74 1417.34 L899.26 1419.38 L902.88 1421.27 L906.61 1423 L910.42 1424.57 L914.33 1425.98 L918.33 1427.22 L922.41 1428.31 L926.56 1429.23 L930.78 1429.98 L935.07 1430.56 L939.43 1430.97 L943.83 1431.22 L948.29 1431.29 L952.79 1431.2 L957.34 1430.94 L961.91 1430.51 L966.51 1429.91 L971.14 1429.14 L975.78 1428.2 L980.44 1427.11 L985.1 1425.84 L989.76 1424.41 L994.42 1422.83 L999.06 1421.08 L1003.69 1419.18 L1008.29 1417.12 L1012.86 1414.91 L1017.41 1412.55 L1021.91 1410.04 L1026.37 1407.39 L1030.77 1404.6 L1035.13 1401.68 L1039.42 1398.62 L1043.64 1395.43 L1047.79 1392.11 L1051.87 1388.67 L1055.87 1385.12 L1059.78 1381.45 L1063.59 1377.68 L1067.32 1373.8 L1070.94 1369.82 L1074.46 1365.75 L1077.87 1361.58 L1081.16 1357.33 L1084.34 1353.01 L1087.4 1348.61 L1090.33 1344.14 L1093.14 1339.61 L1095.81 1335.02 L1098.35 1330.37 L1100.75 1325.69 L1103.01 1320.96 L1105.13 1316.19 L1107.1 1311.4 L1108.92 1306.58 L1110.59 1301.75 L1112.11 1296.9 L1113.47 1292.05 L1114.67 1287.2 L1115.72 1282.36 L1116.61 1277.52 L1117.34 1272.71 L1117.91 1267.92 L1118.32 1263.16 L1118.56 1258.43 L1118.64 1253.75 L1118.56 1249.11 L1118.32 1244.53 L1117.91 1240 L1117.34 1235.54 L1116.61 1231.15 L1115.72 1226.83 L1114.67 1222.59 L1113.47 1218.43 L1112.11 1214.37 L1110.59 1210.4 L1108.92 1206.53 L1107.1 1202.77 L1105.13 1199.11 L1103.01 1195.57 L1100.75 1192.14 L1098.35 1188.84 L1095.81 1185.67 L1093.14 1182.62 L1090.33 1179.71 L1087.4 1176.93 L1084.34 1174.3 L1081.16 1171.8 L1077.87 1169.46 L1074.46 1167.26 L1070.94 1165.22 L1067.32 1163.33 L1063.59 1161.6 L1059.78 1160.03 L1055.87 1158.62 L1051.87 1157.38 L1047.79 1156.29 L1043.64 1155.37 L1039.42 1154.62 L1035.13 1154.04 L1030.77 1153.63 L1026.37 1153.38 L1021.91 1153.31 L1017.41 1153.4 L1012.86 1153.66 L1008.29 1154.09 L1003.69 1154.69 L999.06 1155.46 L994.42 1156.4 L989.76 1157.49 L985.1 1158.76Z" fill="none" stroke="#0a0a18" stroke-width="1.35" stroke-dasharray="1.2 0.85" opacity="0.88"/>
<rect x="1327.4" y="13.4" width="619.4" height="403.7" fill="none" stroke="#303030" stroke-width="1.3"/>
<path d="M1328 417.1h5.6M1946.2 417.1h-5.6M1328 336.36h5.6M1946.2 336.36h-5.6M1328 255.62h5.6M1946.2 255.62h-5.6M1328 174.88h5.6M1946.2 174.88h-5.6M1328 94.14h5.6M1946.2 94.14h-5.6M1328 13.4h5.6M1946.2 13.4h-5.6M1327.4 416.5v-5.6M1327.4 14v5.6M1482.25 416.5v-5.6M1482.25 14v5.6M1637.1 416.5v-5.6M1637.1 14v5.6M1791.95 416.5v-5.6M1791.95 14v5.6M1946.8 416.5v-5.6M1946.8 14v5.6" stroke="#303030" stroke-width="1.3" fill="none"/>
<rect x="1327.4" y="13.4" width="154.85" height="403.7" fill="#c2ffc2" fill-opacity="0.46"/>
<rect x="1482.25" y="13.4" width="464.55" height="403.7" fill="#90c6f8" fill-opacity="0.46"/>
<text x="1316.7" y="428.5" text-anchor="end" font-family="Liberation Sans, sans-serif" font-size="29" fill="#262626">0</text>
<text x="1316.7" y="347.76" text-anchor="end" font-family="Liberation Sans, sans-serif" font-size="29" fill="#262626">0.2</text>
<text x="1316.7" y="267.02" text-anchor="end" font-family="Liberation Sans, sans-serif" font-size="29" fill="#262626">0.4</text>
<text x="1316.7" y="186.28" text-anchor="end" font-family="Liberation Sans, sans-serif" font-size="29" fill="#262626">0.6</text>
<text x="1316.7" y="105.54" text-anchor="end" font-family="Liberation Sans, sans-serif" font-size="29" fill="#262626">0.8</text>
<text x="1316.7" y="24.8" text-anchor="end" font-family="Liberation Sans, sans-serif" font-size="29" fill="#262626">1</text>
<text x="1327.4" y="456.3" text-anchor="middle" font-family="Liberation Sans, sans-serif" font-size="29" fill="#262626">0</text>
<text x="1486.05" y="456.3" text-anchor="middle" font-family="Liberation Sans, sans-serif" font-size="29" fill="#262626">3/8</text>
<text x="1640.9" y="456.3" text-anchor="middle" font-family="Liberation Sans, sans-serif" font-size="29" fill="#262626">3/4</text>
<text x="1795.75" y="456.3" text-anchor="middle" font-family="Liberation Sans, sans-serif" font-size="29" fill="#262626">9/8</text>
<text x="1950.6" y="456.3" text-anchor="middle" font-family="Liberation Sans, sans-serif" font-size="29" fill="#262626">3/2</text>
<text transform="translate(1262 215.25) rotate(-90)" x="0" y="0" text-anchor="middle" font-family="Liberation Sans, sans-serif" font-size="32" fill="#262626">Trace distance</text>
<text x="1607.7" y="492.3" font-family="Liberation Serif, DejaVu Math TeX Gyre, serif" font-size="28" fill="#262626">𝜑</text>
<text x="1628.2" y="493.9" font-family="DejaVu Math TeX Gyre, serif" font-size="37" fill="#262626">/</text>
<text x="1643.8" y="491.9" font-family="Liberation Serif, DejaVu Math TeX Gyre, serif" font-size="28" fill="#262626">𝜋</text>
<path d="M1327.4 403.54 L1331.53 397.66 L1335.66 391.78 L1339.79 385.89 L1343.92 380 L1348.05 374.11 L1352.18 368.22 L1356.31 362.33 L1360.43 356.45 L1364.56 350.57 L1368.69 344.7 L1372.82 338.83 L1376.95 332.98 L1381.08 327.14 L1385.21 321.31 L1389.34 315.5 L1393.47 309.71 L1397.6 303.93 L1401.73 298.18 L1405.86 292.44 L1409.99 286.73 L1414.12 281.05 L1418.25 275.39 L1422.37 269.76 L1426.5 264.16 L1430.63 258.6 L1434.76 253.06 L1438.89 247.56 L1443.02 242.1 L1447.15 236.68 L1451.28 231.29 L1455.41 225.95 L1459.54 220.65 L1463.67 215.39 L1467.8 210.18 L1471.93 205.02 L1476.06 199.9 L1480.19 194.83 L1484.31 189.82 L1488.44 184.86 L1492.57 179.95 L1496.7 175.1 L1500.83 170.31 L1504.96 165.57 L1509.09 160.89 L1513.22 156.28 L1517.35 151.73 L1521.48 147.24 L1525.61 142.81 L1529.74 138.45 L1533.87 134.16 L1538 129.94 L1542.13 125.79 L1546.25 121.71 L1550.38 117.7 L1554.51 113.77 L1558.64 109.91 L1562.77 106.12 L1566.9 102.41 L1571.03 98.78 L1575.16 95.23 L1579.29 91.76 L1583.42 88.37 L1587.55 85.06 L1591.68 81.83 L1595.81 78.69 L1599.94 75.63 L1604.07 72.66 L1608.19 69.77 L1612.32 66.97 L1616.45 64.26 L1620.58 61.64 L1624.71 59.1 L1628.84 56.66 L1632.97 54.31 L1637.1 52.05 L1641.23 49.88 L1645.36 47.8 L1649.49 45.82 L1653.62 43.93 L1657.75 42.13 L1661.88 40.43 L1666.01 38.82 L1670.13 37.32 L1674.26 35.9 L1678.39 34.59 L1682.52 33.37 L1686.65 32.24 L1690.78 31.22 L1694.91 30.29 L1699.04 29.47 L1703.17 28.74 L1707.3 28.11 L1711.43 27.58 L1715.56 27.14 L1719.69 26.81 L1723.82 26.58 L1727.95 26.44 L1732.07 26.4 L1736.2 26.47 L1740.33 26.63 L1744.46 26.89 L1748.59 27.26 L1752.72 27.72 L1756.85 28.28 L1760.98 28.94 L1765.11 29.69 L1769.24 30.55 L1773.37 31.5 L1777.5 32.56 L1781.63 33.7 L1785.76 34.95 L1789.89 36.3 L1794.01 37.74 L1798.14 39.27 L1802.27 40.91 L1806.4 42.63 L1810.53 44.46 L1814.66 46.37 L1818.79 48.38 L1822.92 50.49 L1827.05 52.68 L1831.18 54.97 L1835.31 57.35 L1839.44 59.82 L1843.57 62.38 L1847.7 65.03 L1851.83 67.76 L1855.95 70.59 L1860.08 73.5 L1864.21 76.5 L1868.34 79.58 L1872.47 82.75 L1876.6 86 L1880.73 89.33 L1884.86 92.74 L1888.99 96.24 L1893.12 99.81 L1897.25 103.46 L1901.38 107.19 L1905.51 111 L1909.64 114.88 L1913.77 118.84 L1917.89 122.87 L1922.02 126.97 L1926.15 131.14 L1930.28 135.38 L1934.41 139.69 L1938.54 144.07 L1942.67 148.51 L1946.8 153.02" fill="none" stroke="#000" stroke-width="4" stroke-linejoin="round"/>
<rect x="1321.3" y="399.4" width="12.2" height="12.2" rx="1.3" fill="#0000ff"/>
<rect x="1334.2" y="377.5" width="12.2" height="12.2" rx="1.3" fill="#0000ff"/>
<rect x="1347.11" y="360.1" width="12.2" height="12.2" rx="1.3" fill="#0000ff"/>
<rect x="1360.01" y="335.3" width="12.2" height="12.2" rx="1.3" fill="#0000ff"/>
<rect x="1372.92" y="323.4" width="12.2" height="12.2" rx="1.3" fill="#0000ff"/>
<rect x="1385.82" y="308.5" width="12.2" height="12.2" rx="1.3" fill="#0000ff"/>
<rect x="1398.73" y="291.7" width="12.2" height="12.2" rx="1.3" fill="#0000ff"/>
<rect x="1411.63" y="274.4" width="12.2" height="12.2" rx="1.3" fill="#0000ff"/>
<rect x="1424.53" y="253.7" width="12.2" height="12.2" rx="1.3" fill="#0000ff"/>
<rect x="1437.44" y="234.9" width="12.2" height="12.2" rx="1.3" fill="#0000ff"/>
<rect x="1450.34" y="219.5" width="12.2" height="12.2" rx="1.3" fill="#0000ff"/>
<rect x="1463.25" y="204.5" width="12.2" height="12.2" rx="1.3" fill="#0000ff"/>
<rect x="1489.05" y="173.2" width="12.2" height="12.2" rx="1.3" fill="#0000ff"/>
<rect x="1501.96" y="147.7" width="12.2" height="12.2" rx="1.3" fill="#0000ff"/>
<rect x="1514.86" y="138.5" width="12.2" height="12.2" rx="1.3" fill="#0000ff"/>
<rect x="1527.77" y="126.9" width="12.2" height="12.2" rx="1.3" fill="#0000ff"/>
<rect x="1540.67" y="117" width="12.2" height="12.2" rx="1.3" fill="#0000ff"/>
<rect x="1553.58" y="98.7" width="12.2" height="12.2" rx="1.3" fill="#0000ff"/>
<rect x="1566.48" y="89.2" width="12.2" height="12.2" rx="1.3" fill="#0000ff"/>
<rect x="1579.38" y="84.7" width="12.2" height="12.2" rx="1.3" fill="#0000ff"/>
<rect x="1592.29" y="69.1" width="12.2" height="12.2" rx="1.3" fill="#0000ff"/>
<rect x="1605.19" y="62.1" width="12.2" height="12.2" rx="1.3" fill="#0000ff"/>
<rect x="1618.1" y="52.4" width="12.2" height="12.2" rx="1.3" fill="#0000ff"/>
<rect x="1631" y="45.7" width="12.2" height="12.2" rx="1.3" fill="#0000ff"/>
<rect x="1643.9" y="38.6" width="12.2" height="12.2" rx="1.3" fill="#0000ff"/>
<rect x="1656.81" y="42.3" width="12.2" height="12.2" rx="1.3" fill="#0000ff"/>
<rect x="1669.71" y="28.9" width="12.2" height="12.2" rx="1.3" fill="#0000ff"/>
<rect x="1682.62" y="27" width="12.2" height="12.2" rx="1.3" fill="#0000ff"/>
<rect x="1695.52" y="20.1" width="12.2" height="12.2" rx="1.3" fill="#0000ff"/>
<rect x="1708.43" y="21.2" width="12.2" height="12.2" rx="1.3" fill="#0000ff"/>
<rect x="1721.33" y="20.4" width="12.2" height="12.2" rx="1.3" fill="#0000ff"/>
<rect x="1734.23" y="22" width="12.2" height="12.2" rx="1.3" fill="#0000ff"/>
<rect x="1747.14" y="22" width="12.2" height="12.2" rx="1.3" fill="#0000ff"/>
<rect x="1760.04" y="27" width="12.2" height="12.2" rx="1.3" fill="#0000ff"/>
<rect x="1772.95" y="24.4" width="12.2" height="12.2" rx="1.3" fill="#0000ff"/>
<rect x="1785.85" y="32.7" width="12.2" height="12.2" rx="1.3" fill="#0000ff"/>
<rect x="1798.75" y="36.2" width="12.2" height="12.2" rx="1.3" fill="#0000ff"/>
<rect x="1811.66" y="40.2" width="12.2" height="12.2" rx="1.3" fill="#0000ff"/>
<rect x="1824.56" y="42.2" width="12.2" height="12.2" rx="1.3" fill="#0000ff"/>
<rect x="1837.47" y="54.1" width="12.2" height="12.2" rx="1.3" fill="#0000ff"/>
<rect x="1850.37" y="65.3" width="12.2" height="12.2" rx="1.3" fill="#0000ff"/>
<rect x="1863.28" y="77.1" width="12.2" height="12.2" rx="1.3" fill="#0000ff"/>
<rect x="1876.18" y="82.8" width="12.2" height="12.2" rx="1.3" fill="#0000ff"/>
<rect x="1889.08" y="99.6" width="12.2" height="12.2" rx="1.3" fill="#0000ff"/>
<rect x="1901.99" y="104.9" width="12.2" height="12.2" rx="1.3" fill="#0000ff"/>
<rect x="1914.89" y="125.3" width="12.2" height="12.2" rx="1.3" fill="#0000ff"/>
<rect x="1927.8" y="128" width="12.2" height="12.2" rx="1.3" fill="#0000ff"/>
<rect x="1940.7" y="148.2" width="12.2" height="12.2" rx="1.3" fill="#0000ff"/>
<rect x="1474.15" y="184.2" width="16.2" height="16.2" rx="1.5" fill="#ff0000"/>
<rect x="1938.7" y="322.5" width="16.2" height="16.2" rx="1.5" fill="#ff0000"/>
<line x1="1490.6" y1="193.6" x2="1919.89" y2="323.98" stroke="#ec4a0a" stroke-width="2"/>
<path d="M1937.4 329.3L1912.63 331.71L1919.89 323.98L1918.15 313.53Z" fill="#e85414"/>
<rect x="1327.4" y="538.9" width="619.4" height="403.5" fill="none" stroke="#303030" stroke-width="1.3"/>
<path d="M1328 942.4h5.6M1946.2 942.4h-5.6M1328 861.7h5.6M1946.2 861.7h-5.6M1328 781h5.6M1946.2 781h-5.6M1328 700.3h5.6M1946.2 700.3h-5.6M1328 619.6h5.6M1946.2 619.6h-5.6M1328 538.9h5.6M1946.2 538.9h-5.6M1327.4 941.8v-5.6M1327.4 539.5v5.6M1482.25 941.8v-5.6M1482.25 539.5v5.6M1637.1 941.8v-5.6M1637.1 539.5v5.6M1791.95 941.8v-5.6M1791.95 539.5v5.6M1946.8 941.8v-5.6M1946.8 539.5v5.6" stroke="#303030" stroke-width="1.3" fill="none"/>
<rect x="1327.4" y="538.9" width="154.85" height="403.5" fill="#c2ffc2" fill-opacity="0.46"/>
<rect x="1482.25" y="538.9" width="464.55" height="403.5" fill="#90c6f8" fill-opacity="0.46"/>
<text x="1316.7" y="953.8" text-anchor="end" font-family="Liberation Sans, sans-serif" font-size="29" fill="#262626">0</text>
<text x="1316.7" y="873.1" text-anchor="end" font-family="Liberation Sans, sans-serif" font-size="29" fill="#262626">0.2</text>
<text x="1316.7" y="792.4" text-anchor="end" font-family="Liberation Sans, sans-serif" font-size="29" fill="#262626">0.4</text>
<text x="1316.7" y="711.7" text-anchor="end" font-family="Liberation Sans, sans-serif" font-size="29" fill="#262626">0.6</text>
<text x="1316.7" y="631" text-anchor="end" font-family="Liberation Sans, sans-serif" font-size="29" fill="#262626">0.8</text>
<text x="1316.7" y="550.3" text-anchor="end" font-family="Liberation Sans, sans-serif" font-size="29" fill="#262626">1</text>
<text x="1327.4" y="981.6" text-anchor="middle" font-family="Liberation Sans, sans-serif" font-size="29" fill="#262626">0</text>
<text x="1486.05" y="981.6" text-anchor="middle" font-family="Liberation Sans, sans-serif" font-size="29" fill="#262626">3/8</text>
<text x="1640.9" y="981.6" text-anchor="middle" font-family="Liberation Sans, sans-serif" font-size="29" fill="#262626">3/4</text>
<text x="1795.75" y="981.6" text-anchor="middle" font-family="Liberation Sans, sans-serif" font-size="29" fill="#262626">9/8</text>
<text x="1950.6" y="981.6" text-anchor="middle" font-family="Liberation Sans, sans-serif" font-size="29" fill="#262626">3/2</text>
<text transform="translate(1262 740.65) rotate(-90)" x="0" y="0" text-anchor="middle" font-family="Liberation Sans, sans-serif" font-size="32" fill="#262626">Trace distance</text>
<text x="1607.7" y="1017.6" font-family="Liberation Serif, DejaVu Math TeX Gyre, serif" font-size="28" fill="#262626">𝜑</text>
<text x="1628.2" y="1019.2" font-family="DejaVu Math TeX Gyre, serif" font-size="37" fill="#262626">/</text>
<text x="1643.8" y="1017.2" font-family="Liberation Serif, DejaVu Math TeX Gyre, serif" font-size="28" fill="#262626">𝜋</text>
<path d="M1327.4 928.15 L1331.53 922.22 L1335.66 916.29 L1339.79 910.36 L1343.92 904.42 L1348.05 898.48 L1352.18 892.54 L1356.31 886.6 L1360.43 880.66 L1364.56 874.73 L1368.69 868.81 L1372.82 862.89 L1376.95 856.99 L1381.08 851.09 L1385.21 845.21 L1389.34 839.35 L1393.47 833.5 L1397.6 827.67 L1401.73 821.85 L1405.86 816.06 L1409.99 810.29 L1414.12 804.55 L1418.25 798.83 L1422.37 793.14 L1426.5 787.48 L1430.63 781.85 L1434.76 776.26 L1438.89 770.69 L1443.02 765.17 L1447.15 759.68 L1451.28 754.22 L1455.41 748.81 L1459.54 743.44 L1463.67 738.11 L1467.8 732.83 L1471.93 727.59 L1476.06 722.4 L1480.19 717.26 L1484.31 712.17 L1488.44 707.13 L1492.57 702.15 L1496.7 697.22 L1500.83 692.34 L1504.96 687.52 L1509.09 682.77 L1513.22 678.07 L1517.35 673.43 L1521.48 668.85 L1525.61 664.34 L1529.74 659.89 L1533.87 655.51 L1538 651.2 L1542.13 646.95 L1546.25 642.78 L1550.38 638.68 L1554.51 634.64 L1558.64 630.69 L1562.77 626.8 L1566.9 622.99 L1571.03 619.26 L1575.16 615.61 L1579.29 612.03 L1583.42 608.53 L1587.55 605.12 L1591.68 601.78 L1595.81 598.53 L1599.94 595.36 L1604.07 592.28 L1608.19 589.28 L1612.32 586.36 L1616.45 583.54 L1620.58 580.8 L1624.71 578.15 L1628.84 575.58 L1632.97 573.11 L1637.1 570.73 L1641.23 568.43 L1645.36 566.23 L1649.49 564.13 L1653.62 562.11 L1657.75 560.19 L1661.88 558.36 L1666.01 556.63 L1670.13 554.99 L1674.26 553.45 L1678.39 552 L1682.52 550.65 L1686.65 549.39 L1690.78 548.24 L1694.91 547.18 L1699.04 546.21 L1703.17 545.35 L1707.3 544.58 L1711.43 543.91 L1715.56 543.34 L1719.69 542.87 L1723.82 542.5 L1727.95 542.22 L1732.07 542.05 L1736.2 541.97 L1740.33 541.99 L1744.46 542.11 L1748.59 542.33 L1752.72 542.65 L1756.85 543.07 L1760.98 543.59 L1765.11 544.2 L1769.24 544.92 L1773.37 545.73 L1777.5 546.64 L1781.63 547.65 L1785.76 548.75 L1789.89 549.95 L1794.01 551.25 L1798.14 552.65 L1802.27 554.14 L1806.4 555.72 L1810.53 557.41 L1814.66 559.18 L1818.79 561.05 L1822.92 563.02 L1827.05 565.07 L1831.18 567.22 L1835.31 569.47 L1839.44 571.8 L1843.57 574.22 L1847.7 576.74 L1851.83 579.34 L1855.95 582.03 L1860.08 584.81 L1864.21 587.68 L1868.34 590.63 L1872.47 593.67 L1876.6 596.8 L1880.73 600 L1884.86 603.29 L1888.99 606.66 L1893.12 610.12 L1897.25 613.65 L1901.38 617.26 L1905.51 620.95 L1909.64 624.72 L1913.77 628.56 L1917.89 632.48 L1922.02 636.47 L1926.15 640.54 L1930.28 644.67 L1934.41 648.88 L1938.54 653.16 L1942.67 657.5 L1946.8 661.91" fill="none" stroke="#000" stroke-width="4" stroke-linejoin="round"/>
<rect x="1321.3" y="920" width="12.2" height="12.2" rx="1.3" fill="#0000ff"/>
<rect x="1334.2" y="900.5" width="12.2" height="12.2" rx="1.3" fill="#0000ff"/>
<rect x="1347.11" y="888.3" width="12.2" height="12.2" rx="1.3" fill="#0000ff"/>
<rect x="1360.01" y="868" width="12.2" height="12.2" rx="1.3" fill="#0000ff"/>
<rect x="1372.92" y="847.7" width="12.2" height="12.2" rx="1.3" fill="#0000ff"/>
<rect x="1385.82" y="830" width="12.2" height="12.2" rx="1.3" fill="#0000ff"/>
<rect x="1398.73" y="811.3" width="12.2" height="12.2" rx="1.3" fill="#0000ff"/>
<rect x="1411.63" y="793" width="12.2" height="12.2" rx="1.3" fill="#0000ff"/>
<rect x="1424.53" y="779.5" width="12.2" height="12.2" rx="1.3" fill="#0000ff"/>
<rect x="1437.44" y="762.1" width="12.2" height="12.2" rx="1.3" fill="#0000ff"/>
<rect x="1450.34" y="739.4" width="12.2" height="12.2" rx="1.3" fill="#0000ff"/>
<rect x="1463.25" y="722.3" width="12.2" height="12.2" rx="1.3" fill="#0000ff"/>
<rect x="1489.05" y="692.4" width="12.2" height="12.2" rx="1.3" fill="#0000ff"/>
<rect x="1501.96" y="676.7" width="12.2" height="12.2" rx="1.3" fill="#0000ff"/>
<rect x="1514.86" y="663.3" width="12.2" height="12.2" rx="1.3" fill="#0000ff"/>
<rect x="1527.77" y="648.6" width="12.2" height="12.2" rx="1.3" fill="#0000ff"/>
<rect x="1540.67" y="636.4" width="12.2" height="12.2" rx="1.3" fill="#0000ff"/>
<rect x="1553.58" y="620.9" width="12.2" height="12.2" rx="1.3" fill="#0000ff"/>
<rect x="1566.48" y="617.4" width="12.2" height="12.2" rx="1.3" fill="#0000ff"/>
<rect x="1579.38" y="599.1" width="12.2" height="12.2" rx="1.3" fill="#0000ff"/>
<rect x="1592.29" y="586.3" width="12.2" height="12.2" rx="1.3" fill="#0000ff"/>
<rect x="1605.19" y="578.7" width="12.2" height="12.2" rx="1.3" fill="#0000ff"/>
<rect x="1618.1" y="574" width="12.2" height="12.2" rx="1.3" fill="#0000ff"/>
<rect x="1631" y="563" width="12.2" height="12.2" rx="1.3" fill="#0000ff"/>
<rect x="1643.9" y="560.9" width="12.2" height="12.2" rx="1.3" fill="#0000ff"/>
<rect x="1656.81" y="552.6" width="12.2" height="12.2" rx="1.3" fill="#0000ff"/>
<rect x="1669.71" y="546.9" width="12.2" height="12.2" rx="1.3" fill="#0000ff"/>
<rect x="1682.62" y="543.7" width="12.2" height="12.2" rx="1.3" fill="#0000ff"/>
<rect x="1695.52" y="538" width="12.2" height="12.2" rx="1.3" fill="#0000ff"/>
<rect x="1708.43" y="534.4" width="12.2" height="12.2" rx="1.3" fill="#0000ff"/>
<rect x="1721.33" y="536.2" width="12.2" height="12.2" rx="1.3" fill="#0000ff"/>
<rect x="1734.23" y="533.8" width="12.2" height="12.2" rx="1.3" fill="#0000ff"/>
<rect x="1747.14" y="537.8" width="12.2" height="12.2" rx="1.3" fill="#0000ff"/>
<rect x="1760.04" y="541.5" width="12.2" height="12.2" rx="1.3" fill="#0000ff"/>
<rect x="1772.95" y="544.4" width="12.2" height="12.2" rx="1.3" fill="#0000ff"/>
<rect x="1785.85" y="547" width="12.2" height="12.2" rx="1.3" fill="#0000ff"/>
<rect x="1798.75" y="551" width="12.2" height="12.2" rx="1.3" fill="#0000ff"/>
<rect x="1811.66" y="553.6" width="12.2" height="12.2" rx="1.3" fill="#0000ff"/>
<rect x="1824.56" y="559.5" width="12.2" height="12.2" rx="1.3" fill="#0000ff"/>
<rect x="1837.47" y="567.5" width="12.2" height="12.2" rx="1.3" fill="#0000ff"/>
<rect x="1850.37" y="577.1" width="12.2" height="12.2" rx="1.3" fill="#0000ff"/>
<rect x="1863.28" y="585.3" width="12.2" height="12.2" rx="1.3" fill="#0000ff"/>
<rect x="1876.18" y="592.3" width="12.2" height="12.2" rx="1.3" fill="#0000ff"/>
<rect x="1889.08" y="603.1" width="12.2" height="12.2" rx="1.3" fill="#0000ff"/>
<rect x="1901.99" y="616.9" width="12.2" height="12.2" rx="1.3" fill="#0000ff"/>
<rect x="1914.89" y="629.5" width="12.2" height="12.2" rx="1.3" fill="#0000ff"/>
<rect x="1927.8" y="639.8" width="12.2" height="12.2" rx="1.3" fill="#0000ff"/>
<rect x="1940.7" y="659.8" width="12.2" height="12.2" rx="1.3" fill="#0000ff"/>
<rect x="1474.15" y="706.8" width="16.2" height="16.2" rx="1.5" fill="#ff0000"/>
<rect x="1938.7" y="822.5" width="16.2" height="16.2" rx="1.5" fill="#ff0000"/>
<line x1="1490.6" y1="713" x2="1919.71" y2="826.9" stroke="#ec4a0a" stroke-width="2"/>
<path d="M1937.4 831.6L1912.73 834.88L1919.71 826.9L1917.61 816.52Z" fill="#e85414"/>
<rect x="1327.4" y="1066.9" width="619.4" height="403.2" fill="none" stroke="#303030" stroke-width="1.3"/>
<path d="M1328 1470.1h5.6M1946.2 1470.1h-5.6M1328 1389.46h5.6M1946.2 1389.46h-5.6M1328 1308.82h5.6M1946.2 1308.82h-5.6M1328 1228.18h5.6M1946.2 1228.18h-5.6M1328 1147.54h5.6M1946.2 1147.54h-5.6M1328 1066.9h5.6M1946.2 1066.9h-5.6M1327.4 1469.5v-5.6M1327.4 1067.5v5.6M1482.25 1469.5v-5.6M1482.25 1067.5v5.6M1637.1 1469.5v-5.6M1637.1 1067.5v5.6M1791.95 1469.5v-5.6M1791.95 1067.5v5.6M1946.8 1469.5v-5.6M1946.8 1067.5v5.6" stroke="#303030" stroke-width="1.3" fill="none"/>
<rect x="1327.4" y="1066.9" width="154.85" height="403.2" fill="#c2ffc2" fill-opacity="0.46"/>
<rect x="1482.25" y="1066.9" width="464.55" height="403.2" fill="#90c6f8" fill-opacity="0.46"/>
<text x="1316.7" y="1481.5" text-anchor="end" font-family="Liberation Sans, sans-serif" font-size="29" fill="#262626">0</text>
<text x="1316.7" y="1400.86" text-anchor="end" font-family="Liberation Sans, sans-serif" font-size="29" fill="#262626">0.2</text>
<text x="1316.7" y="1320.22" text-anchor="end" font-family="Liberation Sans, sans-serif" font-size="29" fill="#262626">0.4</text>
<text x="1316.7" y="1239.58" text-anchor="end" font-family="Liberation Sans, sans-serif" font-size="29" fill="#262626">0.6</text>
<text x="1316.7" y="1158.94" text-anchor="end" font-family="Liberation Sans, sans-serif" font-size="29" fill="#262626">0.8</text>
<text x="1316.7" y="1078.3" text-anchor="end" font-family="Liberation Sans, sans-serif" font-size="29" fill="#262626">1</text>
<text x="1327.4" y="1509.3" text-anchor="middle" font-family="Liberation Sans, sans-serif" font-size="29" fill="#262626">0</text>
<text x="1486.05" y="1509.3" text-anchor="middle" font-family="Liberation Sans, sans-serif" font-size="29" fill="#262626">3/8</text>
<text x="1640.9" y="1509.3" text-anchor="middle" font-family="Liberation Sans, sans-serif" font-size="29" fill="#262626">3/4</text>
<text x="1795.75" y="1509.3" text-anchor="middle" font-family="Liberation Sans, sans-serif" font-size="29" fill="#262626">9/8</text>
<text x="1950.6" y="1509.3" text-anchor="middle" font-family="Liberation Sans, sans-serif" font-size="29" fill="#262626">3/2</text>
<text transform="translate(1262 1268.5) rotate(-90)" x="0" y="0" text-anchor="middle" font-family="Liberation Sans, sans-serif" font-size="32" fill="#262626">Trace distance</text>
<text x="1607.7" y="1545.3" font-family="Liberation Serif, DejaVu Math TeX Gyre, serif" font-size="28" fill="#262626">𝜑</text>
<text x="1628.2" y="1546.9" font-family="DejaVu Math TeX Gyre, serif" font-size="37" fill="#262626">/</text>
<text x="1643.8" y="1544.9" font-family="Liberation Serif, DejaVu Math TeX Gyre, serif" font-size="28" fill="#262626">𝜋</text>
<path d="M1327.4 1443.57 L1331.53 1438.8 L1335.66 1434.01 L1339.79 1429.22 L1343.92 1424.42 L1348.05 1419.62 L1352.18 1414.81 L1356.31 1409.99 L1360.43 1405.18 L1364.56 1400.37 L1368.69 1395.56 L1372.82 1390.75 L1376.95 1385.94 L1381.08 1381.14 L1385.21 1376.35 L1389.34 1371.56 L1393.47 1366.78 L1397.6 1362.02 L1401.73 1357.26 L1405.86 1352.52 L1409.99 1347.8 L1414.12 1343.09 L1418.25 1338.4 L1422.37 1333.73 L1426.5 1329.07 L1430.63 1324.44 L1434.76 1319.83 L1438.89 1315.25 L1443.02 1310.69 L1447.15 1306.16 L1451.28 1301.65 L1455.41 1297.18 L1459.54 1292.73 L1463.67 1288.32 L1467.8 1283.94 L1471.93 1279.59 L1476.06 1275.28 L1480.19 1271 L1484.31 1266.77 L1488.44 1262.57 L1492.57 1258.41 L1496.7 1254.3 L1500.83 1250.22 L1504.96 1246.19 L1509.09 1242.21 L1513.22 1238.27 L1517.35 1234.38 L1521.48 1230.53 L1525.61 1226.74 L1529.74 1222.99 L1533.87 1219.3 L1538 1215.66 L1542.13 1212.07 L1546.25 1208.54 L1550.38 1205.06 L1554.51 1201.64 L1558.64 1198.28 L1562.77 1194.98 L1566.9 1191.73 L1571.03 1188.55 L1575.16 1185.42 L1579.29 1182.36 L1583.42 1179.36 L1587.55 1176.43 L1591.68 1173.55 L1595.81 1170.75 L1599.94 1168.01 L1604.07 1165.34 L1608.19 1162.73 L1612.32 1160.2 L1616.45 1157.73 L1620.58 1155.33 L1624.71 1153.01 L1628.84 1150.75 L1632.97 1148.57 L1637.1 1146.46 L1641.23 1144.42 L1645.36 1142.45 L1649.49 1140.56 L1653.62 1138.75 L1657.75 1137.01 L1661.88 1135.34 L1666.01 1133.75 L1670.13 1132.24 L1674.26 1130.81 L1678.39 1129.45 L1682.52 1128.17 L1686.65 1126.97 L1690.78 1125.84 L1694.91 1124.8 L1699.04 1123.83 L1703.17 1122.95 L1707.3 1122.14 L1711.43 1121.42 L1715.56 1120.77 L1719.69 1120.21 L1723.82 1119.72 L1727.95 1119.32 L1732.07 1118.99 L1736.2 1118.75 L1740.33 1118.59 L1744.46 1118.51 L1748.59 1118.51 L1752.72 1118.59 L1756.85 1118.75 L1760.98 1118.99 L1765.11 1119.31 L1769.24 1119.72 L1773.37 1120.2 L1777.5 1120.77 L1781.63 1121.41 L1785.76 1122.14 L1789.89 1122.94 L1794.01 1123.83 L1798.14 1124.79 L1802.27 1125.84 L1806.4 1126.96 L1810.53 1128.16 L1814.66 1129.44 L1818.79 1130.79 L1822.92 1132.23 L1827.05 1133.74 L1831.18 1135.33 L1835.31 1136.99 L1839.44 1138.73 L1843.57 1140.55 L1847.7 1142.44 L1851.83 1144.4 L1855.95 1146.44 L1860.08 1148.55 L1864.21 1150.73 L1868.34 1152.99 L1872.47 1155.31 L1876.6 1157.71 L1880.73 1160.18 L1884.86 1162.71 L1888.99 1165.32 L1893.12 1167.99 L1897.25 1170.73 L1901.38 1173.53 L1905.51 1176.4 L1909.64 1179.34 L1913.77 1182.34 L1917.89 1185.4 L1922.02 1188.52 L1926.15 1191.71 L1930.28 1194.95 L1934.41 1198.26 L1938.54 1201.62 L1942.67 1205.04 L1946.8 1208.51" fill="none" stroke="#000" stroke-width="4" stroke-linejoin="round"/>
<rect x="1321.3" y="1424.3" width="12.2" height="12.2" rx="1.3" fill="#0000ff"/>
<rect x="1334.2" y="1415.4" width="12.2" height="12.2" rx="1.3" fill="#0000ff"/>
<rect x="1347.11" y="1400.5" width="12.2" height="12.2" rx="1.3" fill="#0000ff"/>
<rect x="1360.01" y="1382.1" width="12.2" height="12.2" rx="1.3" fill="#0000ff"/>
<rect x="1372.92" y="1385.9" width="12.2" height="12.2" rx="1.3" fill="#0000ff"/>
<rect x="1385.82" y="1369" width="12.2" height="12.2" rx="1.3" fill="#0000ff"/>
<rect x="1398.73" y="1352.1" width="12.2" height="12.2" rx="1.3" fill="#0000ff"/>
<rect x="1411.63" y="1336.6" width="12.2" height="12.2" rx="1.3" fill="#0000ff"/>
<rect x="1424.53" y="1318.9" width="12.2" height="12.2" rx="1.3" fill="#0000ff"/>
<rect x="1437.44" y="1319.2" width="12.2" height="12.2" rx="1.3" fill="#0000ff"/>
<rect x="1450.34" y="1309.4" width="12.2" height="12.2" rx="1.3" fill="#0000ff"/>
<rect x="1463.25" y="1274.6" width="12.2" height="12.2" rx="1.3" fill="#0000ff"/>
<rect x="1489.05" y="1240.1" width="12.2" height="12.2" rx="1.3" fill="#0000ff"/>
<rect x="1501.96" y="1233.1" width="12.2" height="12.2" rx="1.3" fill="#0000ff"/>
<rect x="1514.86" y="1227.8" width="12.2" height="12.2" rx="1.3" fill="#0000ff"/>
<rect x="1527.77" y="1218.6" width="12.2" height="12.2" rx="1.3" fill="#0000ff"/>
<rect x="1540.67" y="1192.1" width="12.2" height="12.2" rx="1.3" fill="#0000ff"/>
<rect x="1553.58" y="1182" width="12.2" height="12.2" rx="1.3" fill="#0000ff"/>
<rect x="1566.48" y="1173.5" width="12.2" height="12.2" rx="1.3" fill="#0000ff"/>
<rect x="1579.38" y="1160" width="12.2" height="12.2" rx="1.3" fill="#0000ff"/>
<rect x="1592.29" y="1158.8" width="12.2" height="12.2" rx="1.3" fill="#0000ff"/>
<rect x="1605.19" y="1154.4" width="12.2" height="12.2" rx="1.3" fill="#0000ff"/>
<rect x="1618.1" y="1137.4" width="12.2" height="12.2" rx="1.3" fill="#0000ff"/>
<rect x="1631" y="1151.5" width="12.2" height="12.2" rx="1.3" fill="#0000ff"/>
<rect x="1643.9" y="1123.6" width="12.2" height="12.2" rx="1.3" fill="#0000ff"/>
<rect x="1656.81" y="1131.5" width="12.2" height="12.2" rx="1.3" fill="#0000ff"/>
<rect x="1669.71" y="1135" width="12.2" height="12.2" rx="1.3" fill="#0000ff"/>
<rect x="1682.62" y="1116.5" width="12.2" height="12.2" rx="1.3" fill="#0000ff"/>
<rect x="1695.52" y="1121.6" width="12.2" height="12.2" rx="1.3" fill="#0000ff"/>
<rect x="1708.43" y="1122.5" width="12.2" height="12.2" rx="1.3" fill="#0000ff"/>
<rect x="1721.33" y="1119.3" width="12.2" height="12.2" rx="1.3" fill="#0000ff"/>
<rect x="1734.23" y="1111.4" width="12.2" height="12.2" rx="1.3" fill="#0000ff"/>
<rect x="1747.14" y="1110.3" width="12.2" height="12.2" rx="1.3" fill="#0000ff"/>
<rect x="1760.04" y="1110.3" width="12.2" height="12.2" rx="1.3" fill="#0000ff"/>
<rect x="1772.95" y="1116.9" width="12.2" height="12.2" rx="1.3" fill="#0000ff"/>
<rect x="1785.85" y="1121.5" width="12.2" height="12.2" rx="1.3" fill="#0000ff"/>
<rect x="1798.75" y="1123.5" width="12.2" height="12.2" rx="1.3" fill="#0000ff"/>
<rect x="1811.66" y="1124.2" width="12.2" height="12.2" rx="1.3" fill="#0000ff"/>
<rect x="1824.56" y="1132.1" width="12.2" height="12.2" rx="1.3" fill="#0000ff"/>
<rect x="1837.47" y="1141.3" width="12.2" height="12.2" rx="1.3" fill="#0000ff"/>
<rect x="1850.37" y="1145.7" width="12.2" height="12.2" rx="1.3" fill="#0000ff"/>
<rect x="1863.28" y="1150.9" width="12.2" height="12.2" rx="1.3" fill="#0000ff"/>
<rect x="1876.18" y="1162.4" width="12.2" height="12.2" rx="1.3" fill="#0000ff"/>
<rect x="1889.08" y="1151.2" width="12.2" height="12.2" rx="1.3" fill="#0000ff"/>
<rect x="1901.99" y="1160.4" width="12.2" height="12.2" rx="1.3" fill="#0000ff"/>
<rect x="1914.89" y="1169.7" width="12.2" height="12.2" rx="1.3" fill="#0000ff"/>
<rect x="1927.8" y="1179.6" width="12.2" height="12.2" rx="1.3" fill="#0000ff"/>
<rect x="1940.7" y="1207.3" width="12.2" height="12.2" rx="1.3" fill="#0000ff"/>
<rect x="1474.15" y="1257.9" width="16.2" height="16.2" rx="1.5" fill="#ff0000"/>
<rect x="1938.7" y="1362.8" width="16.2" height="16.2" rx="1.5" fill="#ff0000"/>
<line x1="1490.7" y1="1264" x2="1919.9" y2="1366.55" stroke="#ec4a0a" stroke-width="2"/>
<path d="M1937.7 1370.8L1913.12 1374.7L1919.9 1366.55L1917.54 1356.22Z" fill="#e85414"/>
</svg>
</body></html>
